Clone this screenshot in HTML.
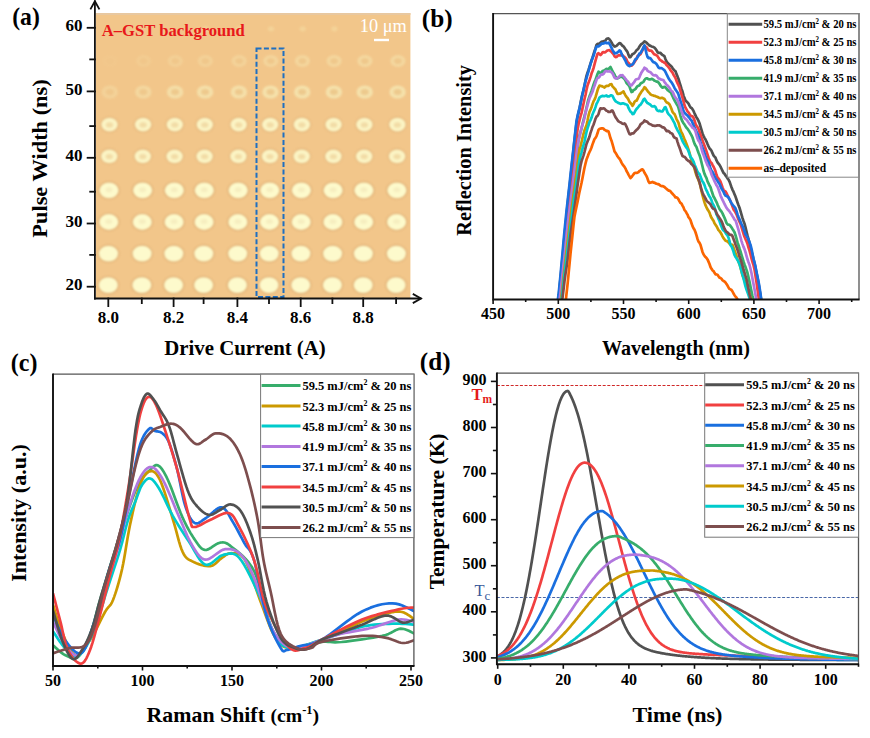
<!DOCTYPE html>
<html><head><meta charset="utf-8"><style>
html,body{margin:0;padding:0;background:#fff;width:870px;height:738px;overflow:hidden}
svg text{font-family:"Liberation Serif",serif}
</style></head><body>
<svg width="870" height="738" viewBox="0 0 870 738" style="display:block">
<defs>
<filter id="bl05" x="-50%" y="-50%" width="200%" height="200%"><feGaussianBlur stdDeviation="0.7"/></filter>
<filter id="bl1" x="-50%" y="-50%" width="200%" height="200%"><feGaussianBlur stdDeviation="1.3"/></filter>
<linearGradient id="topg" x1="0" y1="0" x2="0" y2="1"><stop offset="0" stop-color="#F0C49A" stop-opacity="0.6"/><stop offset="1" stop-color="#F0C49A" stop-opacity="0"/></linearGradient>
</defs>
<rect width="870" height="738" fill="#fff"/>
<rect x="95.8" y="13" width="314.59999999999997" height="285" fill="#F2C68A"/>
<rect x="95.8" y="13" width="314.59999999999997" height="2" fill="#E8C8A0"/>
<ellipse cx="108.3" cy="285.1" rx="11.0" ry="9.3" fill="#D4A068" opacity="0.45" filter="url(#bl1)"/>
<ellipse cx="108.3" cy="285.1" rx="9.6" ry="7.9" fill="#FDFACC" filter="url(#bl1)"/>
<ellipse cx="141.8" cy="285.1" rx="11.0" ry="9.3" fill="#D4A068" opacity="0.45" filter="url(#bl1)"/>
<ellipse cx="141.8" cy="285.1" rx="9.6" ry="7.9" fill="#FDFACC" filter="url(#bl1)"/>
<ellipse cx="173.6" cy="285.1" rx="11.0" ry="9.3" fill="#D4A068" opacity="0.45" filter="url(#bl1)"/>
<ellipse cx="173.6" cy="285.1" rx="9.6" ry="7.9" fill="#FDFACC" filter="url(#bl1)"/>
<ellipse cx="203.6" cy="285.1" rx="11.0" ry="9.3" fill="#D4A068" opacity="0.45" filter="url(#bl1)"/>
<ellipse cx="203.6" cy="285.1" rx="9.6" ry="7.9" fill="#FDFACC" filter="url(#bl1)"/>
<ellipse cx="237.4" cy="285.1" rx="11.0" ry="9.3" fill="#D4A068" opacity="0.45" filter="url(#bl1)"/>
<ellipse cx="237.4" cy="285.1" rx="9.6" ry="7.9" fill="#FDFACC" filter="url(#bl1)"/>
<ellipse cx="269.0" cy="285.1" rx="11.0" ry="9.3" fill="#D4A068" opacity="0.45" filter="url(#bl1)"/>
<ellipse cx="269.0" cy="285.1" rx="9.6" ry="7.9" fill="#FDFACC" filter="url(#bl1)"/>
<ellipse cx="300.7" cy="285.1" rx="11.0" ry="9.3" fill="#D4A068" opacity="0.45" filter="url(#bl1)"/>
<ellipse cx="300.7" cy="285.1" rx="9.6" ry="7.9" fill="#FDFACC" filter="url(#bl1)"/>
<ellipse cx="332.4" cy="285.1" rx="11.0" ry="9.3" fill="#D4A068" opacity="0.45" filter="url(#bl1)"/>
<ellipse cx="332.4" cy="285.1" rx="9.6" ry="7.9" fill="#FDFACC" filter="url(#bl1)"/>
<ellipse cx="363.2" cy="285.1" rx="11.0" ry="9.3" fill="#D4A068" opacity="0.45" filter="url(#bl1)"/>
<ellipse cx="363.2" cy="285.1" rx="9.6" ry="7.9" fill="#FDFACC" filter="url(#bl1)"/>
<ellipse cx="396.1" cy="285.1" rx="11.0" ry="9.3" fill="#D4A068" opacity="0.45" filter="url(#bl1)"/>
<ellipse cx="396.1" cy="285.1" rx="9.6" ry="7.9" fill="#FDFACC" filter="url(#bl1)"/>
<ellipse cx="108.5" cy="253.6" rx="11.0" ry="9.3" fill="#D4A068" opacity="0.45" filter="url(#bl1)"/>
<ellipse cx="108.5" cy="253.6" rx="9.6" ry="7.9" fill="#FDFACC" filter="url(#bl1)"/>
<ellipse cx="142.1" cy="253.6" rx="11.0" ry="9.3" fill="#D4A068" opacity="0.45" filter="url(#bl1)"/>
<ellipse cx="142.1" cy="253.6" rx="9.6" ry="7.9" fill="#FDFACC" filter="url(#bl1)"/>
<ellipse cx="173.8" cy="253.6" rx="11.0" ry="9.3" fill="#D4A068" opacity="0.45" filter="url(#bl1)"/>
<ellipse cx="173.8" cy="253.6" rx="9.6" ry="7.9" fill="#FDFACC" filter="url(#bl1)"/>
<ellipse cx="203.8" cy="253.6" rx="11.0" ry="9.3" fill="#D4A068" opacity="0.45" filter="url(#bl1)"/>
<ellipse cx="203.8" cy="253.6" rx="9.6" ry="7.9" fill="#FDFACC" filter="url(#bl1)"/>
<ellipse cx="237.7" cy="253.6" rx="11.0" ry="9.3" fill="#D4A068" opacity="0.45" filter="url(#bl1)"/>
<ellipse cx="237.7" cy="253.6" rx="9.6" ry="7.9" fill="#FDFACC" filter="url(#bl1)"/>
<ellipse cx="269.2" cy="253.6" rx="11.0" ry="9.3" fill="#D4A068" opacity="0.45" filter="url(#bl1)"/>
<ellipse cx="269.2" cy="253.6" rx="9.6" ry="7.9" fill="#FDFACC" filter="url(#bl1)"/>
<ellipse cx="300.9" cy="253.6" rx="11.0" ry="9.3" fill="#D4A068" opacity="0.45" filter="url(#bl1)"/>
<ellipse cx="300.9" cy="253.6" rx="9.6" ry="7.9" fill="#FDFACC" filter="url(#bl1)"/>
<ellipse cx="332.6" cy="253.6" rx="11.0" ry="9.3" fill="#D4A068" opacity="0.45" filter="url(#bl1)"/>
<ellipse cx="332.6" cy="253.6" rx="9.6" ry="7.9" fill="#FDFACC" filter="url(#bl1)"/>
<ellipse cx="363.4" cy="253.6" rx="11.0" ry="9.3" fill="#D4A068" opacity="0.45" filter="url(#bl1)"/>
<ellipse cx="363.4" cy="253.6" rx="9.6" ry="7.9" fill="#FDFACC" filter="url(#bl1)"/>
<ellipse cx="396.4" cy="253.6" rx="11.0" ry="9.3" fill="#D4A068" opacity="0.45" filter="url(#bl1)"/>
<ellipse cx="396.4" cy="253.6" rx="9.6" ry="7.9" fill="#FDFACC" filter="url(#bl1)"/>
<ellipse cx="108.8" cy="222.0" rx="11.0" ry="9.3" fill="#D4A068" opacity="0.45" filter="url(#bl1)"/>
<ellipse cx="108.8" cy="222.0" rx="9.6" ry="7.9" fill="#FDFACC" filter="url(#bl1)"/>
<ellipse cx="108.8" cy="221.5" rx="3.5" ry="2.5" fill="#F6EEC0" filter="url(#bl1)"/>
<ellipse cx="142.3" cy="222.0" rx="11.0" ry="9.3" fill="#D4A068" opacity="0.45" filter="url(#bl1)"/>
<ellipse cx="142.3" cy="222.0" rx="9.6" ry="7.9" fill="#FDFACC" filter="url(#bl1)"/>
<ellipse cx="142.3" cy="221.5" rx="3.5" ry="2.5" fill="#F6EEC0" filter="url(#bl1)"/>
<ellipse cx="174.1" cy="222.0" rx="11.0" ry="9.3" fill="#D4A068" opacity="0.45" filter="url(#bl1)"/>
<ellipse cx="174.1" cy="222.0" rx="9.6" ry="7.9" fill="#FDFACC" filter="url(#bl1)"/>
<ellipse cx="174.1" cy="221.5" rx="3.5" ry="2.5" fill="#F6EEC0" filter="url(#bl1)"/>
<ellipse cx="204.1" cy="222.0" rx="11.0" ry="9.3" fill="#D4A068" opacity="0.45" filter="url(#bl1)"/>
<ellipse cx="204.1" cy="222.0" rx="9.6" ry="7.9" fill="#FDFACC" filter="url(#bl1)"/>
<ellipse cx="204.1" cy="221.5" rx="3.5" ry="2.5" fill="#F6EEC0" filter="url(#bl1)"/>
<ellipse cx="237.9" cy="222.0" rx="11.0" ry="9.3" fill="#D4A068" opacity="0.45" filter="url(#bl1)"/>
<ellipse cx="237.9" cy="222.0" rx="9.6" ry="7.9" fill="#FDFACC" filter="url(#bl1)"/>
<ellipse cx="237.9" cy="221.5" rx="3.5" ry="2.5" fill="#F6EEC0" filter="url(#bl1)"/>
<ellipse cx="269.5" cy="222.0" rx="11.0" ry="9.3" fill="#D4A068" opacity="0.45" filter="url(#bl1)"/>
<ellipse cx="269.5" cy="222.0" rx="9.6" ry="7.9" fill="#FDFACC" filter="url(#bl1)"/>
<ellipse cx="269.5" cy="221.5" rx="3.5" ry="2.5" fill="#F6EEC0" filter="url(#bl1)"/>
<ellipse cx="301.2" cy="222.0" rx="11.0" ry="9.3" fill="#D4A068" opacity="0.45" filter="url(#bl1)"/>
<ellipse cx="301.2" cy="222.0" rx="9.6" ry="7.9" fill="#FDFACC" filter="url(#bl1)"/>
<ellipse cx="301.2" cy="221.5" rx="3.5" ry="2.5" fill="#F6EEC0" filter="url(#bl1)"/>
<ellipse cx="332.9" cy="222.0" rx="11.0" ry="9.3" fill="#D4A068" opacity="0.45" filter="url(#bl1)"/>
<ellipse cx="332.9" cy="222.0" rx="9.6" ry="7.9" fill="#FDFACC" filter="url(#bl1)"/>
<ellipse cx="332.9" cy="221.5" rx="3.5" ry="2.5" fill="#F6EEC0" filter="url(#bl1)"/>
<ellipse cx="363.7" cy="222.0" rx="11.0" ry="9.3" fill="#D4A068" opacity="0.45" filter="url(#bl1)"/>
<ellipse cx="363.7" cy="222.0" rx="9.6" ry="7.9" fill="#FDFACC" filter="url(#bl1)"/>
<ellipse cx="363.7" cy="221.5" rx="3.5" ry="2.5" fill="#F6EEC0" filter="url(#bl1)"/>
<ellipse cx="396.6" cy="222.0" rx="11.0" ry="9.3" fill="#D4A068" opacity="0.45" filter="url(#bl1)"/>
<ellipse cx="396.6" cy="222.0" rx="9.6" ry="7.9" fill="#FDFACC" filter="url(#bl1)"/>
<ellipse cx="396.6" cy="221.5" rx="3.5" ry="2.5" fill="#F6EEC0" filter="url(#bl1)"/>
<ellipse cx="109.0" cy="190.3" rx="11.0" ry="9.3" fill="#D4A068" opacity="0.45" filter="url(#bl1)"/>
<ellipse cx="109.0" cy="190.3" rx="9.6" ry="7.9" fill="#FDFACC" filter="url(#bl1)"/>
<ellipse cx="109.0" cy="189.8" rx="3.5" ry="2.5" fill="#F6EEC0" filter="url(#bl1)"/>
<ellipse cx="142.6" cy="190.3" rx="11.0" ry="9.3" fill="#D4A068" opacity="0.45" filter="url(#bl1)"/>
<ellipse cx="142.6" cy="190.3" rx="9.6" ry="7.9" fill="#FDFACC" filter="url(#bl1)"/>
<ellipse cx="142.6" cy="189.8" rx="3.5" ry="2.5" fill="#F6EEC0" filter="url(#bl1)"/>
<ellipse cx="174.3" cy="190.3" rx="11.0" ry="9.3" fill="#D4A068" opacity="0.45" filter="url(#bl1)"/>
<ellipse cx="174.3" cy="190.3" rx="9.6" ry="7.9" fill="#FDFACC" filter="url(#bl1)"/>
<ellipse cx="174.3" cy="189.8" rx="3.5" ry="2.5" fill="#F6EEC0" filter="url(#bl1)"/>
<ellipse cx="204.3" cy="190.3" rx="11.0" ry="9.3" fill="#D4A068" opacity="0.45" filter="url(#bl1)"/>
<ellipse cx="204.3" cy="190.3" rx="9.6" ry="7.9" fill="#FDFACC" filter="url(#bl1)"/>
<ellipse cx="204.3" cy="189.8" rx="3.5" ry="2.5" fill="#F6EEC0" filter="url(#bl1)"/>
<ellipse cx="238.2" cy="190.3" rx="11.0" ry="9.3" fill="#D4A068" opacity="0.45" filter="url(#bl1)"/>
<ellipse cx="238.2" cy="190.3" rx="9.6" ry="7.9" fill="#FDFACC" filter="url(#bl1)"/>
<ellipse cx="238.2" cy="189.8" rx="3.5" ry="2.5" fill="#F6EEC0" filter="url(#bl1)"/>
<ellipse cx="269.8" cy="190.3" rx="11.0" ry="9.3" fill="#D4A068" opacity="0.45" filter="url(#bl1)"/>
<ellipse cx="269.8" cy="190.3" rx="9.6" ry="7.9" fill="#FDFACC" filter="url(#bl1)"/>
<ellipse cx="269.8" cy="189.8" rx="3.5" ry="2.5" fill="#F6EEC0" filter="url(#bl1)"/>
<ellipse cx="301.4" cy="190.3" rx="11.0" ry="9.3" fill="#D4A068" opacity="0.45" filter="url(#bl1)"/>
<ellipse cx="301.4" cy="190.3" rx="9.6" ry="7.9" fill="#FDFACC" filter="url(#bl1)"/>
<ellipse cx="301.4" cy="189.8" rx="3.5" ry="2.5" fill="#F6EEC0" filter="url(#bl1)"/>
<ellipse cx="333.1" cy="190.3" rx="11.0" ry="9.3" fill="#D4A068" opacity="0.45" filter="url(#bl1)"/>
<ellipse cx="333.1" cy="190.3" rx="9.6" ry="7.9" fill="#FDFACC" filter="url(#bl1)"/>
<ellipse cx="333.1" cy="189.8" rx="3.5" ry="2.5" fill="#F6EEC0" filter="url(#bl1)"/>
<ellipse cx="363.9" cy="190.3" rx="11.0" ry="9.3" fill="#D4A068" opacity="0.45" filter="url(#bl1)"/>
<ellipse cx="363.9" cy="190.3" rx="9.6" ry="7.9" fill="#FDFACC" filter="url(#bl1)"/>
<ellipse cx="363.9" cy="189.8" rx="3.5" ry="2.5" fill="#F6EEC0" filter="url(#bl1)"/>
<ellipse cx="396.9" cy="190.3" rx="11.0" ry="9.3" fill="#D4A068" opacity="0.45" filter="url(#bl1)"/>
<ellipse cx="396.9" cy="190.3" rx="9.6" ry="7.9" fill="#FDFACC" filter="url(#bl1)"/>
<ellipse cx="396.9" cy="189.8" rx="3.5" ry="2.5" fill="#F6EEC0" filter="url(#bl1)"/>
<ellipse cx="109.3" cy="156.3" rx="9.6" ry="8.2" fill="#D4A068" opacity="0.35" filter="url(#bl1)"/>
<ellipse cx="109.3" cy="156.3" rx="8.3" ry="6.9" fill="#FBF4C4" filter="url(#bl1)"/>
<ellipse cx="109.3" cy="156.6" rx="3.6" ry="2.7" fill="#F2DCA6" filter="url(#bl1)"/>
<ellipse cx="142.8" cy="156.3" rx="9.6" ry="8.2" fill="#D4A068" opacity="0.35" filter="url(#bl1)"/>
<ellipse cx="142.8" cy="156.3" rx="8.3" ry="6.9" fill="#FBF4C4" filter="url(#bl1)"/>
<ellipse cx="142.8" cy="156.6" rx="3.6" ry="2.7" fill="#F2DCA6" filter="url(#bl1)"/>
<ellipse cx="174.6" cy="156.3" rx="9.6" ry="8.2" fill="#D4A068" opacity="0.35" filter="url(#bl1)"/>
<ellipse cx="174.6" cy="156.3" rx="8.3" ry="6.9" fill="#FBF4C4" filter="url(#bl1)"/>
<ellipse cx="174.6" cy="156.6" rx="3.6" ry="2.7" fill="#F2DCA6" filter="url(#bl1)"/>
<ellipse cx="204.6" cy="156.3" rx="9.6" ry="8.2" fill="#D4A068" opacity="0.35" filter="url(#bl1)"/>
<ellipse cx="204.6" cy="156.3" rx="8.3" ry="6.9" fill="#FBF4C4" filter="url(#bl1)"/>
<ellipse cx="204.6" cy="156.6" rx="3.6" ry="2.7" fill="#F2DCA6" filter="url(#bl1)"/>
<ellipse cx="238.4" cy="156.3" rx="9.6" ry="8.2" fill="#D4A068" opacity="0.35" filter="url(#bl1)"/>
<ellipse cx="238.4" cy="156.3" rx="8.3" ry="6.9" fill="#FBF4C4" filter="url(#bl1)"/>
<ellipse cx="238.4" cy="156.6" rx="3.6" ry="2.7" fill="#F2DCA6" filter="url(#bl1)"/>
<ellipse cx="270.0" cy="156.3" rx="9.6" ry="8.2" fill="#D4A068" opacity="0.35" filter="url(#bl1)"/>
<ellipse cx="270.0" cy="156.3" rx="8.3" ry="6.9" fill="#FBF4C4" filter="url(#bl1)"/>
<ellipse cx="270.0" cy="156.6" rx="3.6" ry="2.7" fill="#F2DCA6" filter="url(#bl1)"/>
<ellipse cx="301.7" cy="156.3" rx="9.6" ry="8.2" fill="#D4A068" opacity="0.35" filter="url(#bl1)"/>
<ellipse cx="301.7" cy="156.3" rx="8.3" ry="6.9" fill="#FBF4C4" filter="url(#bl1)"/>
<ellipse cx="301.7" cy="156.6" rx="3.6" ry="2.7" fill="#F2DCA6" filter="url(#bl1)"/>
<ellipse cx="333.4" cy="156.3" rx="9.6" ry="8.2" fill="#D4A068" opacity="0.35" filter="url(#bl1)"/>
<ellipse cx="333.4" cy="156.3" rx="8.3" ry="6.9" fill="#FBF4C4" filter="url(#bl1)"/>
<ellipse cx="333.4" cy="156.6" rx="3.6" ry="2.7" fill="#F2DCA6" filter="url(#bl1)"/>
<ellipse cx="364.2" cy="156.3" rx="9.6" ry="8.2" fill="#D4A068" opacity="0.35" filter="url(#bl1)"/>
<ellipse cx="364.2" cy="156.3" rx="8.3" ry="6.9" fill="#FBF4C4" filter="url(#bl1)"/>
<ellipse cx="364.2" cy="156.6" rx="3.6" ry="2.7" fill="#F2DCA6" filter="url(#bl1)"/>
<ellipse cx="397.1" cy="156.3" rx="9.6" ry="8.2" fill="#D4A068" opacity="0.35" filter="url(#bl1)"/>
<ellipse cx="397.1" cy="156.3" rx="8.3" ry="6.9" fill="#FBF4C4" filter="url(#bl1)"/>
<ellipse cx="397.1" cy="156.6" rx="3.6" ry="2.7" fill="#F2DCA6" filter="url(#bl1)"/>
<ellipse cx="109.5" cy="124.6" rx="9.6" ry="8.2" fill="#D4A068" opacity="0.35" filter="url(#bl1)"/>
<ellipse cx="109.5" cy="124.6" rx="8.3" ry="6.9" fill="#FBF4C4" filter="url(#bl1)"/>
<ellipse cx="109.5" cy="124.9" rx="3.6" ry="2.7" fill="#F2DCA6" filter="url(#bl1)"/>
<ellipse cx="143.1" cy="124.6" rx="9.6" ry="8.2" fill="#D4A068" opacity="0.35" filter="url(#bl1)"/>
<ellipse cx="143.1" cy="124.6" rx="8.3" ry="6.9" fill="#FBF4C4" filter="url(#bl1)"/>
<ellipse cx="143.1" cy="124.9" rx="3.6" ry="2.7" fill="#F2DCA6" filter="url(#bl1)"/>
<ellipse cx="174.8" cy="124.6" rx="9.6" ry="8.2" fill="#D4A068" opacity="0.35" filter="url(#bl1)"/>
<ellipse cx="174.8" cy="124.6" rx="8.3" ry="6.9" fill="#FBF4C4" filter="url(#bl1)"/>
<ellipse cx="174.8" cy="124.9" rx="3.6" ry="2.7" fill="#F2DCA6" filter="url(#bl1)"/>
<ellipse cx="204.8" cy="124.6" rx="9.6" ry="8.2" fill="#D4A068" opacity="0.35" filter="url(#bl1)"/>
<ellipse cx="204.8" cy="124.6" rx="8.3" ry="6.9" fill="#FBF4C4" filter="url(#bl1)"/>
<ellipse cx="204.8" cy="124.9" rx="3.6" ry="2.7" fill="#F2DCA6" filter="url(#bl1)"/>
<ellipse cx="238.7" cy="124.6" rx="9.6" ry="8.2" fill="#D4A068" opacity="0.35" filter="url(#bl1)"/>
<ellipse cx="238.7" cy="124.6" rx="8.3" ry="6.9" fill="#FBF4C4" filter="url(#bl1)"/>
<ellipse cx="238.7" cy="124.9" rx="3.6" ry="2.7" fill="#F2DCA6" filter="url(#bl1)"/>
<ellipse cx="270.2" cy="124.6" rx="9.6" ry="8.2" fill="#D4A068" opacity="0.35" filter="url(#bl1)"/>
<ellipse cx="270.2" cy="124.6" rx="8.3" ry="6.9" fill="#FBF4C4" filter="url(#bl1)"/>
<ellipse cx="270.2" cy="124.9" rx="3.6" ry="2.7" fill="#F2DCA6" filter="url(#bl1)"/>
<ellipse cx="301.9" cy="124.6" rx="9.6" ry="8.2" fill="#D4A068" opacity="0.35" filter="url(#bl1)"/>
<ellipse cx="301.9" cy="124.6" rx="8.3" ry="6.9" fill="#FBF4C4" filter="url(#bl1)"/>
<ellipse cx="301.9" cy="124.9" rx="3.6" ry="2.7" fill="#F2DCA6" filter="url(#bl1)"/>
<ellipse cx="333.6" cy="124.6" rx="9.6" ry="8.2" fill="#D4A068" opacity="0.35" filter="url(#bl1)"/>
<ellipse cx="333.6" cy="124.6" rx="8.3" ry="6.9" fill="#FBF4C4" filter="url(#bl1)"/>
<ellipse cx="333.6" cy="124.9" rx="3.6" ry="2.7" fill="#F2DCA6" filter="url(#bl1)"/>
<ellipse cx="364.4" cy="124.6" rx="9.6" ry="8.2" fill="#D4A068" opacity="0.35" filter="url(#bl1)"/>
<ellipse cx="364.4" cy="124.6" rx="8.3" ry="6.9" fill="#FBF4C4" filter="url(#bl1)"/>
<ellipse cx="364.4" cy="124.9" rx="3.6" ry="2.7" fill="#F2DCA6" filter="url(#bl1)"/>
<ellipse cx="397.4" cy="124.6" rx="9.6" ry="8.2" fill="#D4A068" opacity="0.35" filter="url(#bl1)"/>
<ellipse cx="397.4" cy="124.6" rx="8.3" ry="6.9" fill="#FBF4C4" filter="url(#bl1)"/>
<ellipse cx="397.4" cy="124.9" rx="3.6" ry="2.7" fill="#F2DCA6" filter="url(#bl1)"/>
<g opacity="0.35"><ellipse cx="109.8" cy="92.0" rx="8.2" ry="6.6" fill="#F6E8B4" filter="url(#bl1)"/>
<ellipse cx="109.8" cy="92.0" rx="4" ry="3" fill="#EDCB8E" filter="url(#bl1)"/></g>
<g opacity="0.5"><ellipse cx="143.3" cy="92.0" rx="8.2" ry="6.6" fill="#F6E8B4" filter="url(#bl1)"/>
<ellipse cx="143.3" cy="92.0" rx="4" ry="3" fill="#EDCB8E" filter="url(#bl1)"/></g>
<g opacity="0.7"><ellipse cx="175.1" cy="92.0" rx="8.2" ry="6.6" fill="#F6E8B4" filter="url(#bl1)"/>
<ellipse cx="175.1" cy="92.0" rx="4" ry="3" fill="#EDCB8E" filter="url(#bl1)"/></g>
<g opacity="0.75"><ellipse cx="205.1" cy="92.0" rx="8.2" ry="6.6" fill="#F6E8B4" filter="url(#bl1)"/>
<ellipse cx="205.1" cy="92.0" rx="4" ry="3" fill="#EDCB8E" filter="url(#bl1)"/></g>
<g opacity="0.75"><ellipse cx="238.9" cy="92.0" rx="8.2" ry="6.6" fill="#F6E8B4" filter="url(#bl1)"/>
<ellipse cx="238.9" cy="92.0" rx="4" ry="3" fill="#EDCB8E" filter="url(#bl1)"/></g>
<g opacity="0.8"><ellipse cx="270.5" cy="92.0" rx="8.2" ry="6.6" fill="#F6E8B4" filter="url(#bl1)"/>
<ellipse cx="270.5" cy="92.0" rx="4" ry="3" fill="#EDCB8E" filter="url(#bl1)"/></g>
<g opacity="0.8"><ellipse cx="302.2" cy="92.0" rx="8.2" ry="6.6" fill="#F6E8B4" filter="url(#bl1)"/>
<ellipse cx="302.2" cy="92.0" rx="4" ry="3" fill="#EDCB8E" filter="url(#bl1)"/></g>
<g opacity="0.8"><ellipse cx="333.9" cy="92.0" rx="8.2" ry="6.6" fill="#F6E8B4" filter="url(#bl1)"/>
<ellipse cx="333.9" cy="92.0" rx="4" ry="3" fill="#EDCB8E" filter="url(#bl1)"/></g>
<g opacity="0.8"><ellipse cx="364.7" cy="92.0" rx="8.2" ry="6.6" fill="#F6E8B4" filter="url(#bl1)"/>
<ellipse cx="364.7" cy="92.0" rx="4" ry="3" fill="#EDCB8E" filter="url(#bl1)"/></g>
<g opacity="0.8"><ellipse cx="397.6" cy="92.0" rx="8.2" ry="6.6" fill="#F6E8B4" filter="url(#bl1)"/>
<ellipse cx="397.6" cy="92.0" rx="4" ry="3" fill="#EDCB8E" filter="url(#bl1)"/></g>
<g opacity="0.05"><ellipse cx="110.0" cy="61.1" rx="7.6" ry="6" fill="#F6E6B0" filter="url(#bl1)"/>
<ellipse cx="110.0" cy="61.1" rx="3.8" ry="2.8" fill="#EDC98C" filter="url(#bl1)"/></g>
<g opacity="0.18"><ellipse cx="143.6" cy="61.1" rx="7.6" ry="6" fill="#F6E6B0" filter="url(#bl1)"/>
<ellipse cx="143.6" cy="61.1" rx="3.8" ry="2.8" fill="#EDC98C" filter="url(#bl1)"/></g>
<g opacity="0.3"><ellipse cx="175.3" cy="61.1" rx="7.6" ry="6" fill="#F6E6B0" filter="url(#bl1)"/>
<ellipse cx="175.3" cy="61.1" rx="3.8" ry="2.8" fill="#EDC98C" filter="url(#bl1)"/></g>
<g opacity="0.35"><ellipse cx="205.3" cy="61.1" rx="7.6" ry="6" fill="#F6E6B0" filter="url(#bl1)"/>
<ellipse cx="205.3" cy="61.1" rx="3.8" ry="2.8" fill="#EDC98C" filter="url(#bl1)"/></g>
<g opacity="0.4"><ellipse cx="239.2" cy="61.1" rx="7.6" ry="6" fill="#F6E6B0" filter="url(#bl1)"/>
<ellipse cx="239.2" cy="61.1" rx="3.8" ry="2.8" fill="#EDC98C" filter="url(#bl1)"/></g>
<g opacity="0.48"><ellipse cx="270.8" cy="61.1" rx="7.6" ry="6" fill="#F6E6B0" filter="url(#bl1)"/>
<ellipse cx="270.8" cy="61.1" rx="3.8" ry="2.8" fill="#EDC98C" filter="url(#bl1)"/></g>
<g opacity="0.5"><ellipse cx="302.4" cy="61.1" rx="7.6" ry="6" fill="#F6E6B0" filter="url(#bl1)"/>
<ellipse cx="302.4" cy="61.1" rx="3.8" ry="2.8" fill="#EDC98C" filter="url(#bl1)"/></g>
<g opacity="0.5"><ellipse cx="334.1" cy="61.1" rx="7.6" ry="6" fill="#F6E6B0" filter="url(#bl1)"/>
<ellipse cx="334.1" cy="61.1" rx="3.8" ry="2.8" fill="#EDC98C" filter="url(#bl1)"/></g>
<g opacity="0.55"><ellipse cx="364.9" cy="61.1" rx="7.6" ry="6" fill="#F6E6B0" filter="url(#bl1)"/>
<ellipse cx="364.9" cy="61.1" rx="3.8" ry="2.8" fill="#EDC98C" filter="url(#bl1)"/></g>
<g opacity="0.55"><ellipse cx="397.9" cy="61.1" rx="7.6" ry="6" fill="#F6E6B0" filter="url(#bl1)"/>
<ellipse cx="397.9" cy="61.1" rx="3.8" ry="2.8" fill="#EDC98C" filter="url(#bl1)"/></g>
<ellipse cx="205.6" cy="28.8" rx="3.2" ry="2.6" fill="#F6E2A8" opacity="0.45" filter="url(#bl1)"/>
<ellipse cx="239.4" cy="28.8" rx="3.2" ry="2.6" fill="#F6E2A8" opacity="0.45" filter="url(#bl1)"/>
<ellipse cx="271.0" cy="28.8" rx="3.2" ry="2.6" fill="#F6E2A8" opacity="0.45" filter="url(#bl1)"/>
<ellipse cx="302.7" cy="28.8" rx="3.2" ry="2.6" fill="#F6E2A8" opacity="0.45" filter="url(#bl1)"/>
<ellipse cx="334.4" cy="28.8" rx="3.2" ry="2.6" fill="#F6E2A8" opacity="0.45" filter="url(#bl1)"/>
<ellipse cx="365.2" cy="28.8" rx="3.2" ry="2.6" fill="#F6E2A8" opacity="0.45" filter="url(#bl1)"/>
<rect x="256.5" y="48.5" width="27" height="248.5" fill="none" stroke="#1F6FC0" stroke-width="2" stroke-dasharray="5,2.4"/>
<text x="101.8" y="35.8" font-size="16.6" text-anchor="start" fill="#E8181A" font-weight="bold" textLength="143" lengthAdjust="spacingAndGlyphs" >A–GST background</text>
<text x="359.8" y="31.8" font-size="18" text-anchor="start" fill="#FFFFFF" font-weight="normal" textLength="47" lengthAdjust="spacingAndGlyphs" >10 μm</text>
<rect x="374" y="38.8" width="15" height="2.4" fill="#FFFFFF"/>
<g stroke="#111" stroke-width="1.8" fill="none" stroke-linecap="square">
<path d="M94.9,298.5 L94.9,1.5"/><path d="M90.8,8.6 L94.9,1.2 L99.0,8.6" stroke-linejoin="miter"/>
<path d="M94.9,298.5 L420.5,298.5"/><path d="M413.6,294.3 L421,298.5 L413.6,302.7"/>
<path d="M87.6,286.7 L94.9,286.7"/>
<path d="M87.6,223.5 L94.9,223.5"/>
<path d="M87.6,157.8 L94.9,157.8"/>
<path d="M87.6,91.4 L94.9,91.4"/>
<path d="M87.6,27.8 L94.9,27.8"/>
<path d="M90.2,254.9 L94.9,254.9"/>
<path d="M90.2,191.7 L94.9,191.7"/>
<path d="M90.2,126.1 L94.9,126.1"/>
<path d="M90.2,59.4 L94.9,59.4"/>
<path d="M108.3,298.5 L108.3,306.1"/>
<path d="M141.8,298.5 L141.8,303.1"/>
<path d="M173.6,298.5 L173.6,306.1"/>
<path d="M203.6,298.5 L203.6,303.1"/>
<path d="M237.4,298.5 L237.4,306.1"/>
<path d="M269.0,298.5 L269.0,303.1"/>
<path d="M300.7,298.5 L300.7,306.1"/>
<path d="M332.4,298.5 L332.4,303.1"/>
<path d="M363.2,298.5 L363.2,306.1"/>
<path d="M396.1,298.5 L396.1,303.1"/>
</g>
<text x="82.5" y="290.1" font-size="17" text-anchor="end" fill="#000" font-weight="bold" >20</text>
<text x="82.5" y="226.9" font-size="17" text-anchor="end" fill="#000" font-weight="bold" >30</text>
<text x="82.5" y="161.2" font-size="17" text-anchor="end" fill="#000" font-weight="bold" >40</text>
<text x="82.5" y="94.8" font-size="17" text-anchor="end" fill="#000" font-weight="bold" >50</text>
<text x="82.5" y="31.2" font-size="17" text-anchor="end" fill="#000" font-weight="bold" >60</text>
<text x="108.3" y="322.8" font-size="17" text-anchor="middle" fill="#000" font-weight="bold" >8.0</text>
<text x="173.6" y="322.8" font-size="17" text-anchor="middle" fill="#000" font-weight="bold" >8.2</text>
<text x="237.4" y="322.8" font-size="17" text-anchor="middle" fill="#000" font-weight="bold" >8.4</text>
<text x="300.7" y="322.8" font-size="17" text-anchor="middle" fill="#000" font-weight="bold" >8.6</text>
<text x="363.2" y="322.8" font-size="17" text-anchor="middle" fill="#000" font-weight="bold" >8.8</text>
<text x="245" y="354.5" font-size="21" text-anchor="middle" fill="#000" font-weight="bold" textLength="161.6" lengthAdjust="spacingAndGlyphs" >Drive Current (A)</text>
<text transform="translate(47,158.5) rotate(-90)" x="0" y="0" font-size="21" text-anchor="middle" font-weight="bold" textLength="158.4" lengthAdjust="spacingAndGlyphs">Pulse Width (ns)</text>
<text x="12.2" y="25.2" font-size="25.5" text-anchor="start" fill="#000" font-weight="bold" textLength="27.6" lengthAdjust="spacingAndGlyphs" >(a)</text>
<svg x="493.1" y="13.6" width="365.9" height="285.9" viewBox="493.1 13.6 365.9 285.9" overflow="hidden">
<path d="M555.50,305.11 L556.50,305.05 L557.50,304.64 L558.50,299.28 L559.50,288.48 L560.50,278.18 L561.50,268.40 L562.50,258.16 L563.50,247.08 L564.50,236.16 L565.50,226.03 L566.50,215.70 L567.50,205.34 L568.50,196.06 L569.50,187.40 L570.50,178.33 L571.50,168.92 L572.50,159.05 L573.50,149.89 L574.50,140.45 L575.50,132.01 L576.50,123.22 L577.50,117.11 L578.50,112.92 L579.50,108.78 L580.50,103.16 L581.50,98.08 L582.50,93.84 L583.50,90.36 L584.50,85.48 L585.50,80.58 L586.50,75.89 L587.50,72.75 L588.50,70.00 L589.50,66.95 L590.50,63.66 L591.50,60.49 L592.50,57.66 L593.50,54.41 L594.50,51.14 L595.50,48.38 L596.50,44.92 L597.50,43.88 L598.50,43.90 L599.50,43.32 L600.50,42.62 L601.50,41.83 L602.50,41.45 L603.50,41.22 L604.50,41.27 L605.50,40.39 L606.50,38.90 L607.50,38.48 L608.50,38.40 L609.50,39.39 L610.50,40.71 L611.50,42.39 L612.50,44.22 L613.50,45.54 L614.50,46.55 L615.50,46.34 L616.50,45.89 L617.50,44.78 L618.50,43.90 L619.50,43.19 L620.50,43.36 L621.50,44.58 L622.50,45.75 L623.50,46.36 L624.50,47.79 L625.50,49.28 L626.50,50.63 L627.50,52.10 L628.50,54.92 L629.50,57.07 L630.50,57.19 L631.50,55.46 L632.50,54.10 L633.50,53.81 L634.50,53.01 L635.50,51.74 L636.50,50.32 L637.50,49.52 L638.50,48.35 L639.50,46.51 L640.50,45.15 L641.50,43.91 L642.50,43.43 L643.50,42.59 L644.50,41.40 L645.50,42.00 L646.50,42.59 L647.50,43.75 L648.50,44.55 L649.50,45.64 L650.50,45.71 L651.50,46.48 L652.50,46.71 L653.50,47.06 L654.50,47.65 L655.50,48.84 L656.50,50.26 L657.50,52.01 L658.50,52.96 L659.50,52.94 L660.50,52.87 L661.50,54.13 L662.50,55.00 L663.50,55.42 L664.50,56.34 L665.50,59.20 L666.50,61.35 L667.50,62.74 L668.50,63.67 L669.50,64.66 L670.50,65.64 L671.50,66.46 L672.50,68.07 L673.50,69.26 L674.50,70.50 L675.50,71.30 L676.50,74.12 L677.50,76.41 L678.50,78.99 L679.50,82.30 L680.50,85.46 L681.50,88.93 L682.50,91.56 L683.50,95.37 L684.50,98.10 L685.50,100.42 L686.50,101.59 L687.50,102.46 L688.50,103.63 L689.50,105.68 L690.50,107.46 L691.50,107.91 L692.50,109.26 L693.50,110.92 L694.50,113.32 L695.50,115.42 L696.50,117.55 L697.50,118.89 L698.50,120.90 L699.50,123.24 L700.50,126.71 L701.50,129.98 L702.50,133.42 L703.50,135.87 L704.50,137.87 L705.50,139.50 L706.50,141.53 L707.50,143.96 L708.50,146.21 L709.50,148.29 L710.50,149.41 L711.50,150.74 L712.50,153.17 L713.50,155.37 L714.50,156.61 L715.50,157.70 L716.50,160.44 L717.50,162.32 L718.50,163.65 L719.50,164.94 L720.50,166.67 L721.50,168.78 L722.50,170.87 L723.50,172.93 L724.50,173.86 L725.50,175.40 L726.50,176.79 L727.50,178.37 L728.50,179.63 L729.50,181.54 L730.50,184.37 L731.50,187.20 L732.50,189.82 L733.50,191.70 L734.50,194.19 L735.50,196.57 L736.50,199.55 L737.50,202.47 L738.50,205.22 L739.50,207.75 L740.50,211.06 L741.50,214.56 L742.50,218.16 L743.50,221.00 L744.50,223.64 L745.50,227.28 L746.50,231.67 L747.50,235.67 L748.50,239.09 L749.50,243.08 L750.50,247.46 L751.50,251.59 L752.50,255.12 L753.50,259.25 L754.50,263.35 L755.50,268.15 L756.50,272.70 L757.50,278.11 L758.50,283.19 L759.50,289.72 L760.50,295.28 L761.50,300.98" fill="none" stroke="#515151" stroke-width="2.7" stroke-linejoin="round"/>
<path d="M555.50,304.21 L556.50,304.15 L557.50,304.55 L558.50,303.73 L559.50,297.75 L560.50,286.55 L561.50,276.16 L562.50,266.97 L563.50,257.54 L564.50,247.30 L565.50,236.89 L566.50,226.19 L567.50,215.92 L568.50,207.00 L569.50,198.25 L570.50,189.82 L571.50,181.84 L572.50,173.94 L573.50,164.85 L574.50,155.85 L575.50,146.77 L576.50,138.17 L577.50,129.91 L578.50,124.52 L579.50,120.54 L580.50,116.40 L581.50,113.13 L582.50,108.35 L583.50,103.80 L584.50,98.97 L585.50,95.04 L586.50,89.84 L587.50,85.53 L588.50,82.74 L589.50,80.21 L590.50,77.11 L591.50,73.55 L592.50,70.98 L593.50,68.22 L594.50,64.46 L595.50,60.59 L596.50,57.15 L597.50,53.93 L598.50,53.23 L599.50,54.21 L600.50,55.07 L601.50,54.02 L602.50,52.38 L603.50,52.17 L604.50,52.36 L605.50,52.08 L606.50,51.08 L607.50,50.48 L608.50,50.24 L609.50,50.03 L610.50,51.22 L611.50,51.83 L612.50,53.00 L613.50,54.21 L614.50,56.21 L615.50,57.11 L616.50,56.94 L617.50,55.99 L618.50,55.31 L619.50,55.16 L620.50,55.41 L621.50,55.02 L622.50,55.23 L623.50,56.43 L624.50,57.02 L625.50,57.90 L626.50,59.55 L627.50,61.97 L628.50,62.94 L629.50,64.17 L630.50,65.45 L631.50,65.70 L632.50,64.74 L633.50,63.35 L634.50,62.07 L635.50,60.57 L636.50,58.80 L637.50,56.19 L638.50,55.44 L639.50,54.80 L640.50,54.09 L641.50,52.09 L642.50,50.07 L643.50,48.06 L644.50,46.06 L645.50,46.63 L646.50,47.33 L647.50,48.78 L648.50,50.00 L649.50,50.59 L650.50,50.48 L651.50,50.72 L652.50,52.09 L653.50,53.53 L654.50,54.40 L655.50,54.70 L656.50,55.17 L657.50,56.15 L658.50,57.86 L659.50,59.37 L660.50,60.22 L661.50,60.68 L662.50,61.72 L663.50,62.10 L664.50,62.74 L665.50,63.40 L666.50,65.10 L667.50,65.97 L668.50,67.15 L669.50,68.42 L670.50,70.23 L671.50,71.38 L672.50,72.66 L673.50,74.69 L674.50,76.34 L675.50,78.13 L676.50,80.89 L677.50,83.18 L678.50,85.27 L679.50,87.58 L680.50,91.14 L681.50,94.37 L682.50,97.60 L683.50,101.42 L684.50,105.30 L685.50,107.68 L686.50,109.45 L687.50,111.37 L688.50,112.45 L689.50,114.08 L690.50,115.51 L691.50,116.25 L692.50,116.39 L693.50,117.81 L694.50,120.49 L695.50,123.93 L696.50,125.89 L697.50,127.18 L698.50,129.04 L699.50,131.94 L700.50,134.68 L701.50,137.48 L702.50,140.33 L703.50,143.10 L704.50,145.73 L705.50,148.52 L706.50,151.42 L707.50,154.39 L708.50,157.50 L709.50,160.18 L710.50,162.11 L711.50,162.96 L712.50,164.92 L713.50,166.68 L714.50,168.75 L715.50,171.25 L716.50,174.78 L717.50,177.49 L718.50,178.49 L719.50,179.78 L720.50,181.64 L721.50,184.37 L722.50,187.41 L723.50,189.84 L724.50,190.94 L725.50,191.42 L726.50,193.16 L727.50,195.47 L728.50,197.46 L729.50,199.40 L730.50,201.19 L731.50,203.89 L732.50,206.52 L733.50,209.36 L734.50,210.76 L735.50,212.36 L736.50,214.39 L737.50,217.05 L738.50,219.41 L739.50,221.70 L740.50,223.90 L741.50,227.02 L742.50,230.43 L743.50,233.71 L744.50,236.70 L745.50,239.07 L746.50,241.22 L747.50,243.88 L748.50,247.65 L749.50,250.69 L750.50,254.34 L751.50,258.45 L752.50,262.04 L753.50,265.12 L754.50,269.38 L755.50,275.73 L756.50,282.32 L757.50,289.23 L758.50,296.69 L759.50,303.80" fill="none" stroke="#F14040" stroke-width="2.7" stroke-linejoin="round"/>
<path d="M555.50,305.47 L556.50,305.15 L557.50,301.76 L558.50,295.03 L559.50,285.05 L560.50,275.25 L561.50,263.79 L562.50,253.16 L563.50,241.55 L564.50,230.94 L565.50,220.93 L566.50,210.77 L567.50,202.13 L568.50,193.27 L569.50,184.34 L570.50,174.67 L571.50,165.53 L572.50,157.00 L573.50,148.13 L574.50,139.02 L575.50,129.98 L576.50,120.95 L577.50,116.20 L578.50,111.77 L579.50,108.16 L580.50,103.70 L581.50,98.93 L582.50,94.06 L583.50,89.70 L584.50,85.49 L585.50,81.28 L586.50,78.26 L587.50,74.58 L588.50,71.32 L589.50,67.50 L590.50,64.12 L591.50,61.13 L592.50,58.32 L593.50,55.73 L594.50,52.58 L595.50,49.14 L596.50,46.70 L597.50,46.24 L598.50,46.41 L599.50,45.60 L600.50,44.86 L601.50,43.65 L602.50,43.71 L603.50,43.41 L604.50,42.95 L605.50,42.39 L606.50,43.22 L607.50,43.27 L608.50,42.74 L609.50,43.82 L610.50,45.74 L611.50,47.96 L612.50,49.84 L613.50,51.56 L614.50,53.35 L615.50,53.18 L616.50,53.09 L617.50,52.31 L618.50,51.61 L619.50,50.39 L620.50,51.03 L621.50,53.62 L622.50,55.93 L623.50,57.08 L624.50,59.01 L625.50,60.75 L626.50,63.25 L627.50,64.81 L628.50,65.61 L629.50,66.22 L630.50,65.20 L631.50,64.75 L632.50,64.41 L633.50,63.27 L634.50,60.96 L635.50,59.17 L636.50,58.89 L637.50,57.27 L638.50,55.50 L639.50,53.41 L640.50,53.08 L641.50,51.15 L642.50,49.60 L643.50,47.15 L644.50,45.43 L645.50,49.28 L646.50,53.59 L647.50,56.89 L648.50,58.09 L649.50,57.79 L650.50,58.45 L651.50,59.73 L652.50,61.23 L653.50,62.12 L654.50,62.49 L655.50,63.14 L656.50,64.07 L657.50,65.76 L658.50,67.45 L659.50,68.27 L660.50,68.05 L661.50,68.04 L662.50,68.74 L663.50,69.48 L664.50,70.35 L665.50,72.04 L666.50,74.18 L667.50,76.13 L668.50,78.28 L669.50,79.79 L670.50,81.19 L671.50,82.33 L672.50,83.94 L673.50,85.76 L674.50,87.82 L675.50,89.66 L676.50,90.99 L677.50,92.41 L678.50,94.55 L679.50,97.91 L680.50,101.13 L681.50,104.15 L682.50,107.45 L683.50,110.94 L684.50,112.84 L685.50,113.78 L686.50,114.72 L687.50,115.60 L688.50,116.75 L689.50,117.95 L690.50,119.48 L691.50,120.39 L692.50,122.73 L693.50,125.13 L694.50,127.72 L695.50,129.64 L696.50,131.96 L697.50,133.72 L698.50,136.11 L699.50,139.05 L700.50,142.55 L701.50,145.32 L702.50,147.79 L703.50,150.25 L704.50,153.19 L705.50,156.30 L706.50,158.74 L707.50,160.20 L708.50,162.32 L709.50,165.23 L710.50,168.55 L711.50,170.71 L712.50,171.88 L713.50,173.93 L714.50,176.39 L715.50,178.18 L716.50,179.57 L717.50,180.92 L718.50,182.64 L719.50,183.77 L720.50,186.38 L721.50,188.46 L722.50,190.08 L723.50,191.83 L724.50,194.25 L725.50,195.58 L726.50,196.11 L727.50,196.47 L728.50,197.53 L729.50,199.26 L730.50,201.43 L731.50,203.14 L732.50,204.73 L733.50,205.81 L734.50,206.93 L735.50,208.33 L736.50,211.27 L737.50,214.39 L738.50,217.04 L739.50,219.34 L740.50,221.71 L741.50,223.98 L742.50,226.03 L743.50,228.48 L744.50,231.39 L745.50,234.31 L746.50,235.77 L747.50,237.68 L748.50,239.78 L749.50,242.33 L750.50,244.90 L751.50,248.82 L752.50,253.72 L753.50,258.87 L754.50,262.70 L755.50,266.63 L756.50,272.14 L757.50,276.73 L758.50,281.55 L759.50,287.10 L760.50,293.78 L761.50,302.31" fill="none" stroke="#1A6FDF" stroke-width="2.7" stroke-linejoin="round"/>
<path d="M555.50,305.70 L556.50,305.75 L557.50,305.12 L558.50,304.99 L559.50,303.83 L560.50,298.06 L561.50,288.69 L562.50,280.27 L563.50,270.88 L564.50,260.78 L565.50,250.66 L566.50,241.78 L567.50,232.45 L568.50,223.28 L569.50,214.12 L570.50,205.70 L571.50,197.12 L572.50,189.72 L573.50,182.25 L574.50,173.74 L575.50,164.72 L576.50,156.48 L577.50,148.90 L578.50,140.49 L579.50,135.39 L580.50,132.09 L581.50,128.72 L582.50,124.09 L583.50,120.12 L584.50,115.97 L585.50,112.35 L586.50,107.73 L587.50,103.19 L588.50,99.13 L589.50,96.34 L590.50,93.81 L591.50,91.00 L592.50,87.87 L593.50,84.70 L594.50,81.88 L595.50,79.80 L596.50,76.97 L597.50,74.03 L598.50,71.66 L599.50,72.39 L600.50,73.02 L601.50,72.30 L602.50,71.04 L603.50,70.63 L604.50,70.47 L605.50,69.63 L606.50,68.83 L607.50,69.03 L608.50,68.97 L609.50,68.00 L610.50,67.03 L611.50,69.03 L612.50,71.21 L613.50,73.09 L614.50,74.58 L615.50,76.71 L616.50,78.26 L617.50,78.51 L618.50,77.76 L619.50,77.29 L620.50,76.50 L621.50,76.90 L622.50,77.01 L623.50,78.04 L624.50,79.04 L625.50,80.66 L626.50,82.86 L627.50,84.14 L628.50,85.18 L629.50,86.47 L630.50,89.58 L631.50,92.03 L632.50,91.73 L633.50,90.06 L634.50,89.71 L635.50,88.98 L636.50,87.43 L637.50,86.23 L638.50,85.84 L639.50,85.28 L640.50,83.63 L641.50,82.91 L642.50,82.50 L643.50,81.77 L644.50,80.05 L645.50,78.69 L646.50,78.40 L647.50,78.42 L648.50,79.26 L649.50,79.37 L650.50,79.37 L651.50,78.85 L652.50,79.13 L653.50,79.81 L654.50,80.75 L655.50,81.00 L656.50,81.69 L657.50,81.54 L658.50,82.55 L659.50,83.78 L660.50,85.57 L661.50,86.84 L662.50,87.73 L663.50,87.27 L664.50,86.83 L665.50,87.36 L666.50,88.68 L667.50,90.00 L668.50,90.65 L669.50,91.58 L670.50,92.14 L671.50,93.98 L672.50,96.04 L673.50,98.44 L674.50,100.27 L675.50,102.14 L676.50,103.97 L677.50,105.36 L678.50,107.80 L679.50,111.69 L680.50,116.05 L681.50,119.34 L682.50,121.58 L683.50,123.15 L684.50,124.61 L685.50,126.18 L686.50,127.81 L687.50,128.75 L688.50,130.36 L689.50,131.86 L690.50,133.64 L691.50,135.44 L692.50,137.53 L693.50,140.69 L694.50,143.60 L695.50,145.54 L696.50,147.06 L697.50,150.03 L698.50,152.70 L699.50,155.17 L700.50,158.34 L701.50,162.48 L702.50,166.53 L703.50,170.74 L704.50,173.86 L705.50,176.14 L706.50,178.03 L707.50,181.34 L708.50,183.40 L709.50,185.46 L710.50,187.19 L711.50,190.51 L712.50,193.46 L713.50,196.49 L714.50,198.07 L715.50,200.07 L716.50,202.05 L717.50,204.58 L718.50,206.78 L719.50,209.01 L720.50,210.35 L721.50,211.63 L722.50,213.40 L723.50,215.57 L724.50,217.72 L725.50,220.30 L726.50,222.90 L727.50,224.36 L728.50,224.71 L729.50,224.92 L730.50,226.00 L731.50,227.36 L732.50,229.02 L733.50,230.59 L734.50,232.29 L735.50,235.19 L736.50,238.69 L737.50,242.44 L738.50,245.25 L739.50,248.47 L740.50,251.39 L741.50,254.83 L742.50,258.17 L743.50,261.47 L744.50,264.43 L745.50,267.00 L746.50,269.83 L747.50,273.01 L748.50,277.42 L749.50,281.62 L750.50,286.72 L751.50,291.64 L752.50,296.08 L753.50,299.98" fill="none" stroke="#37AD6B" stroke-width="2.7" stroke-linejoin="round"/>
<path d="M555.50,303.36 L556.50,303.50 L557.50,303.90 L558.50,303.96 L559.50,300.35 L560.50,292.44 L561.50,283.01 L562.50,273.80 L563.50,264.77 L564.50,256.86 L565.50,247.42 L566.50,237.15 L567.50,226.67 L568.50,218.43 L569.50,210.50 L570.50,202.50 L571.50,194.40 L572.50,186.63 L573.50,178.45 L574.50,170.40 L575.50,162.16 L576.50,153.89 L577.50,146.11 L578.50,140.37 L579.50,136.95 L580.50,132.42 L581.50,128.03 L582.50,124.59 L583.50,121.65 L584.50,117.80 L585.50,113.11 L586.50,109.07 L587.50,105.10 L588.50,101.81 L589.50,98.27 L590.50,96.14 L591.50,94.01 L592.50,91.74 L593.50,88.48 L594.50,85.88 L595.50,82.74 L596.50,80.01 L597.50,77.98 L598.50,77.65 L599.50,76.76 L600.50,75.08 L601.50,74.40 L602.50,74.53 L603.50,73.92 L604.50,72.40 L605.50,71.21 L606.50,71.11 L607.50,71.37 L608.50,71.51 L609.50,71.31 L610.50,71.84 L611.50,72.25 L612.50,73.47 L613.50,75.45 L614.50,77.57 L615.50,78.43 L616.50,78.33 L617.50,78.10 L618.50,77.26 L619.50,76.22 L620.50,75.22 L621.50,75.32 L622.50,75.21 L623.50,76.35 L624.50,77.41 L625.50,78.90 L626.50,80.13 L627.50,81.12 L628.50,82.29 L629.50,84.16 L630.50,85.49 L631.50,85.47 L632.50,84.19 L633.50,82.98 L634.50,81.63 L635.50,79.84 L636.50,79.21 L637.50,78.98 L638.50,78.98 L639.50,77.05 L640.50,74.61 L641.50,72.44 L642.50,70.90 L643.50,69.62 L644.50,67.68 L645.50,68.50 L646.50,69.03 L647.50,70.74 L648.50,71.43 L649.50,71.87 L650.50,72.17 L651.50,73.32 L652.50,74.47 L653.50,75.29 L654.50,75.47 L655.50,75.10 L656.50,75.62 L657.50,77.03 L658.50,78.43 L659.50,78.62 L660.50,79.30 L661.50,79.76 L662.50,79.85 L663.50,80.19 L664.50,82.10 L665.50,83.24 L666.50,84.66 L667.50,85.52 L668.50,86.62 L669.50,87.82 L670.50,89.72 L671.50,90.97 L672.50,91.70 L673.50,93.69 L674.50,96.27 L675.50,97.77 L676.50,98.85 L677.50,100.27 L678.50,102.48 L679.50,105.31 L680.50,108.17 L681.50,111.18 L682.50,113.82 L683.50,116.68 L684.50,117.96 L685.50,118.93 L686.50,119.67 L687.50,121.09 L688.50,122.58 L689.50,123.96 L690.50,125.07 L691.50,126.25 L692.50,127.70 L693.50,128.15 L694.50,129.38 L695.50,131.41 L696.50,135.07 L697.50,138.47 L698.50,140.63 L699.50,141.91 L700.50,144.43 L701.50,148.55 L702.50,152.18 L703.50,154.88 L704.50,157.63 L705.50,160.40 L706.50,162.82 L707.50,165.34 L708.50,166.78 L709.50,169.03 L710.50,171.02 L711.50,174.41 L712.50,176.73 L713.50,179.04 L714.50,181.13 L715.50,183.28 L716.50,185.32 L717.50,186.80 L718.50,189.26 L719.50,192.19 L720.50,195.44 L721.50,197.67 L722.50,199.94 L723.50,201.92 L724.50,204.02 L725.50,205.83 L726.50,207.80 L727.50,209.27 L728.50,210.28 L729.50,211.34 L730.50,213.01 L731.50,214.29 L732.50,216.12 L733.50,217.68 L734.50,219.51 L735.50,220.42 L736.50,223.25 L737.50,226.60 L738.50,229.98 L739.50,233.73 L740.50,237.25 L741.50,241.09 L742.50,244.10 L743.50,246.86 L744.50,249.12 L745.50,252.23 L746.50,255.87 L747.50,259.26 L748.50,262.26 L749.50,264.79 L750.50,268.79 L751.50,273.25 L752.50,278.80 L753.50,283.91 L754.50,289.32 L755.50,294.70 L756.50,302.09" fill="none" stroke="#B177DE" stroke-width="2.7" stroke-linejoin="round"/>
<path d="M555.50,303.68 L556.50,302.81 L557.50,302.27 L558.50,302.13 L559.50,302.30 L560.50,301.35 L561.50,295.54 L562.50,287.00 L563.50,277.28 L564.50,268.72 L565.50,259.74 L566.50,251.34 L567.50,242.65 L568.50,234.69 L569.50,226.11 L570.50,218.25 L571.50,209.72 L572.50,202.23 L573.50,194.79 L574.50,187.87 L575.50,180.27 L576.50,173.41 L577.50,165.08 L578.50,157.02 L579.50,149.42 L580.50,146.40 L581.50,142.28 L582.50,138.02 L583.50,133.93 L584.50,130.36 L585.50,127.78 L586.50,125.25 L587.50,120.85 L588.50,115.55 L589.50,111.81 L590.50,109.88 L591.50,107.28 L592.50,104.16 L593.50,101.34 L594.50,99.64 L595.50,97.23 L596.50,93.79 L597.50,90.27 L598.50,87.56 L599.50,85.53 L600.50,85.82 L601.50,85.98 L602.50,86.58 L603.50,86.91 L604.50,87.52 L605.50,86.59 L606.50,85.78 L607.50,85.89 L608.50,85.93 L609.50,84.87 L610.50,84.23 L611.50,84.20 L612.50,86.40 L613.50,87.40 L614.50,88.57 L615.50,89.55 L616.50,91.93 L617.50,93.88 L618.50,93.86 L619.50,93.62 L620.50,93.66 L621.50,92.67 L622.50,92.08 L623.50,91.40 L624.50,93.69 L625.50,95.42 L626.50,96.88 L627.50,97.98 L628.50,99.75 L629.50,101.92 L630.50,102.97 L631.50,104.05 L632.50,105.88 L633.50,104.31 L634.50,101.87 L635.50,100.85 L636.50,100.65 L637.50,99.08 L638.50,96.66 L639.50,94.78 L640.50,93.24 L641.50,91.57 L642.50,90.43 L643.50,88.93 L644.50,87.24 L645.50,87.94 L646.50,89.41 L647.50,90.83 L648.50,92.17 L649.50,93.17 L650.50,94.29 L651.50,94.96 L652.50,95.22 L653.50,95.59 L654.50,95.82 L655.50,96.04 L656.50,96.75 L657.50,96.86 L658.50,97.58 L659.50,97.94 L660.50,98.24 L661.50,97.79 L662.50,97.89 L663.50,98.54 L664.50,99.00 L665.50,100.97 L666.50,102.24 L667.50,102.82 L668.50,103.32 L669.50,104.45 L670.50,106.53 L671.50,108.96 L672.50,111.89 L673.50,113.15 L674.50,114.01 L675.50,116.30 L676.50,119.03 L677.50,120.93 L678.50,122.91 L679.50,126.62 L680.50,130.05 L681.50,132.34 L682.50,134.19 L683.50,136.74 L684.50,139.29 L685.50,141.40 L686.50,143.92 L687.50,146.73 L688.50,149.77 L689.50,152.69 L690.50,156.86 L691.50,160.02 L692.50,162.72 L693.50,165.06 L694.50,168.72 L695.50,172.41 L696.50,175.55 L697.50,177.98 L698.50,179.98 L699.50,182.77 L700.50,186.42 L701.50,191.24 L702.50,195.26 L703.50,198.90 L704.50,202.34 L705.50,205.18 L706.50,207.39 L707.50,209.38 L708.50,210.78 L709.50,212.60 L710.50,215.61 L711.50,217.84 L712.50,219.37 L713.50,220.78 L714.50,223.23 L715.50,224.68 L716.50,226.22 L717.50,228.15 L718.50,230.14 L719.50,231.15 L720.50,232.57 L721.50,234.20 L722.50,236.31 L723.50,238.19 L724.50,239.45 L725.50,240.65 L726.50,241.01 L727.50,241.54 L728.50,242.43 L729.50,243.67 L730.50,244.45 L731.50,244.58 L732.50,244.98 L733.50,247.76 L734.50,250.41 L735.50,253.27 L736.50,255.95 L737.50,259.23 L738.50,261.51 L739.50,264.19 L740.50,267.42 L741.50,271.50 L742.50,275.31 L743.50,278.12 L744.50,280.30 L745.50,282.31 L746.50,285.13 L747.50,287.97 L748.50,291.19 L749.50,294.63 L750.50,297.69 L751.50,299.51 L752.50,302.93" fill="none" stroke="#CC9900" stroke-width="2.7" stroke-linejoin="round"/>
<path d="M555.50,302.90 L556.50,302.37 L557.50,303.22 L558.50,304.16 L559.50,303.91 L560.50,303.44 L561.50,300.13 L562.50,292.22 L563.50,283.10 L564.50,274.05 L565.50,265.91 L566.50,258.07 L567.50,250.26 L568.50,242.26 L569.50,234.05 L570.50,226.33 L571.50,218.99 L572.50,210.73 L573.50,202.74 L574.50,195.63 L575.50,188.96 L576.50,182.11 L577.50,174.86 L578.50,167.34 L579.50,160.32 L580.50,155.62 L581.50,152.35 L582.50,148.50 L583.50,145.13 L584.50,141.59 L585.50,136.63 L586.50,132.02 L587.50,128.35 L588.50,125.32 L589.50,122.08 L590.50,120.18 L591.50,117.83 L592.50,114.46 L593.50,112.03 L594.50,109.90 L595.50,107.14 L596.50,103.96 L597.50,102.06 L598.50,99.86 L599.50,97.52 L600.50,96.81 L601.50,96.33 L602.50,95.82 L603.50,96.20 L604.50,96.15 L605.50,95.80 L606.50,95.42 L607.50,96.52 L608.50,96.36 L609.50,96.33 L610.50,95.38 L611.50,95.28 L612.50,95.97 L613.50,97.83 L614.50,99.78 L615.50,101.07 L616.50,101.79 L617.50,102.39 L618.50,103.03 L619.50,103.35 L620.50,103.83 L621.50,103.64 L622.50,103.45 L623.50,103.32 L624.50,103.89 L625.50,104.23 L626.50,104.47 L627.50,105.36 L628.50,107.93 L629.50,109.88 L630.50,111.71 L631.50,112.40 L632.50,114.10 L633.50,114.00 L634.50,112.51 L635.50,110.50 L636.50,109.00 L637.50,107.98 L638.50,106.72 L639.50,105.43 L640.50,104.86 L641.50,103.35 L642.50,101.66 L643.50,99.56 L644.50,98.72 L645.50,100.30 L646.50,101.92 L647.50,103.24 L648.50,103.43 L649.50,104.24 L650.50,104.72 L651.50,106.00 L652.50,106.47 L653.50,106.34 L654.50,106.14 L655.50,107.05 L656.50,109.39 L657.50,110.61 L658.50,111.13 L659.50,110.68 L660.50,111.28 L661.50,111.49 L662.50,111.35 L663.50,109.78 L664.50,107.74 L665.50,107.16 L666.50,109.58 L667.50,112.44 L668.50,114.10 L669.50,115.11 L670.50,116.14 L671.50,117.81 L672.50,119.42 L673.50,121.37 L674.50,123.09 L675.50,125.93 L676.50,128.22 L677.50,130.19 L678.50,131.82 L679.50,133.56 L680.50,135.89 L681.50,138.60 L682.50,141.01 L683.50,142.87 L684.50,144.63 L685.50,146.19 L686.50,147.65 L687.50,148.95 L688.50,151.35 L689.50,153.90 L690.50,156.96 L691.50,158.19 L692.50,159.60 L693.50,161.55 L694.50,164.48 L695.50,166.73 L696.50,169.27 L697.50,171.67 L698.50,173.23 L699.50,174.12 L700.50,176.48 L701.50,179.36 L702.50,181.47 L703.50,182.89 L704.50,185.15 L705.50,188.20 L706.50,190.46 L707.50,192.47 L708.50,194.75 L709.50,196.45 L710.50,197.93 L711.50,200.33 L712.50,203.36 L713.50,205.04 L714.50,207.08 L715.50,210.30 L716.50,214.31 L717.50,216.19 L718.50,218.91 L719.50,220.98 L720.50,224.19 L721.50,226.42 L722.50,229.13 L723.50,230.53 L724.50,231.26 L725.50,232.69 L726.50,234.33 L727.50,235.38 L728.50,237.71 L729.50,241.20 L730.50,245.09 L731.50,246.35 L732.50,248.81 L733.50,251.55 L734.50,255.01 L735.50,256.98 L736.50,258.25 L737.50,259.98 L738.50,261.82 L739.50,264.03 L740.50,267.39 L741.50,271.26 L742.50,274.90 L743.50,278.12 L744.50,282.41 L745.50,286.41 L746.50,289.55 L747.50,292.30 L748.50,295.01 L749.50,298.17 L750.50,302.54" fill="none" stroke="#00CBCC" stroke-width="2.7" stroke-linejoin="round"/>
<path d="M555.50,303.62 L556.50,303.25 L557.50,302.53 L558.50,302.91 L559.50,303.81 L560.50,304.21 L561.50,303.20 L562.50,297.78 L563.50,289.54 L564.50,281.01 L565.50,273.93 L566.50,267.63 L567.50,260.43 L568.50,251.43 L569.50,242.71 L570.50,234.63 L571.50,227.95 L572.50,221.18 L573.50,214.59 L574.50,207.75 L575.50,200.71 L576.50,193.55 L577.50,185.94 L578.50,179.06 L579.50,172.08 L580.50,165.79 L581.50,161.35 L582.50,158.41 L583.50,155.37 L584.50,151.83 L585.50,147.85 L586.50,144.00 L587.50,141.40 L588.50,139.15 L589.50,136.54 L590.50,132.88 L591.50,130.13 L592.50,126.95 L593.50,124.76 L594.50,121.83 L595.50,118.73 L596.50,116.62 L597.50,115.86 L598.50,114.10 L599.50,110.56 L600.50,108.28 L601.50,108.87 L602.50,108.50 L603.50,108.35 L604.50,108.81 L605.50,109.82 L606.50,110.72 L607.50,110.98 L608.50,111.96 L609.50,111.84 L610.50,111.84 L611.50,110.69 L612.50,110.54 L613.50,112.61 L614.50,115.03 L615.50,117.14 L616.50,118.51 L617.50,120.10 L618.50,121.35 L619.50,121.92 L620.50,122.32 L621.50,122.95 L622.50,123.76 L623.50,123.93 L624.50,123.38 L625.50,124.49 L626.50,126.56 L627.50,128.97 L628.50,131.72 L629.50,133.99 L630.50,134.40 L631.50,133.61 L632.50,133.33 L633.50,133.31 L634.50,132.17 L635.50,130.98 L636.50,129.88 L637.50,129.17 L638.50,127.95 L639.50,126.52 L640.50,124.43 L641.50,123.68 L642.50,122.78 L643.50,122.16 L644.50,120.40 L645.50,121.39 L646.50,121.46 L647.50,121.95 L648.50,123.27 L649.50,123.90 L650.50,124.32 L651.50,124.68 L652.50,125.66 L653.50,125.65 L654.50,125.84 L655.50,125.79 L656.50,125.72 L657.50,125.34 L658.50,125.47 L659.50,125.41 L660.50,125.99 L661.50,126.67 L662.50,127.42 L663.50,127.27 L664.50,128.09 L665.50,129.59 L666.50,131.10 L667.50,130.94 L668.50,131.12 L669.50,131.88 L670.50,133.05 L671.50,133.28 L672.50,134.08 L673.50,136.35 L674.50,137.57 L675.50,138.06 L676.50,138.44 L677.50,141.85 L678.50,144.95 L679.50,147.56 L680.50,150.36 L681.50,153.58 L682.50,156.08 L683.50,156.53 L684.50,156.87 L685.50,157.73 L686.50,159.31 L687.50,160.06 L688.50,161.14 L689.50,161.17 L690.50,162.71 L691.50,164.09 L692.50,164.98 L693.50,165.91 L694.50,167.38 L695.50,169.88 L696.50,173.55 L697.50,176.79 L698.50,179.21 L699.50,182.18 L700.50,185.98 L701.50,189.81 L702.50,192.56 L703.50,195.02 L704.50,196.56 L705.50,198.31 L706.50,200.47 L707.50,201.75 L708.50,202.47 L709.50,203.36 L710.50,204.41 L711.50,206.37 L712.50,208.03 L713.50,208.86 L714.50,209.08 L715.50,210.74 L716.50,212.94 L717.50,215.06 L718.50,216.42 L719.50,218.11 L720.50,219.61 L721.50,221.15 L722.50,223.49 L723.50,226.22 L724.50,228.71 L725.50,230.60 L726.50,231.89 L727.50,232.43 L728.50,233.44 L729.50,234.47 L730.50,234.88 L731.50,234.96 L732.50,236.20 L733.50,238.98 L734.50,241.58 L735.50,244.49 L736.50,247.05 L737.50,249.73 L738.50,252.93 L739.50,256.57 L740.50,259.22 L741.50,262.28 L742.50,265.83 L743.50,269.79 L744.50,272.74 L745.50,276.08 L746.50,279.19 L747.50,284.01 L748.50,289.10 L749.50,294.20 L750.50,298.54 L751.50,302.97" fill="none" stroke="#7D4E4E" stroke-width="2.7" stroke-linejoin="round"/>
<path d="M564.50,310.40 L565.50,302.96 L566.50,293.97 L567.50,284.89 L568.50,274.57 L569.50,264.05 L570.50,253.74 L571.50,244.46 L572.50,234.74 L573.50,225.14 L574.50,216.45 L575.50,211.57 L576.50,206.78 L577.50,201.93 L578.50,197.02 L579.50,191.86 L580.50,187.43 L581.50,183.02 L582.50,177.96 L583.50,172.69 L584.50,167.80 L585.50,163.55 L586.50,159.57 L587.50,157.08 L588.50,154.28 L589.50,152.06 L590.50,149.96 L591.50,147.52 L592.50,144.39 L593.50,141.72 L594.50,139.08 L595.50,137.94 L596.50,136.04 L597.50,133.32 L598.50,129.89 L599.50,128.79 L600.50,128.62 L601.50,128.34 L602.50,128.45 L603.50,128.63 L604.50,129.78 L605.50,130.18 L606.50,131.09 L607.50,130.96 L608.50,131.46 L609.50,134.60 L610.50,138.29 L611.50,140.73 L612.50,144.08 L613.50,147.64 L614.50,151.35 L615.50,152.69 L616.50,154.38 L617.50,156.30 L618.50,157.61 L619.50,158.74 L620.50,160.35 L621.50,162.64 L622.50,164.44 L623.50,165.67 L624.50,166.89 L625.50,168.58 L626.50,170.95 L627.50,172.63 L628.50,174.56 L629.50,176.37 L630.50,178.12 L631.50,177.09 L632.50,175.78 L633.50,174.42 L634.50,173.01 L635.50,172.86 L636.50,172.90 L637.50,172.60 L638.50,172.17 L639.50,170.97 L640.50,170.47 L641.50,169.63 L642.50,169.35 L643.50,170.58 L644.50,172.71 L645.50,174.35 L646.50,176.10 L647.50,178.58 L648.50,181.44 L649.50,182.86 L650.50,182.72 L651.50,182.24 L652.50,181.94 L653.50,182.70 L654.50,182.63 L655.50,183.36 L656.50,183.65 L657.50,184.14 L658.50,183.99 L659.50,184.93 L660.50,185.67 L661.50,186.08 L662.50,186.07 L663.50,186.52 L664.50,187.03 L665.50,187.95 L666.50,188.87 L667.50,189.67 L668.50,190.58 L669.50,190.69 L670.50,191.41 L671.50,192.75 L672.50,193.74 L673.50,194.84 L674.50,195.93 L675.50,197.50 L676.50,197.42 L677.50,197.95 L678.50,199.36 L679.50,201.35 L680.50,202.96 L681.50,203.64 L682.50,205.58 L683.50,207.39 L684.50,210.15 L685.50,211.11 L686.50,212.98 L687.50,214.59 L688.50,217.18 L689.50,218.41 L690.50,220.16 L691.50,223.24 L692.50,226.14 L693.50,228.22 L694.50,229.80 L695.50,232.28 L696.50,235.40 L697.50,238.94 L698.50,241.63 L699.50,242.73 L700.50,244.90 L701.50,248.45 L702.50,251.90 L703.50,254.36 L704.50,255.88 L705.50,257.05 L706.50,257.98 L707.50,259.42 L708.50,261.64 L709.50,264.00 L710.50,266.98 L711.50,268.80 L712.50,270.33 L713.50,271.01 L714.50,272.83 L715.50,274.38 L716.50,274.46 L717.50,274.71 L718.50,276.24 L719.50,277.64 L720.50,277.98 L721.50,278.81 L722.50,280.27 L723.50,281.04 L724.50,281.53 L725.50,282.46 L726.50,284.11 L727.50,285.59 L728.50,287.45 L729.50,288.91 L730.50,289.40 L731.50,290.01 L732.50,291.50 L733.50,293.49 L734.50,295.18 L735.50,296.57 L736.50,297.71 L737.50,299.48 L738.50,303.46 L739.50,307.73" fill="none" stroke="#FB6501" stroke-width="2.7" stroke-linejoin="round"/>
</svg>
<path d="M493.1,13.6 L859,13.6 L859,299.5" fill="none" stroke="#555" stroke-width="1.3"/>
<path d="M493.1,13.0 L493.1,299.5 L859.6,299.5" fill="none" stroke="#111" stroke-width="1.9"/>
<g stroke="#111" stroke-width="1.6">
<path d="M493.1,299.5 L493.1,304.0"/>
<path d="M525.7,299.5 L525.7,302.0"/>
<path d="M558.3,299.5 L558.3,304.0"/>
<path d="M590.9,299.5 L590.9,302.0"/>
<path d="M623.5,299.5 L623.5,304.0"/>
<path d="M656.1,299.5 L656.1,302.0"/>
<path d="M688.7,299.5 L688.7,304.0"/>
<path d="M721.3,299.5 L721.3,302.0"/>
<path d="M753.9,299.5 L753.9,304.0"/>
<path d="M786.5,299.5 L786.5,302.0"/>
<path d="M819.1,299.5 L819.1,304.0"/>
<path d="M851.7,299.5 L851.7,302.0"/>
</g>
<text x="493.1" y="319.2" font-size="16" text-anchor="middle" fill="#000" font-weight="bold" >450</text>
<text x="558.3" y="319.2" font-size="16" text-anchor="middle" fill="#000" font-weight="bold" >500</text>
<text x="623.5" y="319.2" font-size="16" text-anchor="middle" fill="#000" font-weight="bold" >550</text>
<text x="688.7" y="319.2" font-size="16" text-anchor="middle" fill="#000" font-weight="bold" >600</text>
<text x="753.9" y="319.2" font-size="16" text-anchor="middle" fill="#000" font-weight="bold" >650</text>
<text x="819.1" y="319.2" font-size="16" text-anchor="middle" fill="#000" font-weight="bold" >700</text>
<text x="676" y="354.5" font-size="21" text-anchor="middle" fill="#000" font-weight="bold" textLength="148" lengthAdjust="spacingAndGlyphs" >Wavelength (nm)</text>
<text transform="translate(470.5,150.3) rotate(-90)" x="0" y="0" font-size="21" text-anchor="middle" font-weight="bold" textLength="170.7" lengthAdjust="spacingAndGlyphs">Reflection Intensity</text>
<text x="421.8" y="26.8" font-size="25.5" text-anchor="start" fill="#000" font-weight="bold" textLength="30.8" lengthAdjust="spacingAndGlyphs" >(b)</text>
<rect x="727.3" y="13.6" width="131.70000000000005" height="163.6" fill="none" stroke="#888" stroke-width="1"/>
<path d="M728.6,24.3 L762.2,24.3" stroke="#515151" stroke-width="3"/>
<text x="763.5" y="28.2" font-size="11.5" font-weight="bold" textLength="93" lengthAdjust="spacingAndGlyphs">59.5 mJ/cm<tspan dy="-4" font-size="7.5">2</tspan><tspan dy="4"> &amp; 20 ns</tspan></text>
<path d="M728.6,42.3 L762.2,42.3" stroke="#F14040" stroke-width="3"/>
<text x="763.5" y="46.2" font-size="11.5" font-weight="bold" textLength="93" lengthAdjust="spacingAndGlyphs">52.3 mJ/cm<tspan dy="-4" font-size="7.5">2</tspan><tspan dy="4"> &amp; 25 ns</tspan></text>
<path d="M728.6,60.3 L762.2,60.3" stroke="#1A6FDF" stroke-width="3"/>
<text x="763.5" y="64.2" font-size="11.5" font-weight="bold" textLength="93" lengthAdjust="spacingAndGlyphs">45.8 mJ/cm<tspan dy="-4" font-size="7.5">2</tspan><tspan dy="4"> &amp; 30 ns</tspan></text>
<path d="M728.6,78.3 L762.2,78.3" stroke="#37AD6B" stroke-width="3"/>
<text x="763.5" y="82.2" font-size="11.5" font-weight="bold" textLength="93" lengthAdjust="spacingAndGlyphs">41.9 mJ/cm<tspan dy="-4" font-size="7.5">2</tspan><tspan dy="4"> &amp; 35 ns</tspan></text>
<path d="M728.6,96.3 L762.2,96.3" stroke="#B177DE" stroke-width="3"/>
<text x="763.5" y="100.2" font-size="11.5" font-weight="bold" textLength="93" lengthAdjust="spacingAndGlyphs">37.1 mJ/cm<tspan dy="-4" font-size="7.5">2</tspan><tspan dy="4"> &amp; 40 ns</tspan></text>
<path d="M728.6,114.3 L762.2,114.3" stroke="#CC9900" stroke-width="3"/>
<text x="763.5" y="118.2" font-size="11.5" font-weight="bold" textLength="93" lengthAdjust="spacingAndGlyphs">34.5 mJ/cm<tspan dy="-4" font-size="7.5">2</tspan><tspan dy="4"> &amp; 45 ns</tspan></text>
<path d="M728.6,132.3 L762.2,132.3" stroke="#00CBCC" stroke-width="3"/>
<text x="763.5" y="136.2" font-size="11.5" font-weight="bold" textLength="93" lengthAdjust="spacingAndGlyphs">30.5 mJ/cm<tspan dy="-4" font-size="7.5">2</tspan><tspan dy="4"> &amp; 50 ns</tspan></text>
<path d="M728.6,150.3 L762.2,150.3" stroke="#7D4E4E" stroke-width="3"/>
<text x="763.5" y="154.2" font-size="11.5" font-weight="bold" textLength="93" lengthAdjust="spacingAndGlyphs">26.2 mJ/cm<tspan dy="-4" font-size="7.5">2</tspan><tspan dy="4"> &amp; 55 ns</tspan></text>
<path d="M728.6,168.3 L762.2,168.3" stroke="#FB6501" stroke-width="3"/>
<text x="763.5" y="172.2" font-size="11.5" font-weight="bold">as–deposited</text>
<svg x="53" y="374.2" width="360.9" height="291.8" viewBox="53 374.2 360.9 291.8" overflow="hidden">
<path d="M53.00,645.20 L53.92,646.01 L55.13,647.14 L56.58,648.50 L58.19,649.98 L59.90,651.47 L61.65,652.87 L63.37,654.08 L65.00,655.00 L66.58,655.79 L68.20,656.61 L69.85,657.38 L71.50,657.99 L73.15,658.35 L74.80,658.37 L76.42,657.95 L78.00,657.00 L79.56,655.49 L81.12,653.49 L82.66,651.08 L84.19,648.31 L85.69,645.26 L87.16,641.98 L88.60,638.54 L90.00,635.00 L91.33,631.28 L92.59,627.28 L93.81,623.05 L95.00,618.62 L96.19,614.06 L97.41,609.41 L98.67,604.70 L100.00,600.00 L101.40,595.24 L102.84,590.35 L104.31,585.37 L105.81,580.31 L107.34,575.22 L108.88,570.12 L110.44,565.03 L112.00,560.00 L113.58,554.97 L115.18,549.88 L116.80,544.78 L118.44,539.69 L120.08,534.63 L121.73,529.65 L123.37,524.76 L125.00,520.00 L126.63,515.25 L128.27,510.43 L129.92,505.63 L131.56,500.94 L133.20,496.44 L134.82,492.23 L136.42,488.38 L138.00,485.00 L139.57,482.10 L141.16,479.60 L142.74,477.44 L144.29,475.59 L145.81,473.97 L147.28,472.54 L148.68,471.23 L150.00,470.00 L151.21,468.81 L152.30,467.71 L153.33,466.75 L154.30,465.96 L155.25,465.41 L156.22,465.13 L157.23,465.18 L158.30,465.60 L159.40,466.34 L160.49,467.34 L161.59,468.61 L162.71,470.19 L163.88,472.09 L165.12,474.34 L166.45,476.97 L167.90,480.00 L169.50,483.68 L171.25,488.08 L173.10,492.99 L175.02,498.19 L176.96,503.45 L178.88,508.55 L180.74,513.28 L182.50,517.40 L184.18,521.02 L185.83,524.39 L187.44,527.51 L189.03,530.41 L190.57,533.10 L192.09,535.58 L193.56,537.88 L195.00,540.00 L196.35,541.97 L197.60,543.79 L198.79,545.43 L199.96,546.87 L201.14,548.07 L202.38,549.01 L203.72,549.66 L205.20,550.00 L206.85,549.84 L208.66,549.13 L210.56,548.03 L212.52,546.73 L214.50,545.37 L216.43,544.14 L218.28,543.19 L220.00,542.70 L221.51,542.52 L222.82,542.43 L224.03,542.48 L225.21,542.72 L226.45,543.21 L227.84,544.00 L229.46,545.15 L231.40,546.70 L233.74,548.57 L236.44,550.67 L239.38,553.06 L242.47,555.78 L245.59,558.89 L248.64,562.45 L251.51,566.50 L254.10,571.10 L256.42,576.66 L258.57,583.30 L260.60,590.64 L262.53,598.32 L264.40,605.97 L266.25,613.22 L268.10,619.68 L270.00,625.00 L271.92,629.24 L273.81,632.78 L275.69,635.73 L277.56,638.18 L279.41,640.23 L281.27,641.99 L283.13,643.55 L285.00,645.00 L286.83,646.25 L288.60,647.16 L290.35,647.77 L292.11,648.12 L293.91,648.28 L295.81,648.28 L297.82,648.17 L300.00,648.00 L302.37,647.64 L304.91,646.99 L307.57,646.15 L310.32,645.19 L313.11,644.21 L315.90,643.29 L318.64,642.52 L321.30,642.00 L323.75,641.75 L325.97,641.72 L328.09,641.83 L330.24,642.01 L332.54,642.18 L335.11,642.29 L338.09,642.25 L341.60,642.00 L345.86,641.54 L350.87,640.93 L356.35,640.21 L362.07,639.40 L367.78,638.54 L373.22,637.65 L378.14,636.76 L382.30,635.90 L385.69,634.97 L388.55,633.89 L390.98,632.74 L393.11,631.60 L395.02,630.55 L396.84,629.66 L398.66,629.02 L400.60,628.70 L402.67,628.78 L404.77,629.23 L406.85,629.94 L408.84,630.80 L410.70,631.72 L412.34,632.60 L413.73,633.32 L414.80,633.80" fill="none" stroke="#37AD6B" stroke-width="2.7" stroke-linejoin="round"/>
<path d="M53.00,604.90 L53.67,607.02 L54.52,609.87 L55.54,613.26 L56.69,617.01 L57.94,620.95 L59.26,624.88 L60.62,628.62 L62.00,632.00 L63.42,635.33 L64.92,638.93 L66.49,642.60 L68.12,646.13 L69.80,649.34 L71.52,652.02 L73.25,653.97 L75.00,655.00 L76.78,655.03 L78.61,654.23 L80.48,652.73 L82.38,650.69 L84.29,648.25 L86.20,645.55 L88.11,642.76 L90.00,640.00 L91.92,637.01 L93.91,633.54 L95.93,629.75 L97.94,625.81 L99.89,621.90 L101.74,618.18 L103.46,614.82 L105.00,612.00 L106.33,609.86 L107.47,608.32 L108.46,607.16 L109.37,606.19 L110.23,605.19 L111.09,603.96 L112.00,602.30 L113.00,600.00 L114.09,597.12 L115.23,593.89 L116.38,590.34 L117.56,586.50 L118.73,582.41 L119.88,578.11 L121.01,573.63 L122.10,569.00 L123.13,564.09 L124.11,558.82 L125.06,553.28 L125.99,547.56 L126.94,541.78 L127.91,536.02 L128.92,530.40 L130.00,525.00 L131.15,519.63 L132.36,514.10 L133.60,508.55 L134.88,503.11 L136.17,497.90 L137.46,493.06 L138.75,488.71 L140.00,485.00 L141.23,481.88 L142.45,479.20 L143.67,476.95 L144.89,475.11 L146.10,473.64 L147.33,472.53 L148.56,471.76 L149.80,471.30 L151.04,471.11 L152.26,471.19 L153.48,471.59 L154.71,472.36 L155.97,473.53 L157.26,475.17 L158.60,477.31 L160.00,480.00 L161.50,483.47 L163.09,487.77 L164.75,492.69 L166.43,498.01 L168.11,503.51 L169.76,508.99 L171.33,514.22 L172.80,519.00 L174.16,523.54 L175.44,528.13 L176.66,532.70 L177.84,537.12 L178.99,541.33 L180.14,545.20 L181.30,548.66 L182.50,551.60 L183.66,553.95 L184.75,555.77 L185.81,557.16 L186.89,558.24 L188.03,559.09 L189.28,559.84 L190.69,560.57 L192.30,561.40 L194.19,562.33 L196.36,563.25 L198.70,564.13 L201.15,564.92 L203.61,565.56 L205.99,566.02 L208.22,566.25 L210.20,566.20 L211.95,565.78 L213.54,565.01 L215.02,563.97 L216.41,562.76 L217.73,561.47 L219.01,560.20 L220.30,559.05 L221.60,558.10 L222.88,557.25 L224.07,556.38 L225.23,555.51 L226.36,554.72 L227.52,554.04 L228.72,553.53 L230.00,553.23 L231.40,553.20 L232.91,553.26 L234.50,553.30 L236.16,553.43 L237.88,553.79 L239.63,554.50 L241.41,555.69 L243.21,557.48 L245.00,560.00 L246.81,563.43 L248.65,567.74 L250.52,572.70 L252.41,578.11 L254.31,583.76 L256.22,589.43 L258.12,594.92 L260.00,600.00 L261.88,604.95 L263.75,610.07 L265.62,615.24 L267.50,620.31 L269.38,625.16 L271.25,629.65 L273.12,633.64 L275.00,637.00 L276.76,639.75 L278.37,642.02 L279.91,643.86 L281.48,645.31 L283.18,646.41 L285.10,647.20 L287.35,647.71 L290.00,648.00 L293.07,647.98 L296.46,647.58 L300.13,646.85 L304.04,645.84 L308.16,644.60 L312.43,643.18 L316.83,641.63 L321.30,640.00 L326.05,638.13 L331.20,635.89 L336.59,633.41 L342.09,630.81 L347.53,628.20 L352.76,625.72 L357.63,623.48 L362.00,621.60 L365.88,620.05 L369.43,618.70 L372.69,617.52 L375.71,616.49 L378.54,615.60 L381.21,614.82 L383.79,614.13 L386.30,613.50 L388.69,612.93 L390.90,612.45 L392.94,612.05 L394.87,611.77 L396.70,611.61 L398.48,611.58 L400.24,611.71 L402.00,612.00 L403.83,612.57 L405.70,613.44 L407.57,614.52 L409.38,615.71 L411.06,616.91 L412.57,618.02 L413.83,618.95 L414.80,619.60" fill="none" stroke="#CC9900" stroke-width="2.7" stroke-linejoin="round"/>
<path d="M53.00,631.40 L53.92,632.74 L55.13,634.58 L56.58,636.79 L58.19,639.20 L59.90,641.68 L61.65,644.07 L63.37,646.22 L65.00,648.00 L66.56,649.62 L68.13,651.33 L69.71,652.99 L71.31,654.48 L72.93,655.65 L74.59,656.38 L76.27,656.54 L78.00,656.00 L79.79,654.75 L81.63,652.90 L83.52,650.52 L85.44,647.69 L87.36,644.45 L89.27,640.88 L91.16,637.04 L93.00,633.00 L94.80,628.56 L96.59,623.59 L98.37,618.21 L100.12,612.56 L101.87,606.78 L103.59,601.01 L105.30,595.37 L107.00,590.00 L108.71,584.79 L110.44,579.55 L112.17,574.34 L113.88,569.19 L115.54,564.14 L117.12,559.23 L118.62,554.50 L120.00,550.00 L121.24,545.70 L122.36,541.54 L123.39,537.53 L124.34,533.69 L125.26,530.00 L126.15,526.49 L127.06,523.16 L128.00,520.00 L128.97,517.08 L129.93,514.41 L130.89,511.94 L131.84,509.62 L132.78,507.42 L133.71,505.28 L134.61,503.16 L135.50,501.00 L136.35,498.79 L137.16,496.57 L137.94,494.36 L138.71,492.22 L139.48,490.17 L140.28,488.26 L141.11,486.52 L142.00,485.00 L142.93,483.61 L143.90,482.29 L144.89,481.08 L145.91,480.04 L146.95,479.22 L148.01,478.65 L149.10,478.40 L150.20,478.50 L151.31,478.96 L152.42,479.73 L153.55,480.79 L154.70,482.12 L155.89,483.70 L157.13,485.52 L158.43,487.56 L159.80,489.80 L161.24,492.35 L162.73,495.27 L164.28,498.47 L165.88,501.88 L167.53,505.40 L169.24,508.96 L170.99,512.45 L172.80,515.80 L174.68,519.07 L176.65,522.38 L178.68,525.69 L180.75,529.00 L182.85,532.28 L184.95,535.52 L187.04,538.70 L189.10,541.80 L191.12,545.03 L193.12,548.49 L195.11,552.01 L197.10,555.43 L199.10,558.57 L201.13,561.26 L203.19,563.33 L205.30,564.60 L207.47,564.85 L209.69,564.16 L211.96,562.78 L214.24,560.97 L216.53,559.02 L218.80,557.18 L221.03,555.72 L223.20,554.90 L225.29,554.44 L227.29,553.96 L229.25,553.59 L231.19,553.46 L233.15,553.72 L235.17,554.49 L237.27,555.90 L239.50,558.10 L241.90,561.26 L244.46,565.34 L247.12,570.11 L249.83,575.38 L252.53,580.91 L255.16,586.50 L257.67,591.94 L260.00,597.00 L262.14,601.96 L264.14,607.15 L266.03,612.41 L267.84,617.62 L269.62,622.62 L271.38,627.28 L273.16,631.45 L275.00,635.00 L276.76,637.96 L278.37,640.50 L279.91,642.63 L281.48,644.38 L283.18,645.76 L285.10,646.81 L287.35,647.55 L290.00,648.00 L293.07,648.04 L296.46,647.60 L300.13,646.77 L304.04,645.64 L308.16,644.31 L312.43,642.86 L316.83,641.40 L321.30,640.00 L326.01,638.52 L331.06,636.81 L336.33,634.95 L341.71,633.04 L347.08,631.17 L352.33,629.43 L357.34,627.91 L362.00,626.70 L366.35,625.80 L370.51,625.13 L374.51,624.64 L378.34,624.31 L382.04,624.08 L385.60,623.93 L389.05,623.81 L392.40,623.70 L395.74,623.64 L399.09,623.69 L402.37,623.83 L405.50,624.01 L408.39,624.22 L410.96,624.43 L413.13,624.60 L414.80,624.70" fill="none" stroke="#00CBCC" stroke-width="2.7" stroke-linejoin="round"/>
<path d="M53.00,622.00 L53.92,623.86 L55.13,626.44 L56.58,629.51 L58.19,632.88 L59.90,636.32 L61.65,639.62 L63.37,642.59 L65.00,645.00 L66.57,647.10 L68.16,649.19 L69.76,651.15 L71.38,652.88 L73.01,654.24 L74.66,655.12 L76.32,655.42 L78.00,655.00 L79.71,653.83 L81.45,652.02 L83.22,649.63 L85.00,646.75 L86.78,643.47 L88.55,639.86 L90.29,636.01 L92.00,632.00 L93.67,627.66 L95.32,622.84 L96.95,617.64 L98.56,612.19 L100.17,606.58 L101.77,600.95 L103.38,595.38 L105.00,590.00 L106.65,584.72 L108.32,579.41 L110.01,574.07 L111.69,568.75 L113.34,563.46 L114.96,558.22 L116.52,553.06 L118.00,548.00 L119.38,543.02 L120.66,538.08 L121.88,533.19 L123.06,528.38 L124.24,523.63 L125.43,518.98 L126.67,514.44 L128.00,510.00 L129.41,505.57 L130.88,501.09 L132.39,496.64 L133.92,492.31 L135.47,488.20 L137.01,484.38 L138.52,480.95 L140.00,478.00 L141.43,475.46 L142.84,473.21 L144.23,471.28 L145.61,469.69 L146.99,468.44 L148.38,467.57 L149.78,467.08 L151.20,467.00 L152.62,467.31 L154.00,467.99 L155.38,469.04 L156.78,470.47 L158.22,472.28 L159.72,474.47 L161.31,477.04 L163.00,480.00 L164.85,483.57 L166.84,487.86 L168.94,492.67 L171.09,497.79 L173.25,503.02 L175.37,508.17 L177.40,513.03 L179.30,517.40 L181.06,521.41 L182.71,525.29 L184.30,529.03 L185.84,532.62 L187.35,536.03 L188.87,539.24 L190.41,542.23 L192.00,545.00 L193.59,547.63 L195.14,550.17 L196.67,552.56 L198.22,554.73 L199.82,556.60 L201.52,558.10 L203.33,559.16 L205.30,559.70 L207.47,559.48 L209.84,558.47 L212.34,556.90 L214.92,555.01 L217.52,553.06 L220.09,551.28 L222.57,549.91 L224.90,549.20 L227.10,549.00 L229.24,549.03 L231.33,549.30 L233.36,549.83 L235.34,550.63 L237.29,551.73 L239.21,553.15 L241.10,554.90 L242.94,556.97 L244.70,559.33 L246.41,561.99 L248.09,564.95 L249.77,568.23 L251.47,571.82 L253.20,575.74 L255.00,580.00 L256.87,584.91 L258.79,590.60 L260.74,596.79 L262.71,603.21 L264.69,609.59 L266.66,615.65 L268.60,621.11 L270.50,625.70 L272.36,629.49 L274.18,632.79 L275.99,635.63 L277.78,638.08 L279.57,640.19 L281.36,642.01 L283.17,643.60 L285.00,645.00 L286.81,646.14 L288.57,646.93 L290.31,647.41 L292.07,647.64 L293.89,647.67 L295.80,647.54 L297.82,647.30 L300.00,647.00 L302.37,646.55 L304.91,645.86 L307.57,645.00 L310.32,644.01 L313.11,642.96 L315.90,641.90 L318.64,640.90 L321.30,640.00 L323.82,639.19 L326.21,638.39 L328.54,637.61 L330.88,636.84 L333.28,636.08 L335.83,635.32 L338.58,634.56 L341.60,633.80 L344.95,633.05 L348.60,632.31 L352.47,631.59 L356.47,630.87 L360.51,630.13 L364.52,629.36 L368.41,628.56 L372.10,627.70 L375.67,626.71 L379.23,625.57 L382.74,624.35 L386.19,623.12 L389.52,621.96 L392.71,620.93 L395.71,620.12 L398.50,619.60 L401.13,619.41 L403.67,619.52 L406.07,619.84 L408.30,620.29 L410.33,620.81 L412.11,621.32 L413.61,621.74 L414.80,622.00" fill="none" stroke="#B177DE" stroke-width="2.7" stroke-linejoin="round"/>
<path d="M53.00,615.00 L53.90,617.01 L55.07,619.77 L56.46,623.06 L58.02,626.67 L59.70,630.38 L61.46,633.99 L63.24,637.26 L65.00,640.00 L66.82,642.48 L68.77,645.03 L70.81,647.50 L72.89,649.73 L74.97,651.58 L77.00,652.89 L78.92,653.52 L80.70,653.30 L82.28,652.32 L83.68,650.75 L84.97,648.60 L86.21,645.86 L87.47,642.53 L88.81,638.61 L90.30,634.10 L92.00,629.00 L93.98,622.81 L96.22,615.33 L98.61,606.97 L101.08,598.17 L103.54,589.34 L105.91,580.92 L108.09,573.33 L110.00,567.00 L111.63,562.11 L113.06,558.33 L114.34,555.32 L115.50,552.75 L116.60,550.27 L117.69,547.55 L118.80,544.24 L120.00,540.00 L121.25,534.82 L122.50,529.00 L123.75,522.71 L125.00,516.12 L126.25,509.39 L127.50,502.69 L128.75,496.17 L130.00,490.00 L131.26,483.94 L132.52,477.72 L133.79,471.49 L135.05,465.39 L136.31,459.55 L137.56,454.11 L138.79,449.21 L140.00,445.00 L141.21,441.47 L142.44,438.49 L143.66,436.01 L144.86,433.95 L146.03,432.26 L147.16,430.88 L148.22,429.75 L149.20,428.80 L150.08,428.20 L150.86,428.06 L151.57,428.29 L152.24,428.76 L152.89,429.38 L153.55,430.03 L154.24,430.61 L155.00,431.00 L155.82,431.21 L156.67,431.34 L157.54,431.44 L158.43,431.56 L159.33,431.72 L160.23,431.99 L161.12,432.40 L162.00,433.00 L162.86,433.69 L163.70,434.40 L164.54,435.18 L165.38,436.09 L166.22,437.20 L167.09,438.57 L167.98,440.25 L168.90,442.30 L169.86,444.75 L170.86,447.55 L171.88,450.65 L172.91,454.01 L173.96,457.58 L175.01,461.34 L176.06,465.22 L177.10,469.20 L178.13,473.50 L179.14,478.26 L180.16,483.30 L181.18,488.44 L182.21,493.51 L183.25,498.31 L184.31,502.67 L185.40,506.40 L186.50,509.61 L187.61,512.50 L188.73,515.08 L189.86,517.34 L191.02,519.26 L192.21,520.85 L193.43,522.10 L194.70,523.00 L195.99,523.45 L197.28,523.40 L198.60,522.96 L199.95,522.21 L201.35,521.24 L202.82,520.16 L204.36,519.05 L206.00,518.00 L207.78,516.76 L209.72,515.12 L211.75,513.27 L213.84,511.39 L215.93,509.67 L217.97,508.29 L219.91,507.44 L221.70,507.30 L223.33,507.91 L224.85,509.12 L226.29,510.82 L227.67,512.88 L229.01,515.18 L230.35,517.61 L231.70,520.06 L233.10,522.40 L234.54,524.76 L235.99,527.32 L237.46,530.00 L238.92,532.75 L240.36,535.52 L241.78,538.23 L243.17,540.85 L244.50,543.30 L245.76,545.32 L246.94,546.86 L248.07,548.17 L249.19,549.49 L250.31,551.08 L251.47,553.20 L252.69,556.08 L254.00,560.00 L255.40,565.24 L256.85,571.69 L258.35,578.98 L259.90,586.76 L261.48,594.67 L263.10,602.33 L264.74,609.40 L266.40,615.50 L268.15,620.87 L270.03,625.96 L271.97,630.71 L273.93,635.09 L275.84,639.06 L277.64,642.56 L279.28,645.55 L280.70,648.00 L281.82,649.75 L282.68,650.79 L283.35,651.25 L283.93,651.28 L284.50,651.03 L285.14,650.64 L285.95,650.25 L287.00,650.00 L288.25,649.80 L289.58,649.47 L291.02,649.03 L292.56,648.50 L294.22,647.91 L296.01,647.28 L297.93,646.64 L300.00,646.00 L302.13,645.50 L304.29,645.17 L306.53,644.89 L308.92,644.53 L311.53,643.99 L314.42,643.13 L317.65,641.84 L321.30,640.00 L325.53,637.38 L330.35,633.98 L335.59,630.07 L341.08,625.89 L346.64,621.69 L352.09,617.73 L357.27,614.24 L362.00,611.50 L366.35,609.39 L370.51,607.64 L374.51,606.22 L378.34,605.11 L382.04,604.28 L385.60,603.72 L389.05,603.40 L392.40,603.30 L395.74,603.60 L399.09,604.39 L402.37,605.53 L405.50,606.89 L408.39,608.30 L410.96,609.64 L413.13,610.76 L414.80,611.50" fill="none" stroke="#1A6FDF" stroke-width="2.7" stroke-linejoin="round"/>
<path d="M53.00,593.30 L53.53,595.34 L54.23,598.02 L55.07,601.21 L56.00,604.77 L56.99,608.57 L58.02,612.47 L59.03,616.32 L60.00,620.00 L60.92,623.70 L61.82,627.65 L62.72,631.73 L63.64,635.82 L64.61,639.81 L65.65,643.58 L66.77,647.01 L68.00,650.00 L69.39,652.67 L70.92,655.19 L72.57,657.50 L74.27,659.53 L75.98,661.21 L77.65,662.50 L79.24,663.31 L80.70,663.60 L82.02,663.35 L83.25,662.61 L84.41,661.43 L85.52,659.84 L86.61,657.86 L87.71,655.54 L88.83,652.91 L90.00,650.00 L91.22,646.68 L92.45,642.87 L93.70,638.66 L94.96,634.15 L96.22,629.43 L97.48,624.60 L98.75,619.76 L100.00,615.00 L101.26,610.21 L102.52,605.23 L103.79,600.15 L105.06,595.00 L106.32,589.85 L107.57,584.77 L108.80,579.79 L110.00,575.00 L111.17,570.49 L112.32,566.25 L113.45,562.17 L114.56,558.12 L115.67,554.00 L116.77,549.69 L117.88,545.06 L119.00,540.00 L120.12,534.54 L121.25,528.79 L122.38,522.79 L123.50,516.56 L124.62,510.14 L125.75,503.55 L126.88,496.83 L128.00,490.00 L129.15,482.74 L130.32,474.88 L131.51,466.69 L132.69,458.44 L133.84,450.38 L134.96,442.77 L136.02,435.89 L137.00,430.00 L137.89,425.09 L138.71,420.90 L139.46,417.32 L140.17,414.26 L140.87,411.61 L141.56,409.25 L142.26,407.08 L143.00,405.00 L143.76,403.06 L144.52,401.38 L145.28,399.97 L146.05,398.83 L146.82,397.94 L147.60,397.30 L148.39,396.93 L149.20,396.80 L150.01,396.93 L150.81,397.30 L151.61,397.94 L152.42,398.83 L153.26,399.97 L154.13,401.38 L155.04,403.06 L156.00,405.00 L157.00,407.22 L158.02,409.74 L159.08,412.52 L160.17,415.56 L161.30,418.85 L162.48,422.36 L163.71,426.08 L165.00,430.00 L166.36,434.15 L167.80,438.56 L169.29,443.20 L170.83,448.06 L172.40,453.11 L173.97,458.34 L175.55,463.71 L177.10,469.20 L178.70,475.19 L180.37,481.84 L182.09,488.86 L183.80,495.94 L185.45,502.78 L187.00,509.07 L188.40,514.51 L189.60,518.80 L190.50,521.91 L191.11,524.12 L191.53,525.58 L191.86,526.44 L192.22,526.86 L192.71,526.99 L193.43,526.99 L194.50,527.00 L195.91,526.85 L197.56,526.32 L199.41,525.49 L201.41,524.45 L203.51,523.29 L205.67,522.11 L207.85,520.98 L210.00,520.00 L212.22,518.99 L214.58,517.78 L217.04,516.49 L219.52,515.24 L221.96,514.15 L224.29,513.33 L226.46,512.91 L228.40,513.00 L230.05,513.54 L231.45,514.40 L232.68,515.57 L233.80,517.05 L234.90,518.85 L236.05,520.98 L237.33,523.43 L238.80,526.20 L240.49,529.35 L242.33,532.88 L244.27,536.77 L246.28,540.96 L248.29,545.42 L250.28,550.11 L252.20,554.98 L254.00,560.00 L255.62,565.33 L257.06,571.08 L258.42,577.12 L259.75,583.34 L261.14,589.60 L262.66,595.78 L264.39,601.76 L266.40,607.40 L268.76,612.99 L271.44,618.75 L274.34,624.52 L277.36,630.10 L280.41,635.32 L283.40,640.00 L286.23,643.95 L288.80,647.00 L291.12,649.03 L293.28,650.18 L295.32,650.60 L297.28,650.48 L299.19,649.98 L301.09,649.29 L303.01,648.57 L305.00,648.00 L306.87,647.52 L308.50,646.92 L310.03,646.20 L311.62,645.34 L313.40,644.30 L315.51,643.08 L318.09,641.65 L321.30,640.00 L325.25,637.97 L329.86,635.53 L334.96,632.81 L340.39,629.94 L345.97,627.05 L351.55,624.27 L356.95,621.75 L362.00,619.60 L366.90,617.78 L371.89,616.14 L376.88,614.67 L381.77,613.35 L386.48,612.18 L390.89,611.13 L394.93,610.21 L398.50,609.40 L401.62,608.74 L404.38,608.28 L406.81,607.96 L408.93,607.76 L410.77,607.64 L412.34,607.57 L413.68,607.50 L414.80,607.40" fill="none" stroke="#F14040" stroke-width="2.7" stroke-linejoin="round"/>
<path d="M53.00,610.60 L53.68,612.94 L54.58,616.13 L55.65,619.93 L56.84,624.11 L58.11,628.44 L59.43,632.69 L60.74,636.62 L62.00,640.00 L63.26,643.06 L64.57,646.14 L65.91,649.12 L67.28,651.90 L68.64,654.38 L70.00,656.46 L71.32,658.04 L72.60,659.00 L73.83,659.30 L75.02,659.00 L76.19,658.20 L77.34,657.00 L78.48,655.48 L79.64,653.75 L80.80,651.89 L82.00,650.00 L83.23,648.00 L84.50,645.78 L85.79,643.36 L87.09,640.75 L88.37,637.99 L89.63,635.09 L90.84,632.09 L92.00,629.00 L93.09,625.77 L94.11,622.36 L95.08,618.80 L96.03,615.12 L96.98,611.37 L97.94,607.58 L98.94,603.78 L100.00,600.00 L101.13,596.18 L102.32,592.25 L103.54,588.27 L104.78,584.26 L106.02,580.29 L107.23,576.39 L108.40,572.61 L109.50,569.00 L110.52,565.69 L111.46,562.70 L112.35,559.90 L113.22,557.14 L114.09,554.28 L115.00,551.20 L115.96,547.75 L117.00,543.80 L118.14,539.48 L119.36,535.00 L120.63,530.28 L121.94,525.26 L123.25,519.89 L124.55,514.10 L125.80,507.82 L127.00,501.00 L128.15,493.16 L129.30,484.15 L130.43,474.42 L131.53,464.39 L132.60,454.50 L133.62,445.18 L134.59,436.87 L135.50,430.00 L136.33,424.58 L137.07,420.19 L137.76,416.65 L138.40,413.77 L139.03,411.35 L139.65,409.21 L140.30,407.15 L141.00,405.00 L141.73,402.81 L142.46,400.80 L143.21,398.99 L143.96,397.39 L144.73,396.05 L145.50,394.97 L146.30,394.18 L147.10,393.70 L147.93,393.62 L148.79,393.95 L149.67,394.61 L150.56,395.52 L151.44,396.59 L152.32,397.75 L153.18,398.92 L154.00,400.00 L154.77,401.03 L155.50,402.11 L156.19,403.23 L156.88,404.41 L157.58,405.67 L158.32,407.01 L159.12,408.45 L160.00,410.00 L160.98,411.60 L162.04,413.21 L163.16,414.89 L164.31,416.66 L165.49,418.59 L166.66,420.71 L167.80,423.06 L168.90,425.70 L169.94,428.65 L170.95,431.87 L171.93,435.33 L172.91,438.98 L173.89,442.79 L174.91,446.70 L175.97,450.69 L177.10,454.70 L178.31,458.94 L179.59,463.54 L180.92,468.33 L182.28,473.17 L183.64,477.90 L184.98,482.37 L186.28,486.42 L187.50,489.90 L188.63,492.78 L189.66,495.21 L190.65,497.26 L191.62,499.03 L192.60,500.60 L193.64,502.06 L194.76,503.50 L196.00,505.00 L197.38,506.59 L198.87,508.19 L200.44,509.74 L202.06,511.20 L203.71,512.50 L205.35,513.59 L206.96,514.41 L208.50,514.90 L209.99,515.00 L211.47,514.73 L212.94,514.18 L214.39,513.42 L215.82,512.54 L217.23,511.62 L218.63,510.75 L220.00,510.00 L221.34,509.25 L222.66,508.36 L223.95,507.42 L225.22,506.48 L226.48,505.64 L227.75,504.96 L229.02,504.52 L230.30,504.40 L231.60,504.54 L232.91,504.85 L234.23,505.35 L235.55,506.04 L236.86,506.93 L238.16,508.05 L239.44,509.40 L240.70,511.00 L241.94,512.89 L243.18,515.07 L244.41,517.51 L245.62,520.16 L246.82,522.98 L247.98,525.92 L249.11,528.94 L250.20,532.00 L251.23,535.07 L252.21,538.20 L253.15,541.40 L254.06,544.73 L254.96,548.22 L255.87,551.90 L256.82,555.82 L257.80,560.00 L258.79,564.56 L259.75,569.50 L260.70,574.72 L261.68,580.11 L262.71,585.57 L263.83,590.99 L265.05,596.27 L266.40,601.30 L267.91,606.28 L269.57,611.40 L271.35,616.53 L273.19,621.55 L275.09,626.32 L276.99,630.72 L278.87,634.63 L280.70,637.90 L282.50,640.49 L284.33,642.50 L286.16,644.03 L287.99,645.18 L289.81,646.04 L291.59,646.74 L293.32,647.35 L295.00,648.00 L296.59,648.63 L298.11,649.12 L299.57,649.48 L301.00,649.69 L302.43,649.76 L303.89,649.67 L305.41,649.42 L307.00,649.00 L308.65,648.34 L310.31,647.41 L312.00,646.27 L313.73,645.00 L315.51,643.67 L317.36,642.34 L319.29,641.10 L321.30,640.00 L323.40,639.04 L325.59,638.14 L327.85,637.29 L330.17,636.46 L332.55,635.63 L334.99,634.79 L337.47,633.92 L340.00,633.00 L342.58,632.03 L345.21,631.04 L347.91,630.02 L350.65,628.99 L353.44,627.94 L356.26,626.87 L359.12,625.79 L362.00,624.70 L364.98,623.48 L368.10,622.08 L371.30,620.60 L374.51,619.14 L377.67,617.80 L380.73,616.68 L383.63,615.88 L386.30,615.50 L388.75,615.68 L391.05,616.37 L393.21,617.41 L395.26,618.66 L397.20,619.96 L399.06,621.15 L400.85,622.08 L402.60,622.60 L404.34,622.69 L406.06,622.49 L407.73,622.08 L409.32,621.54 L410.78,620.95 L412.07,620.38 L413.15,619.90 L414.00,619.60" fill="none" stroke="#515151" stroke-width="2.7" stroke-linejoin="round"/>
<path d="M53.00,653.30 L54.32,652.87 L56.09,652.29 L58.20,651.59 L60.54,650.82 L63.00,650.04 L65.47,649.27 L67.84,648.58 L70.00,648.00 L72.03,647.65 L74.08,647.53 L76.11,647.53 L78.11,647.53 L80.05,647.41 L81.91,647.06 L83.67,646.37 L85.30,645.20 L86.78,643.64 L88.11,641.84 L89.33,639.77 L90.48,637.43 L91.59,634.79 L92.69,631.85 L93.81,628.59 L95.00,625.00 L96.22,620.96 L97.43,616.42 L98.64,611.50 L99.86,606.31 L101.09,600.96 L102.35,595.55 L103.65,590.19 L105.00,585.00 L106.42,579.89 L107.91,574.73 L109.44,569.53 L111.00,564.33 L112.56,559.13 L114.09,553.96 L115.58,548.84 L117.00,543.80 L118.35,538.84 L119.67,533.96 L120.95,529.13 L122.20,524.32 L123.43,519.53 L124.63,514.73 L125.82,509.89 L127.00,505.00 L128.17,499.93 L129.32,494.66 L130.46,489.30 L131.57,483.95 L132.67,478.73 L133.74,473.76 L134.78,469.15 L135.80,465.00 L136.76,461.32 L137.66,458.00 L138.52,455.00 L139.37,452.26 L140.22,449.73 L141.09,447.38 L142.01,445.15 L143.00,443.00 L144.07,440.96 L145.21,439.09 L146.40,437.38 L147.62,435.82 L148.84,434.40 L150.04,433.12 L151.20,431.95 L152.30,430.90 L153.32,430.02 L154.26,429.33 L155.16,428.81 L156.05,428.40 L156.95,428.06 L157.89,427.74 L158.90,427.40 L160.00,427.00 L161.22,426.51 L162.54,425.96 L163.93,425.40 L165.36,424.86 L166.80,424.38 L168.23,424.00 L169.60,423.76 L170.90,423.70 L172.08,423.76 L173.16,423.88 L174.18,424.10 L175.18,424.44 L176.22,424.93 L177.34,425.60 L178.58,426.48 L180.00,427.60 L181.65,429.16 L183.50,431.23 L185.49,433.61 L187.56,436.12 L189.63,438.58 L191.64,440.78 L193.52,442.55 L195.20,443.70 L196.68,444.21 L198.00,444.24 L199.22,443.89 L200.36,443.27 L201.47,442.48 L202.59,441.60 L203.75,440.74 L205.00,440.00 L206.30,439.23 L207.61,438.27 L208.94,437.21 L210.28,436.12 L211.65,435.11 L213.06,434.24 L214.51,433.61 L216.00,433.30 L217.57,433.25 L219.21,433.36 L220.90,433.64 L222.62,434.11 L224.35,434.76 L226.05,435.62 L227.71,436.70 L229.30,438.00 L230.83,439.53 L232.33,441.27 L233.80,443.23 L235.24,445.39 L236.65,447.76 L238.03,450.32 L239.38,453.07 L240.70,456.00 L241.99,459.18 L243.25,462.64 L244.49,466.32 L245.69,470.19 L246.86,474.18 L248.00,478.24 L249.12,482.33 L250.20,486.40 L251.25,490.46 L252.28,494.56 L253.27,498.72 L254.24,502.94 L255.17,507.23 L256.08,511.60 L256.95,516.05 L257.80,520.60 L258.59,525.33 L259.33,530.28 L260.02,535.36 L260.69,540.50 L261.35,545.61 L262.03,550.62 L262.74,555.44 L263.50,560.00 L264.29,564.20 L265.08,568.06 L265.89,571.72 L266.72,575.29 L267.58,578.88 L268.49,582.62 L269.46,586.62 L270.50,591.00 L271.58,595.98 L272.68,601.54 L273.83,607.44 L275.03,613.45 L276.29,619.33 L277.65,624.83 L279.12,629.74 L280.70,633.80 L282.45,637.04 L284.38,639.69 L286.42,641.84 L288.55,643.57 L290.71,644.97 L292.85,646.12 L294.93,647.10 L296.90,648.00 L298.80,648.72 L300.68,649.14 L302.55,649.30 L304.38,649.26 L306.16,649.06 L307.88,648.75 L309.53,648.38 L311.10,648.00 L312.36,647.54 L313.22,646.92 L313.88,646.19 L314.54,645.38 L315.42,644.52 L316.70,643.65 L318.59,642.80 L321.30,642.00 L325.04,641.19 L329.71,640.29 L335.05,639.36 L340.77,638.45 L346.60,637.60 L352.26,636.86 L357.49,636.28 L362.00,635.90 L365.88,635.74 L369.42,635.76 L372.67,635.92 L375.67,636.20 L378.49,636.57 L381.17,636.99 L383.76,637.45 L386.30,637.90 L388.75,638.44 L391.03,639.15 L393.18,639.94 L395.21,640.76 L397.14,641.54 L399.00,642.22 L400.81,642.73 L402.60,643.00 L404.40,642.99 L406.22,642.75 L408.01,642.34 L409.72,641.82 L411.30,641.26 L412.70,640.73 L413.89,640.29 L414.80,640.00" fill="none" stroke="#7D4E4E" stroke-width="2.7" stroke-linejoin="round"/>
</svg>
<path d="M53,374.2 L413.9,374.2 L413.9,666" fill="none" stroke="#555" stroke-width="1.3"/>
<path d="M53,373.59999999999997 L53,666 L414.5,666" fill="none" stroke="#111" stroke-width="1.9"/>
<g stroke="#111" stroke-width="1.6">
<path d="M53.0,666 L53.0,670.5"/>
<path d="M97.8,666 L97.8,668.5"/>
<path d="M142.5,666 L142.5,670.5"/>
<path d="M187.2,666 L187.2,668.5"/>
<path d="M232.0,666 L232.0,670.5"/>
<path d="M276.8,666 L276.8,668.5"/>
<path d="M321.5,666 L321.5,670.5"/>
<path d="M366.2,666 L366.2,668.5"/>
<path d="M411.0,666 L411.0,670.5"/>
</g>
<text x="53.0" y="686.4" font-size="16" text-anchor="middle" fill="#000" font-weight="bold" >50</text>
<text x="142.5" y="686.4" font-size="16" text-anchor="middle" fill="#000" font-weight="bold" >100</text>
<text x="232.0" y="686.4" font-size="16" text-anchor="middle" fill="#000" font-weight="bold" >150</text>
<text x="321.5" y="686.4" font-size="16" text-anchor="middle" fill="#000" font-weight="bold" >200</text>
<text x="411.0" y="686.4" font-size="16" text-anchor="middle" fill="#000" font-weight="bold" >250</text>
<text x="146.6" y="721.8" font-size="21" font-weight="bold" textLength="172.6" lengthAdjust="spacingAndGlyphs">Raman Shift <tspan font-size="19">(cm</tspan><tspan dy="-8" font-size="12">-1</tspan><tspan dy="8" font-size="19">)</tspan></text>
<text transform="translate(26,513) rotate(-90)" x="0" y="0" font-size="21" text-anchor="middle" font-weight="bold" textLength="137.5" lengthAdjust="spacingAndGlyphs">Intensity (a.u.)</text>
<text x="10.8" y="371.4" font-size="25.5" text-anchor="start" fill="#000" font-weight="bold" textLength="26.6" lengthAdjust="spacingAndGlyphs" >(c)</text>
<rect x="260.6" y="374.2" width="153.29999999999995" height="163.40000000000003" fill="#fff" stroke="#777" stroke-width="1"/>
<path d="M261.6,385.6 L300.5,385.6" stroke="#37AD6B" stroke-width="3"/>
<text x="302.4" y="390.2" font-size="13.5" font-weight="bold" textLength="109" lengthAdjust="spacingAndGlyphs">59.5 mJ/cm<tspan dy="-5" font-size="8.5">2</tspan><tspan dy="5"> &amp; 20 ns</tspan></text>
<path d="M261.6,405.9 L300.5,405.9" stroke="#CC9900" stroke-width="3"/>
<text x="302.4" y="410.5" font-size="13.5" font-weight="bold" textLength="109" lengthAdjust="spacingAndGlyphs">52.3 mJ/cm<tspan dy="-5" font-size="8.5">2</tspan><tspan dy="5"> &amp; 25 ns</tspan></text>
<path d="M261.6,426.1 L300.5,426.1" stroke="#00CBCC" stroke-width="3"/>
<text x="302.4" y="430.7" font-size="13.5" font-weight="bold" textLength="109" lengthAdjust="spacingAndGlyphs">45.8 mJ/cm<tspan dy="-5" font-size="8.5">2</tspan><tspan dy="5"> &amp; 30 ns</tspan></text>
<path d="M261.6,446.4 L300.5,446.4" stroke="#B177DE" stroke-width="3"/>
<text x="302.4" y="451.0" font-size="13.5" font-weight="bold" textLength="109" lengthAdjust="spacingAndGlyphs">41.9 mJ/cm<tspan dy="-5" font-size="8.5">2</tspan><tspan dy="5"> &amp; 35 ns</tspan></text>
<path d="M261.6,466.6 L300.5,466.6" stroke="#1A6FDF" stroke-width="3"/>
<text x="302.4" y="471.2" font-size="13.5" font-weight="bold" textLength="109" lengthAdjust="spacingAndGlyphs">37.1 mJ/cm<tspan dy="-5" font-size="8.5">2</tspan><tspan dy="5"> &amp; 40 ns</tspan></text>
<path d="M261.6,486.9 L300.5,486.9" stroke="#F14040" stroke-width="3"/>
<text x="302.4" y="491.5" font-size="13.5" font-weight="bold" textLength="109" lengthAdjust="spacingAndGlyphs">34.5 mJ/cm<tspan dy="-5" font-size="8.5">2</tspan><tspan dy="5"> &amp; 45 ns</tspan></text>
<path d="M261.6,507.1 L300.5,507.1" stroke="#515151" stroke-width="3"/>
<text x="302.4" y="511.7" font-size="13.5" font-weight="bold" textLength="109" lengthAdjust="spacingAndGlyphs">30.5 mJ/cm<tspan dy="-5" font-size="8.5">2</tspan><tspan dy="5"> &amp; 50 ns</tspan></text>
<path d="M261.6,527.4 L300.5,527.4" stroke="#7D4E4E" stroke-width="3"/>
<text x="302.4" y="532.0" font-size="13.5" font-weight="bold" textLength="109" lengthAdjust="spacingAndGlyphs">26.2 mJ/cm<tspan dy="-5" font-size="8.5">2</tspan><tspan dy="5"> &amp; 55 ns</tspan></text>
<svg x="496.9" y="373.1" width="361.6" height="291.19999999999993" viewBox="496.9 373.1 361.6 291.19999999999993" overflow="hidden">
<path d="M496.9,385.5 L704.7,385.5" stroke="#D02828" stroke-width="1" stroke-dasharray="3,1.6"/>
<path d="M496.9,597.5 L858.5,597.5" stroke="#4A68A8" stroke-width="1" stroke-dasharray="3,1.6"/>
<path d="M497.70,656.14 L498.36,655.80 L499.01,655.43 L499.67,655.03 L500.32,654.60 L500.98,654.14 L501.64,653.65 L502.29,653.12 L502.95,652.55 L503.60,651.95 L504.26,651.30 L504.92,650.61 L505.57,649.88 L506.23,649.09 L506.88,648.26 L507.54,647.38 L508.20,646.44 L508.85,645.44 L509.51,644.39 L510.16,643.27 L510.82,642.10 L511.48,640.85 L512.13,639.54 L512.79,638.16 L513.44,636.71 L514.10,635.18 L514.76,633.57 L515.41,631.89 L516.07,630.13 L516.72,628.28 L517.38,626.35 L518.04,624.34 L518.69,622.23 L519.35,620.04 L520.00,617.77 L520.66,615.40 L521.32,612.93 L521.97,610.38 L522.63,607.74 L523.28,605.00 L523.94,602.16 L524.60,599.24 L525.25,596.22 L525.91,593.12 L526.56,589.92 L527.22,586.63 L527.88,583.25 L528.53,579.79 L529.19,576.24 L529.84,572.61 L530.50,568.90 L531.16,565.11 L531.81,561.25 L532.47,557.32 L533.12,553.32 L533.78,549.26 L534.44,545.14 L535.09,540.96 L535.75,536.74 L536.40,532.47 L537.06,528.16 L537.72,523.82 L538.37,519.44 L539.03,515.05 L539.68,510.64 L540.34,506.22 L541.00,501.79 L541.65,497.37 L542.31,492.96 L542.96,488.56 L543.62,484.19 L544.28,479.85 L544.93,475.54 L545.59,471.27 L546.24,467.06 L546.90,462.90 L547.56,458.81 L548.21,454.79 L548.87,450.85 L549.52,446.99 L550.18,443.22 L550.84,439.54 L551.49,435.97 L552.15,432.51 L552.80,429.16 L553.46,425.93 L554.12,422.82 L554.77,419.85 L555.43,417.00 L556.08,414.30 L556.74,411.73 L557.40,409.31 L558.05,407.03 L558.71,404.90 L559.36,402.93 L560.02,401.11 L560.68,399.44 L561.33,397.92 L561.99,396.56 L562.64,395.35 L563.30,394.30 L563.96,393.40 L564.61,392.64 L565.27,392.03 L565.92,391.56 L566.58,391.23 L567.24,391.02 L567.89,390.93 L568.55,391.52 L569.20,392.74 L569.86,394.00 L570.52,395.31 L571.17,396.67 L571.83,398.09 L572.48,399.57 L573.14,401.13 L573.80,402.76 L574.45,404.46 L575.11,406.25 L575.76,408.11 L576.42,410.06 L577.08,412.09 L577.73,414.21 L578.39,416.41 L579.04,418.70 L579.70,421.07 L580.36,423.53 L581.01,426.08 L581.67,428.71 L582.32,431.42 L582.98,434.21 L583.64,437.08 L584.29,440.03 L584.95,443.06 L585.60,446.16 L586.26,449.32 L586.92,452.56 L587.57,455.86 L588.23,459.22 L588.88,462.63 L589.54,466.10 L590.20,469.62 L590.85,473.18 L591.51,476.78 L592.16,480.42 L592.82,484.09 L593.48,487.79 L594.13,491.51 L594.79,495.25 L595.44,499.00 L596.10,502.76 L596.76,506.53 L597.41,510.30 L598.07,514.06 L598.72,517.81 L599.38,521.55 L600.04,525.28 L600.69,528.98 L601.35,532.65 L602.00,536.30 L602.66,539.91 L603.32,543.48 L603.97,547.01 L604.63,550.49 L605.28,553.93 L605.94,557.32 L606.60,560.65 L607.25,563.93 L607.91,567.14 L608.56,570.30 L609.22,573.39 L609.88,576.42 L610.53,579.37 L611.19,582.26 L611.84,585.08 L612.50,587.83 L613.16,590.50 L613.81,593.11 L614.47,595.63 L615.12,598.09 L615.78,600.47 L616.44,602.78 L617.09,605.01 L617.75,607.17 L618.40,609.25 L619.06,611.27 L619.72,613.21 L620.37,615.08 L621.03,616.88 L621.68,618.61 L622.34,620.28 L623.00,621.88 L623.65,623.41 L624.31,624.88 L624.96,626.29 L625.62,627.64 L626.28,628.93 L626.93,630.16 L627.59,631.34 L628.24,632.46 L628.90,633.53 L629.56,634.56 L630.21,635.53 L630.87,636.46 L631.52,637.34 L632.18,638.18 L632.84,638.98 L633.49,639.74 L634.15,640.47 L634.80,641.15 L635.46,641.81 L636.12,642.43 L636.77,643.02 L637.43,643.58 L638.08,644.11 L638.74,644.61 L639.40,645.09 L640.05,645.55 L640.71,645.98 L641.36,646.39 L642.02,646.78 L642.68,647.16 L643.33,647.51 L643.99,647.85 L644.64,648.17 L645.30,648.48 L645.96,648.77 L646.61,649.05 L647.27,649.31 L647.92,649.57 L648.58,649.81 L649.24,650.05 L649.89,650.27 L650.55,650.49 L651.20,650.69 L651.86,650.89 L652.52,651.08 L653.17,651.27 L653.83,651.44 L654.48,651.61 L655.14,651.78 L655.80,651.94 L656.45,652.10 L657.11,652.25 L657.76,652.39 L658.42,652.53 L659.08,652.67 L659.73,652.80 L660.39,652.93 L661.04,653.06 L661.70,653.18 L662.36,653.30 L663.01,653.42 L663.67,653.54 L664.32,653.65 L664.98,653.76 L665.64,653.87 L666.29,653.97 L666.95,654.07 L667.60,654.17 L668.26,654.27 L668.92,654.37 L669.57,654.46 L670.23,654.56 L670.88,654.65 L671.54,654.74 L672.20,654.83 L672.85,654.91 L673.51,655.00 L674.16,655.08 L674.82,655.16 L675.48,655.24 L676.13,655.32 L676.79,655.40 L677.44,655.47 L678.10,655.55 L678.76,655.62 L679.41,655.69 L680.07,655.77 L680.72,655.84 L681.38,655.90 L682.04,655.97 L682.69,656.04 L683.35,656.10 L684.00,656.17 L684.66,656.23 L685.32,656.29 L685.97,656.35 L686.63,656.41 L687.28,656.47 L687.94,656.53 L688.60,656.59 L689.25,656.64 L689.91,656.70 L690.56,656.75 L691.22,656.80 L691.88,656.86 L692.53,656.91 L693.19,656.96 L693.84,657.01 L694.50,657.06 L695.16,657.11 L695.81,657.15 L696.47,657.20 L697.12,657.25 L697.78,657.29 L698.44,657.34 L699.09,657.38 L699.75,657.42 L700.40,657.46 L701.06,657.51 L701.72,657.55 L702.37,657.59 L703.03,657.63 L703.68,657.67 L704.34,657.70 L705.00,657.74 L705.65,657.78 L706.31,657.81 L706.96,657.85 L707.62,657.89 L708.28,657.92 L708.93,657.95 L709.59,657.99 L710.24,658.02 L710.90,658.05 L711.56,658.08 L712.21,658.12 L712.87,658.15 L713.52,658.18 L714.18,658.21 L714.84,658.24 L715.49,658.26 L716.15,658.29 L716.80,658.32 L717.46,658.35 L718.12,658.37 L718.77,658.40 L719.43,658.43 L720.08,658.45 L720.74,658.48 L721.40,658.50 L722.05,658.53 L722.71,658.55 L723.36,658.57 L724.02,658.60 L724.68,658.62 L725.33,658.64 L725.99,658.66 L726.64,658.69 L727.30,658.71 L727.96,658.73 L728.61,658.75 L729.27,658.77 L729.92,658.79 L730.58,658.81 L731.24,658.83 L731.89,658.85 L732.55,658.87 L733.20,658.88 L733.86,658.90 L734.52,658.92 L735.17,658.94 L735.83,658.95 L736.48,658.97 L737.14,658.99 L737.80,659.00 L738.45,659.02 L739.11,659.04 L739.76,659.05 L740.42,659.07 L741.08,659.08 L741.73,659.10 L742.39,659.11 L743.04,659.13 L743.70,659.14 L744.36,659.15 L745.01,659.17 L745.67,659.18 L746.32,659.19 L746.98,659.21 L747.64,659.22 L748.29,659.23 L748.95,659.24 L749.60,659.26 L750.26,659.27 L750.92,659.28 L751.57,659.29 L752.23,659.30 L752.88,659.31 L753.54,659.32 L754.20,659.34 L754.85,659.35 L755.51,659.36 L756.16,659.37 L756.82,659.38 L757.48,659.39 L758.13,659.40 L758.79,659.41 L759.44,659.42 L760.10,659.42 L760.76,659.43 L761.41,659.44 L762.07,659.45 L762.72,659.46 L763.38,659.47 L764.04,659.48 L764.69,659.49 L765.35,659.49 L766.00,659.50 L766.66,659.51 L767.32,659.52 L767.97,659.52 L768.63,659.53 L769.28,659.54 L769.94,659.55 L770.60,659.55 L771.25,659.56 L771.91,659.57 L772.56,659.57 L773.22,659.58 L773.88,659.59 L774.53,659.59 L775.19,659.60 L775.84,659.61 L776.50,659.61 L777.16,659.62 L777.81,659.62 L778.47,659.63 L779.12,659.64 L779.78,659.64 L780.44,659.65 L781.09,659.65 L781.75,659.66 L782.40,659.66 L783.06,659.67 L783.72,659.67 L784.37,659.68 L785.03,659.68 L785.68,659.69 L786.34,659.69 L787.00,659.70 L787.65,659.70 L788.31,659.71 L788.96,659.71 L789.62,659.72 L790.28,659.72 L790.93,659.72 L791.59,659.73 L792.24,659.73 L792.90,659.74 L793.56,659.74 L794.21,659.74 L794.87,659.75 L795.52,659.75 L796.18,659.76 L796.84,659.76 L797.49,659.76 L798.15,659.77 L798.80,659.77 L799.46,659.77 L800.12,659.78 L800.77,659.78 L801.43,659.78 L802.08,659.79 L802.74,659.79 L803.40,659.79 L804.05,659.80 L804.71,659.80 L805.36,659.80 L806.02,659.80 L806.68,659.81 L807.33,659.81 L807.99,659.81 L808.64,659.82 L809.30,659.82 L809.96,659.82 L810.61,659.82 L811.27,659.83 L811.92,659.83 L812.58,659.83 L813.24,659.83 L813.89,659.84 L814.55,659.84 L815.20,659.84 L815.86,659.84 L816.52,659.84 L817.17,659.85 L817.83,659.85 L818.48,659.85 L819.14,659.85 L819.80,659.86 L820.45,659.86 L821.11,659.86 L821.76,659.86 L822.42,659.86 L823.08,659.86 L823.73,659.87 L824.39,659.87 L825.04,659.87 L825.70,659.87 L826.36,659.87 L827.01,659.88 L827.67,659.88 L828.32,659.88 L828.98,659.88 L829.64,659.88 L830.29,659.88 L830.95,659.88 L831.60,659.89 L832.26,659.89 L832.92,659.89 L833.57,659.89 L834.23,659.89 L834.88,659.89 L835.54,659.89 L836.20,659.90 L836.85,659.90 L837.51,659.90 L838.16,659.90 L838.82,659.90 L839.48,659.90 L840.13,659.90 L840.79,659.91 L841.44,659.91 L842.10,659.91 L842.76,659.91 L843.41,659.91 L844.07,659.91 L844.72,659.91 L845.38,659.91 L846.04,659.91 L846.69,659.91 L847.35,659.92 L848.00,659.92 L848.66,659.92 L849.32,659.92 L849.97,659.92 L850.63,659.92 L851.28,659.92 L851.94,659.92 L852.60,659.92 L853.25,659.92 L853.91,659.93 L854.56,659.93 L855.22,659.93 L855.88,659.93 L856.53,659.93 L857.19,659.93 L857.84,659.93 L858.50,659.93 L859.16,659.93 L859.81,659.93 L860.47,659.93 L861.12,659.93 L861.78,659.93 L862.44,659.94 L863.09,659.94 L863.75,659.94 L864.40,659.94 L865.06,659.94" fill="none" stroke="#515151" stroke-width="2.7" stroke-linejoin="round"/>
<path d="M497.70,656.07 L498.36,655.80 L499.01,655.51 L499.67,655.21 L500.32,654.89 L500.98,654.55 L501.64,654.20 L502.29,653.83 L502.95,653.45 L503.60,653.04 L504.26,652.62 L504.92,652.18 L505.57,651.72 L506.23,651.23 L506.88,650.73 L507.54,650.20 L508.20,649.65 L508.85,649.08 L509.51,648.48 L510.16,647.86 L510.82,647.21 L511.48,646.54 L512.13,645.84 L512.79,645.11 L513.44,644.35 L514.10,643.57 L514.76,642.75 L515.41,641.91 L516.07,641.03 L516.72,640.12 L517.38,639.18 L518.04,638.21 L518.69,637.21 L519.35,636.17 L520.00,635.09 L520.66,633.98 L521.32,632.84 L521.97,631.66 L522.63,630.44 L523.28,629.19 L523.94,627.90 L524.60,626.58 L525.25,625.21 L525.91,623.81 L526.56,622.37 L527.22,620.89 L527.88,619.37 L528.53,617.82 L529.19,616.23 L529.84,614.59 L530.50,612.92 L531.16,611.22 L531.81,609.47 L532.47,607.69 L533.12,605.87 L533.78,604.01 L534.44,602.12 L535.09,600.19 L535.75,598.22 L536.40,596.22 L537.06,594.18 L537.72,592.12 L538.37,590.02 L539.03,587.88 L539.68,585.72 L540.34,583.53 L541.00,581.31 L541.65,579.06 L542.31,576.78 L542.96,574.48 L543.62,572.16 L544.28,569.81 L544.93,567.44 L545.59,565.06 L546.24,562.66 L546.90,560.24 L547.56,557.80 L548.21,555.36 L548.87,552.90 L549.52,550.44 L550.18,547.96 L550.84,545.49 L551.49,543.01 L552.15,540.53 L552.80,538.05 L553.46,535.58 L554.12,533.11 L554.77,530.65 L555.43,528.20 L556.08,525.76 L556.74,523.34 L557.40,520.94 L558.05,518.55 L558.71,516.19 L559.36,513.85 L560.02,511.54 L560.68,509.26 L561.33,507.00 L561.99,504.79 L562.64,502.60 L563.30,500.46 L563.96,498.35 L564.61,496.29 L565.27,494.27 L565.92,492.30 L566.58,490.38 L567.24,488.51 L567.89,486.69 L568.55,484.93 L569.20,483.23 L569.86,481.58 L570.52,479.99 L571.17,478.46 L571.83,477.00 L572.48,475.60 L573.14,474.27 L573.80,473.01 L574.45,471.82 L575.11,470.69 L575.76,469.64 L576.42,468.66 L577.08,467.75 L577.73,466.91 L578.39,466.15 L579.04,465.46 L579.70,464.85 L580.36,464.31 L581.01,463.85 L581.67,463.46 L582.32,463.15 L582.98,462.90 L583.64,462.74 L584.29,462.64 L584.95,462.61 L585.60,462.71 L586.26,462.85 L586.92,463.03 L587.57,463.27 L588.23,463.57 L588.88,463.92 L589.54,464.34 L590.20,464.81 L590.85,465.35 L591.51,465.95 L592.16,466.62 L592.82,467.35 L593.48,468.15 L594.13,469.01 L594.79,469.94 L595.44,470.94 L596.10,472.00 L596.76,473.13 L597.41,474.32 L598.07,475.58 L598.72,476.91 L599.38,478.30 L600.04,479.74 L600.69,481.26 L601.35,482.83 L602.00,484.46 L602.66,486.15 L603.32,487.89 L603.97,489.69 L604.63,491.54 L605.28,493.45 L605.94,495.40 L606.60,497.40 L607.25,499.45 L607.91,501.54 L608.56,503.67 L609.22,505.84 L609.88,508.04 L610.53,510.29 L611.19,512.56 L611.84,514.87 L612.50,517.20 L613.16,519.56 L613.81,521.94 L614.47,524.34 L615.12,526.76 L615.78,529.19 L616.44,531.64 L617.09,534.10 L617.75,536.56 L618.40,539.03 L619.06,541.51 L619.72,543.99 L620.37,546.46 L621.03,548.94 L621.68,551.40 L622.34,553.86 L623.00,556.31 L623.65,558.75 L624.31,561.17 L624.96,563.58 L625.62,565.96 L626.28,568.33 L626.93,570.68 L627.59,573.00 L628.24,575.30 L628.90,577.57 L629.56,579.81 L630.21,582.03 L630.87,584.21 L631.52,586.36 L632.18,588.48 L632.84,590.56 L633.49,592.61 L634.15,594.62 L634.80,596.59 L635.46,598.53 L636.12,600.42 L636.77,602.28 L637.43,604.10 L638.08,605.88 L638.74,607.62 L639.40,609.31 L640.05,610.97 L640.71,612.58 L641.36,614.16 L642.02,615.69 L642.68,617.18 L643.33,618.63 L643.99,620.03 L644.64,621.40 L645.30,622.73 L645.96,624.01 L646.61,625.26 L647.27,626.47 L647.92,627.64 L648.58,628.77 L649.24,629.86 L649.89,630.91 L650.55,631.93 L651.20,632.91 L651.86,633.86 L652.52,634.77 L653.17,635.65 L653.83,636.49 L654.48,637.30 L655.14,638.08 L655.80,638.83 L656.45,639.55 L657.11,640.24 L657.76,640.91 L658.42,641.54 L659.08,642.15 L659.73,642.73 L660.39,643.29 L661.04,643.82 L661.70,644.33 L662.36,644.81 L663.01,645.28 L663.67,645.72 L664.32,646.14 L664.98,646.55 L665.64,646.93 L666.29,647.30 L666.95,647.64 L667.60,647.98 L668.26,648.29 L668.92,648.59 L669.57,648.88 L670.23,649.15 L670.88,649.41 L671.54,649.66 L672.20,649.89 L672.85,650.11 L673.51,650.32 L674.16,650.52 L674.82,650.72 L675.48,650.90 L676.13,651.07 L676.79,651.23 L677.44,651.39 L678.10,651.54 L678.76,651.68 L679.41,651.81 L680.07,651.94 L680.72,652.06 L681.38,652.18 L682.04,652.29 L682.69,652.39 L683.35,652.49 L684.00,652.59 L684.66,652.68 L685.32,652.77 L685.97,652.85 L686.63,652.93 L687.28,653.01 L687.94,653.08 L688.60,653.15 L689.25,653.22 L689.91,653.29 L690.56,653.35 L691.22,653.41 L691.88,653.47 L692.53,653.52 L693.19,653.58 L693.84,653.63 L694.50,653.68 L695.16,653.73 L695.81,653.78 L696.47,653.83 L697.12,653.88 L697.78,653.92 L698.44,653.96 L699.09,654.01 L699.75,654.05 L700.40,654.09 L701.06,654.13 L701.72,654.17 L702.37,654.21 L703.03,654.25 L703.68,654.28 L704.34,654.32 L705.00,654.36 L705.65,654.39 L706.31,654.43 L706.96,654.46 L707.62,654.50 L708.28,654.53 L708.93,654.57 L709.59,654.60 L710.24,654.63 L710.90,654.66 L711.56,654.70 L712.21,654.73 L712.87,654.76 L713.52,654.79 L714.18,654.82 L714.84,654.85 L715.49,654.88 L716.15,654.92 L716.80,654.95 L717.46,654.98 L718.12,655.01 L718.77,655.03 L719.43,655.06 L720.08,655.09 L720.74,655.12 L721.40,655.15 L722.05,655.18 L722.71,655.21 L723.36,655.24 L724.02,655.26 L724.68,655.29 L725.33,655.32 L725.99,655.35 L726.64,655.38 L727.30,655.40 L727.96,655.43 L728.61,655.46 L729.27,655.48 L729.92,655.51 L730.58,655.54 L731.24,655.56 L731.89,655.59 L732.55,655.62 L733.20,655.64 L733.86,655.67 L734.52,655.69 L735.17,655.72 L735.83,655.75 L736.48,655.77 L737.14,655.80 L737.80,655.82 L738.45,655.85 L739.11,655.87 L739.76,655.90 L740.42,655.92 L741.08,655.95 L741.73,655.97 L742.39,655.99 L743.04,656.02 L743.70,656.04 L744.36,656.07 L745.01,656.09 L745.67,656.11 L746.32,656.14 L746.98,656.16 L747.64,656.18 L748.29,656.21 L748.95,656.23 L749.60,656.25 L750.26,656.28 L750.92,656.30 L751.57,656.32 L752.23,656.34 L752.88,656.37 L753.54,656.39 L754.20,656.41 L754.85,656.43 L755.51,656.45 L756.16,656.47 L756.82,656.50 L757.48,656.52 L758.13,656.54 L758.79,656.56 L759.44,656.58 L760.10,656.60 L760.76,656.62 L761.41,656.64 L762.07,656.67 L762.72,656.69 L763.38,656.71 L764.04,656.73 L764.69,656.75 L765.35,656.77 L766.00,656.79 L766.66,656.81 L767.32,656.83 L767.97,656.85 L768.63,656.87 L769.28,656.89 L769.94,656.91 L770.60,656.93 L771.25,656.94 L771.91,656.96 L772.56,656.98 L773.22,657.00 L773.88,657.02 L774.53,657.04 L775.19,657.06 L775.84,657.08 L776.50,657.10 L777.16,657.11 L777.81,657.13 L778.47,657.15 L779.12,657.17 L779.78,657.19 L780.44,657.20 L781.09,657.22 L781.75,657.24 L782.40,657.26 L783.06,657.28 L783.72,657.29 L784.37,657.31 L785.03,657.33 L785.68,657.34 L786.34,657.36 L787.00,657.38 L787.65,657.40 L788.31,657.41 L788.96,657.43 L789.62,657.45 L790.28,657.46 L790.93,657.48 L791.59,657.50 L792.24,657.51 L792.90,657.53 L793.56,657.54 L794.21,657.56 L794.87,657.58 L795.52,657.59 L796.18,657.61 L796.84,657.62 L797.49,657.64 L798.15,657.66 L798.80,657.67 L799.46,657.69 L800.12,657.70 L800.77,657.72 L801.43,657.73 L802.08,657.75 L802.74,657.76 L803.40,657.78 L804.05,657.79 L804.71,657.81 L805.36,657.82 L806.02,657.84 L806.68,657.85 L807.33,657.87 L807.99,657.88 L808.64,657.89 L809.30,657.91 L809.96,657.92 L810.61,657.94 L811.27,657.95 L811.92,657.97 L812.58,657.98 L813.24,657.99 L813.89,658.01 L814.55,658.02 L815.20,658.03 L815.86,658.05 L816.52,658.06 L817.17,658.07 L817.83,658.09 L818.48,658.10 L819.14,658.11 L819.80,658.13 L820.45,658.14 L821.11,658.15 L821.76,658.17 L822.42,658.18 L823.08,658.19 L823.73,658.21 L824.39,658.22 L825.04,658.23 L825.70,658.24 L826.36,658.26 L827.01,658.27 L827.67,658.28 L828.32,658.29 L828.98,658.30 L829.64,658.32 L830.29,658.33 L830.95,658.34 L831.60,658.35 L832.26,658.37 L832.92,658.38 L833.57,658.39 L834.23,658.40 L834.88,658.41 L835.54,658.42 L836.20,658.44 L836.85,658.45 L837.51,658.46 L838.16,658.47 L838.82,658.48 L839.48,658.49 L840.13,658.50 L840.79,658.51 L841.44,658.53 L842.10,658.54 L842.76,658.55 L843.41,658.56 L844.07,658.57 L844.72,658.58 L845.38,658.59 L846.04,658.60 L846.69,658.61 L847.35,658.62 L848.00,658.63 L848.66,658.64 L849.32,658.65 L849.97,658.66 L850.63,658.68 L851.28,658.69 L851.94,658.70 L852.60,658.71 L853.25,658.72 L853.91,658.73 L854.56,658.74 L855.22,658.75 L855.88,658.76 L856.53,658.77 L857.19,658.78 L857.84,658.79 L858.50,658.79 L859.16,658.80 L859.81,658.81 L860.47,658.82 L861.12,658.83 L861.78,658.84 L862.44,658.85 L863.09,658.86 L863.75,658.87 L864.40,658.88 L865.06,658.89" fill="none" stroke="#F14040" stroke-width="2.7" stroke-linejoin="round"/>
<path d="M497.70,657.07 L498.36,656.88 L499.01,656.68 L499.67,656.47 L500.32,656.25 L500.98,656.03 L501.64,655.79 L502.29,655.55 L502.95,655.29 L503.60,655.02 L504.26,654.74 L504.92,654.45 L505.57,654.15 L506.23,653.84 L506.88,653.52 L507.54,653.18 L508.20,652.83 L508.85,652.46 L509.51,652.09 L510.16,651.69 L510.82,651.29 L511.48,650.87 L512.13,650.43 L512.79,649.98 L513.44,649.52 L514.10,649.04 L514.76,648.54 L515.41,648.02 L516.07,647.49 L516.72,646.95 L517.38,646.38 L518.04,645.80 L518.69,645.20 L519.35,644.58 L520.00,643.94 L520.66,643.28 L521.32,642.61 L521.97,641.91 L522.63,641.20 L523.28,640.46 L523.94,639.71 L524.60,638.94 L525.25,638.14 L525.91,637.33 L526.56,636.49 L527.22,635.64 L527.88,634.76 L528.53,633.86 L529.19,632.95 L529.84,632.01 L530.50,631.05 L531.16,630.07 L531.81,629.06 L532.47,628.04 L533.12,627.00 L533.78,625.93 L534.44,624.85 L535.09,623.74 L535.75,622.62 L536.40,621.47 L537.06,620.30 L537.72,619.12 L538.37,617.91 L539.03,616.69 L539.68,615.44 L540.34,614.18 L541.00,612.90 L541.65,611.60 L542.31,610.28 L542.96,608.94 L543.62,607.59 L544.28,606.22 L544.93,604.84 L545.59,603.44 L546.24,602.03 L546.90,600.60 L547.56,599.16 L548.21,597.70 L548.87,596.24 L549.52,594.76 L550.18,593.27 L550.84,591.77 L551.49,590.26 L552.15,588.74 L552.80,587.22 L553.46,585.68 L554.12,584.14 L554.77,582.60 L555.43,581.05 L556.08,579.49 L556.74,577.94 L557.40,576.38 L558.05,574.82 L558.71,573.26 L559.36,571.70 L560.02,570.14 L560.68,568.59 L561.33,567.04 L561.99,565.49 L562.64,563.95 L563.30,562.41 L563.96,560.88 L564.61,559.36 L565.27,557.85 L565.92,556.35 L566.58,554.87 L567.24,553.39 L567.89,551.93 L568.55,550.48 L569.20,549.04 L569.86,547.63 L570.52,546.22 L571.17,544.84 L571.83,543.48 L572.48,542.13 L573.14,540.81 L573.80,539.51 L574.45,538.23 L575.11,536.97 L575.76,535.73 L576.42,534.53 L577.08,533.34 L577.73,532.18 L578.39,531.05 L579.04,529.95 L579.70,528.87 L580.36,527.83 L581.01,526.81 L581.67,525.82 L582.32,524.86 L582.98,523.93 L583.64,523.04 L584.29,522.17 L584.95,521.34 L585.60,520.54 L586.26,519.77 L586.92,519.04 L587.57,518.34 L588.23,517.67 L588.88,517.03 L589.54,516.43 L590.20,515.86 L590.85,515.33 L591.51,514.82 L592.16,514.36 L592.82,513.92 L593.48,513.52 L594.13,513.15 L594.79,512.81 L595.44,512.51 L596.10,512.23 L596.76,511.99 L597.41,511.78 L598.07,511.60 L598.72,511.45 L599.38,511.32 L600.04,511.22 L600.69,511.15 L601.35,511.10 L602.00,511.08 L602.66,511.07 L603.32,511.47 L603.97,511.89 L604.63,512.32 L605.28,512.76 L605.94,513.23 L606.60,513.71 L607.25,514.21 L607.91,514.73 L608.56,515.27 L609.22,515.84 L609.88,516.42 L610.53,517.03 L611.19,517.65 L611.84,518.30 L612.50,518.97 L613.16,519.67 L613.81,520.38 L614.47,521.12 L615.12,521.88 L615.78,522.66 L616.44,523.47 L617.09,524.29 L617.75,525.14 L618.40,526.01 L619.06,526.91 L619.72,527.82 L620.37,528.76 L621.03,529.71 L621.68,530.69 L622.34,531.69 L623.00,532.71 L623.65,533.74 L624.31,534.80 L624.96,535.87 L625.62,536.97 L626.28,538.08 L626.93,539.21 L627.59,540.35 L628.24,541.52 L628.90,542.69 L629.56,543.89 L630.21,545.10 L630.87,546.32 L631.52,547.55 L632.18,548.80 L632.84,550.06 L633.49,551.34 L634.15,552.62 L634.80,553.91 L635.46,555.22 L636.12,556.53 L636.77,557.85 L637.43,559.18 L638.08,560.51 L638.74,561.85 L639.40,563.20 L640.05,564.55 L640.71,565.90 L641.36,567.26 L642.02,568.62 L642.68,569.99 L643.33,571.35 L643.99,572.72 L644.64,574.08 L645.30,575.44 L645.96,576.81 L646.61,578.17 L647.27,579.52 L647.92,580.88 L648.58,582.23 L649.24,583.57 L649.89,584.91 L650.55,586.25 L651.20,587.57 L651.86,588.89 L652.52,590.20 L653.17,591.51 L653.83,592.80 L654.48,594.09 L655.14,595.37 L655.80,596.63 L656.45,597.89 L657.11,599.13 L657.76,600.36 L658.42,601.58 L659.08,602.79 L659.73,603.98 L660.39,605.16 L661.04,606.33 L661.70,607.49 L662.36,608.62 L663.01,609.75 L663.67,610.86 L664.32,611.95 L664.98,613.03 L665.64,614.10 L666.29,615.15 L666.95,616.18 L667.60,617.20 L668.26,618.20 L668.92,619.18 L669.57,620.15 L670.23,621.10 L670.88,622.03 L671.54,622.95 L672.20,623.85 L672.85,624.74 L673.51,625.61 L674.16,626.46 L674.82,627.29 L675.48,628.11 L676.13,628.91 L676.79,629.69 L677.44,630.46 L678.10,631.21 L678.76,631.95 L679.41,632.67 L680.07,633.37 L680.72,634.06 L681.38,634.73 L682.04,635.38 L682.69,636.02 L683.35,636.65 L684.00,637.25 L684.66,637.85 L685.32,638.43 L685.97,638.99 L686.63,639.54 L687.28,640.08 L687.94,640.60 L688.60,641.11 L689.25,641.60 L689.91,642.08 L690.56,642.55 L691.22,643.01 L691.88,643.45 L692.53,643.88 L693.19,644.30 L693.84,644.71 L694.50,645.10 L695.16,645.49 L695.81,645.86 L696.47,646.22 L697.12,646.57 L697.78,646.91 L698.44,647.24 L699.09,647.56 L699.75,647.87 L700.40,648.17 L701.06,648.47 L701.72,648.75 L702.37,649.03 L703.03,649.29 L703.68,649.55 L704.34,649.80 L705.00,650.04 L705.65,650.28 L706.31,650.50 L706.96,650.72 L707.62,650.94 L708.28,651.14 L708.93,651.34 L709.59,651.54 L710.24,651.73 L710.90,651.91 L711.56,652.09 L712.21,652.26 L712.87,652.42 L713.52,652.58 L714.18,652.74 L714.84,652.89 L715.49,653.03 L716.15,653.18 L716.80,653.31 L717.46,653.45 L718.12,653.57 L718.77,653.70 L719.43,653.82 L720.08,653.94 L720.74,654.05 L721.40,654.16 L722.05,654.27 L722.71,654.38 L723.36,654.48 L724.02,654.58 L724.68,654.67 L725.33,654.77 L725.99,654.86 L726.64,654.94 L727.30,655.03 L727.96,655.11 L728.61,655.19 L729.27,655.27 L729.92,655.35 L730.58,655.43 L731.24,655.50 L731.89,655.57 L732.55,655.64 L733.20,655.71 L733.86,655.78 L734.52,655.84 L735.17,655.90 L735.83,655.97 L736.48,656.03 L737.14,656.09 L737.80,656.15 L738.45,656.20 L739.11,656.26 L739.76,656.31 L740.42,656.37 L741.08,656.42 L741.73,656.47 L742.39,656.52 L743.04,656.57 L743.70,656.62 L744.36,656.67 L745.01,656.71 L745.67,656.76 L746.32,656.80 L746.98,656.85 L747.64,656.89 L748.29,656.94 L748.95,656.98 L749.60,657.02 L750.26,657.06 L750.92,657.10 L751.57,657.14 L752.23,657.18 L752.88,657.22 L753.54,657.26 L754.20,657.29 L754.85,657.33 L755.51,657.37 L756.16,657.40 L756.82,657.44 L757.48,657.47 L758.13,657.51 L758.79,657.54 L759.44,657.58 L760.10,657.61 L760.76,657.64 L761.41,657.68 L762.07,657.71 L762.72,657.74 L763.38,657.77 L764.04,657.80 L764.69,657.83 L765.35,657.86 L766.00,657.89 L766.66,657.92 L767.32,657.95 L767.97,657.98 L768.63,658.01 L769.28,658.04 L769.94,658.06 L770.60,658.09 L771.25,658.12 L771.91,658.15 L772.56,658.17 L773.22,658.20 L773.88,658.22 L774.53,658.25 L775.19,658.27 L775.84,658.30 L776.50,658.32 L777.16,658.35 L777.81,658.37 L778.47,658.40 L779.12,658.42 L779.78,658.45 L780.44,658.47 L781.09,658.49 L781.75,658.51 L782.40,658.54 L783.06,658.56 L783.72,658.58 L784.37,658.60 L785.03,658.62 L785.68,658.65 L786.34,658.67 L787.00,658.69 L787.65,658.71 L788.31,658.73 L788.96,658.75 L789.62,658.77 L790.28,658.79 L790.93,658.81 L791.59,658.83 L792.24,658.85 L792.90,658.87 L793.56,658.89 L794.21,658.90 L794.87,658.92 L795.52,658.94 L796.18,658.96 L796.84,658.98 L797.49,658.99 L798.15,659.01 L798.80,659.03 L799.46,659.05 L800.12,659.06 L800.77,659.08 L801.43,659.10 L802.08,659.11 L802.74,659.13 L803.40,659.14 L804.05,659.16 L804.71,659.18 L805.36,659.19 L806.02,659.21 L806.68,659.22 L807.33,659.24 L807.99,659.25 L808.64,659.27 L809.30,659.28 L809.96,659.30 L810.61,659.31 L811.27,659.32 L811.92,659.34 L812.58,659.35 L813.24,659.37 L813.89,659.38 L814.55,659.39 L815.20,659.41 L815.86,659.42 L816.52,659.43 L817.17,659.45 L817.83,659.46 L818.48,659.47 L819.14,659.48 L819.80,659.50 L820.45,659.51 L821.11,659.52 L821.76,659.53 L822.42,659.54 L823.08,659.56 L823.73,659.57 L824.39,659.58 L825.04,659.59 L825.70,659.60 L826.36,659.61 L827.01,659.62 L827.67,659.63 L828.32,659.64 L828.98,659.66 L829.64,659.67 L830.29,659.68 L830.95,659.69 L831.60,659.70 L832.26,659.71 L832.92,659.72 L833.57,659.73 L834.23,659.74 L834.88,659.75 L835.54,659.76 L836.20,659.77 L836.85,659.78 L837.51,659.78 L838.16,659.79 L838.82,659.80 L839.48,659.81 L840.13,659.82 L840.79,659.83 L841.44,659.84 L842.10,659.85 L842.76,659.86 L843.41,659.86 L844.07,659.87 L844.72,659.88 L845.38,659.89 L846.04,659.90 L846.69,659.90 L847.35,659.91 L848.00,659.92 L848.66,659.93 L849.32,659.94 L849.97,659.94 L850.63,659.95 L851.28,659.96 L851.94,659.97 L852.60,659.97 L853.25,659.98 L853.91,659.99 L854.56,659.99 L855.22,660.00 L855.88,660.01 L856.53,660.02 L857.19,660.02 L857.84,660.03 L858.50,660.04 L859.16,660.04 L859.81,660.05 L860.47,660.06 L861.12,660.06 L861.78,660.07 L862.44,660.07 L863.09,660.08 L863.75,660.09 L864.40,660.09 L865.06,660.10" fill="none" stroke="#1A6FDF" stroke-width="2.7" stroke-linejoin="round"/>
<path d="M497.70,658.78 L498.36,658.67 L499.01,658.56 L499.67,658.44 L500.32,658.32 L500.98,658.20 L501.64,658.06 L502.29,657.92 L502.95,657.78 L503.60,657.63 L504.26,657.47 L504.92,657.31 L505.57,657.13 L506.23,656.95 L506.88,656.77 L507.54,656.57 L508.20,656.37 L508.85,656.16 L509.51,655.94 L510.16,655.71 L510.82,655.48 L511.48,655.23 L512.13,654.98 L512.79,654.71 L513.44,654.44 L514.10,654.15 L514.76,653.86 L515.41,653.55 L516.07,653.24 L516.72,652.91 L517.38,652.57 L518.04,652.22 L518.69,651.86 L519.35,651.48 L520.00,651.10 L520.66,650.70 L521.32,650.29 L521.97,649.86 L522.63,649.43 L523.28,648.97 L523.94,648.51 L524.60,648.03 L525.25,647.54 L525.91,647.03 L526.56,646.51 L527.22,645.98 L527.88,645.43 L528.53,644.87 L529.19,644.29 L529.84,643.69 L530.50,643.09 L531.16,642.46 L531.81,641.82 L532.47,641.17 L533.12,640.50 L533.78,639.81 L534.44,639.11 L535.09,638.39 L535.75,637.66 L536.40,636.91 L537.06,636.15 L537.72,635.37 L538.37,634.58 L539.03,633.77 L539.68,632.94 L540.34,632.10 L541.00,631.24 L541.65,630.37 L542.31,629.49 L542.96,628.59 L543.62,627.67 L544.28,626.74 L544.93,625.79 L545.59,624.84 L546.24,623.86 L546.90,622.88 L547.56,621.88 L548.21,620.86 L548.87,619.84 L549.52,618.80 L550.18,617.75 L550.84,616.69 L551.49,615.61 L552.15,614.53 L552.80,613.43 L553.46,612.33 L554.12,611.21 L554.77,610.09 L555.43,608.95 L556.08,607.81 L556.74,606.66 L557.40,605.50 L558.05,604.34 L558.71,603.17 L559.36,601.99 L560.02,600.81 L560.68,599.62 L561.33,598.43 L561.99,597.23 L562.64,596.04 L563.30,594.83 L563.96,593.63 L564.61,592.43 L565.27,591.22 L565.92,590.02 L566.58,588.81 L567.24,587.61 L567.89,586.41 L568.55,585.21 L569.20,584.01 L569.86,582.82 L570.52,581.63 L571.17,580.45 L571.83,579.27 L572.48,578.10 L573.14,576.93 L573.80,575.77 L574.45,574.63 L575.11,573.48 L575.76,572.35 L576.42,571.23 L577.08,570.12 L577.73,569.02 L578.39,567.93 L579.04,566.86 L579.70,565.79 L580.36,564.74 L581.01,563.71 L581.67,562.69 L582.32,561.68 L582.98,560.69 L583.64,559.71 L584.29,558.75 L584.95,557.81 L585.60,556.89 L586.26,555.98 L586.92,555.09 L587.57,554.22 L588.23,553.37 L588.88,552.53 L589.54,551.72 L590.20,550.93 L590.85,550.15 L591.51,549.40 L592.16,548.67 L592.82,547.95 L593.48,547.26 L594.13,546.59 L594.79,545.94 L595.44,545.32 L596.10,544.71 L596.76,544.13 L597.41,543.56 L598.07,543.02 L598.72,542.50 L599.38,542.01 L600.04,541.53 L600.69,541.08 L601.35,540.65 L602.00,540.23 L602.66,539.85 L603.32,539.48 L603.97,539.13 L604.63,538.80 L605.28,538.50 L605.94,538.21 L606.60,537.95 L607.25,537.70 L607.91,537.48 L608.56,537.27 L609.22,537.08 L609.88,536.91 L610.53,536.76 L611.19,536.62 L611.84,536.50 L612.50,536.40 L613.16,536.31 L613.81,536.24 L614.47,536.18 L615.12,536.14 L615.78,536.10 L616.44,536.08 L617.09,536.07 L617.75,536.06 L618.40,536.20 L619.06,536.49 L619.72,536.77 L620.37,537.05 L621.03,537.33 L621.68,537.62 L622.34,537.90 L623.00,538.19 L623.65,538.48 L624.31,538.78 L624.96,539.07 L625.62,539.38 L626.28,539.69 L626.93,540.00 L627.59,540.32 L628.24,540.64 L628.90,540.98 L629.56,541.32 L630.21,541.66 L630.87,542.02 L631.52,542.38 L632.18,542.76 L632.84,543.14 L633.49,543.53 L634.15,543.93 L634.80,544.34 L635.46,544.76 L636.12,545.20 L636.77,545.64 L637.43,546.10 L638.08,546.56 L638.74,547.04 L639.40,547.54 L640.05,548.04 L640.71,548.56 L641.36,549.09 L642.02,549.63 L642.68,550.18 L643.33,550.75 L643.99,551.34 L644.64,551.93 L645.30,552.54 L645.96,553.17 L646.61,553.81 L647.27,554.46 L647.92,555.12 L648.58,555.80 L649.24,556.50 L649.89,557.21 L650.55,557.93 L651.20,558.66 L651.86,559.41 L652.52,560.18 L653.17,560.95 L653.83,561.75 L654.48,562.55 L655.14,563.37 L655.80,564.20 L656.45,565.04 L657.11,565.90 L657.76,566.77 L658.42,567.65 L659.08,568.54 L659.73,569.45 L660.39,570.36 L661.04,571.29 L661.70,572.23 L662.36,573.18 L663.01,574.14 L663.67,575.11 L664.32,576.08 L664.98,577.07 L665.64,578.07 L666.29,579.07 L666.95,580.08 L667.60,581.10 L668.26,582.12 L668.92,583.15 L669.57,584.19 L670.23,585.23 L670.88,586.28 L671.54,587.33 L672.20,588.38 L672.85,589.44 L673.51,590.50 L674.16,591.56 L674.82,592.63 L675.48,593.69 L676.13,594.76 L676.79,595.82 L677.44,596.89 L678.10,597.95 L678.76,599.01 L679.41,600.07 L680.07,601.13 L680.72,602.19 L681.38,603.24 L682.04,604.28 L682.69,605.32 L683.35,606.36 L684.00,607.39 L684.66,608.42 L685.32,609.43 L685.97,610.44 L686.63,611.45 L687.28,612.44 L687.94,613.43 L688.60,614.40 L689.25,615.37 L689.91,616.33 L690.56,617.28 L691.22,618.21 L691.88,619.14 L692.53,620.06 L693.19,620.96 L693.84,621.85 L694.50,622.73 L695.16,623.60 L695.81,624.45 L696.47,625.29 L697.12,626.12 L697.78,626.94 L698.44,627.74 L699.09,628.53 L699.75,629.30 L700.40,630.06 L701.06,630.81 L701.72,631.54 L702.37,632.26 L703.03,632.96 L703.68,633.65 L704.34,634.32 L705.00,634.98 L705.65,635.63 L706.31,636.26 L706.96,636.87 L707.62,637.48 L708.28,638.06 L708.93,638.64 L709.59,639.20 L710.24,639.74 L710.90,640.27 L711.56,640.79 L712.21,641.29 L712.87,641.78 L713.52,642.26 L714.18,642.72 L714.84,643.17 L715.49,643.61 L716.15,644.04 L716.80,644.45 L717.46,644.85 L718.12,645.24 L718.77,645.61 L719.43,645.98 L720.08,646.33 L720.74,646.67 L721.40,647.01 L722.05,647.33 L722.71,647.64 L723.36,647.94 L724.02,648.23 L724.68,648.51 L725.33,648.78 L725.99,649.04 L726.64,649.29 L727.30,649.54 L727.96,649.77 L728.61,650.00 L729.27,650.22 L729.92,650.43 L730.58,650.64 L731.24,650.84 L731.89,651.03 L732.55,651.21 L733.20,651.39 L733.86,651.56 L734.52,651.73 L735.17,651.89 L735.83,652.04 L736.48,652.19 L737.14,652.33 L737.80,652.47 L738.45,652.60 L739.11,652.73 L739.76,652.86 L740.42,652.98 L741.08,653.09 L741.73,653.21 L742.39,653.31 L743.04,653.42 L743.70,653.52 L744.36,653.62 L745.01,653.72 L745.67,653.81 L746.32,653.90 L746.98,653.98 L747.64,654.07 L748.29,654.15 L748.95,654.23 L749.60,654.31 L750.26,654.38 L750.92,654.45 L751.57,654.53 L752.23,654.59 L752.88,654.66 L753.54,654.73 L754.20,654.79 L754.85,654.86 L755.51,654.92 L756.16,654.98 L756.82,655.03 L757.48,655.09 L758.13,655.15 L758.79,655.20 L759.44,655.26 L760.10,655.31 L760.76,655.36 L761.41,655.41 L762.07,655.46 L762.72,655.51 L763.38,655.56 L764.04,655.61 L764.69,655.65 L765.35,655.70 L766.00,655.75 L766.66,655.79 L767.32,655.84 L767.97,655.88 L768.63,655.92 L769.28,655.96 L769.94,656.01 L770.60,656.05 L771.25,656.09 L771.91,656.13 L772.56,656.17 L773.22,656.21 L773.88,656.25 L774.53,656.28 L775.19,656.32 L775.84,656.36 L776.50,656.40 L777.16,656.43 L777.81,656.47 L778.47,656.51 L779.12,656.54 L779.78,656.58 L780.44,656.61 L781.09,656.65 L781.75,656.68 L782.40,656.72 L783.06,656.75 L783.72,656.78 L784.37,656.82 L785.03,656.85 L785.68,656.88 L786.34,656.92 L787.00,656.95 L787.65,656.98 L788.31,657.01 L788.96,657.04 L789.62,657.07 L790.28,657.10 L790.93,657.13 L791.59,657.16 L792.24,657.19 L792.90,657.22 L793.56,657.25 L794.21,657.28 L794.87,657.31 L795.52,657.34 L796.18,657.37 L796.84,657.39 L797.49,657.42 L798.15,657.45 L798.80,657.48 L799.46,657.50 L800.12,657.53 L800.77,657.56 L801.43,657.58 L802.08,657.61 L802.74,657.64 L803.40,657.66 L804.05,657.69 L804.71,657.71 L805.36,657.74 L806.02,657.76 L806.68,657.79 L807.33,657.81 L807.99,657.84 L808.64,657.86 L809.30,657.88 L809.96,657.91 L810.61,657.93 L811.27,657.95 L811.92,657.98 L812.58,658.00 L813.24,658.02 L813.89,658.04 L814.55,658.07 L815.20,658.09 L815.86,658.11 L816.52,658.13 L817.17,658.15 L817.83,658.18 L818.48,658.20 L819.14,658.22 L819.80,658.24 L820.45,658.26 L821.11,658.28 L821.76,658.30 L822.42,658.32 L823.08,658.34 L823.73,658.36 L824.39,658.38 L825.04,658.40 L825.70,658.42 L826.36,658.44 L827.01,658.46 L827.67,658.47 L828.32,658.49 L828.98,658.51 L829.64,658.53 L830.29,658.55 L830.95,658.57 L831.60,658.58 L832.26,658.60 L832.92,658.62 L833.57,658.64 L834.23,658.65 L834.88,658.67 L835.54,658.69 L836.20,658.70 L836.85,658.72 L837.51,658.74 L838.16,658.75 L838.82,658.77 L839.48,658.79 L840.13,658.80 L840.79,658.82 L841.44,658.83 L842.10,658.85 L842.76,658.86 L843.41,658.88 L844.07,658.89 L844.72,658.91 L845.38,658.92 L846.04,658.94 L846.69,658.95 L847.35,658.97 L848.00,658.98 L848.66,659.00 L849.32,659.01 L849.97,659.03 L850.63,659.04 L851.28,659.05 L851.94,659.07 L852.60,659.08 L853.25,659.09 L853.91,659.11 L854.56,659.12 L855.22,659.13 L855.88,659.15 L856.53,659.16 L857.19,659.17 L857.84,659.18 L858.50,659.20 L859.16,659.21 L859.81,659.22 L860.47,659.23 L861.12,659.25 L861.78,659.26 L862.44,659.27 L863.09,659.28 L863.75,659.29 L864.40,659.31 L865.06,659.32" fill="none" stroke="#37AD6B" stroke-width="2.7" stroke-linejoin="round"/>
<path d="M497.70,659.88 L498.36,659.85 L499.01,659.80 L499.67,659.76 L500.32,659.72 L500.98,659.67 L501.64,659.62 L502.29,659.56 L502.95,659.51 L503.60,659.45 L504.26,659.38 L504.92,659.32 L505.57,659.25 L506.23,659.18 L506.88,659.10 L507.54,659.02 L508.20,658.94 L508.85,658.85 L509.51,658.75 L510.16,658.66 L510.82,658.56 L511.48,658.45 L512.13,658.34 L512.79,658.22 L513.44,658.10 L514.10,657.98 L514.76,657.84 L515.41,657.71 L516.07,657.56 L516.72,657.41 L517.38,657.26 L518.04,657.09 L518.69,656.92 L519.35,656.75 L520.00,656.57 L520.66,656.37 L521.32,656.18 L521.97,655.97 L522.63,655.76 L523.28,655.54 L523.94,655.31 L524.60,655.07 L525.25,654.82 L525.91,654.57 L526.56,654.30 L527.22,654.03 L527.88,653.75 L528.53,653.45 L529.19,653.15 L529.84,652.84 L530.50,652.52 L531.16,652.19 L531.81,651.84 L532.47,651.49 L533.12,651.13 L533.78,650.75 L534.44,650.36 L535.09,649.97 L535.75,649.56 L536.40,649.14 L537.06,648.71 L537.72,648.26 L538.37,647.81 L539.03,647.34 L539.68,646.86 L540.34,646.37 L541.00,645.87 L541.65,645.35 L542.31,644.82 L542.96,644.28 L543.62,643.73 L544.28,643.16 L544.93,642.58 L545.59,641.99 L546.24,641.39 L546.90,640.77 L547.56,640.15 L548.21,639.51 L548.87,638.85 L549.52,638.19 L550.18,637.51 L550.84,636.82 L551.49,636.12 L552.15,635.40 L552.80,634.68 L553.46,633.94 L554.12,633.19 L554.77,632.43 L555.43,631.66 L556.08,630.88 L556.74,630.08 L557.40,629.28 L558.05,628.46 L558.71,627.64 L559.36,626.80 L560.02,625.96 L560.68,625.10 L561.33,624.24 L561.99,623.36 L562.64,622.48 L563.30,621.59 L563.96,620.70 L564.61,619.79 L565.27,618.88 L565.92,617.96 L566.58,617.03 L567.24,616.10 L567.89,615.16 L568.55,614.22 L569.20,613.27 L569.86,612.31 L570.52,611.35 L571.17,610.39 L571.83,609.43 L572.48,608.46 L573.14,607.49 L573.80,606.52 L574.45,605.54 L575.11,604.57 L575.76,603.59 L576.42,602.61 L577.08,601.64 L577.73,600.66 L578.39,599.69 L579.04,598.71 L579.70,597.74 L580.36,596.78 L581.01,595.81 L581.67,594.85 L582.32,593.89 L582.98,592.94 L583.64,591.99 L584.29,591.04 L584.95,590.11 L585.60,589.18 L586.26,588.25 L586.92,587.33 L587.57,586.42 L588.23,585.52 L588.88,584.63 L589.54,583.74 L590.20,582.86 L590.85,582.00 L591.51,581.14 L592.16,580.29 L592.82,579.46 L593.48,578.63 L594.13,577.82 L594.79,577.02 L595.44,576.23 L596.10,575.45 L596.76,574.68 L597.41,573.93 L598.07,573.19 L598.72,572.46 L599.38,571.75 L600.04,571.05 L600.69,570.37 L601.35,569.70 L602.00,569.04 L602.66,568.40 L603.32,567.77 L603.97,567.16 L604.63,566.57 L605.28,565.98 L605.94,565.42 L606.60,564.87 L607.25,564.33 L607.91,563.81 L608.56,563.31 L609.22,562.82 L609.88,562.35 L610.53,561.89 L611.19,561.45 L611.84,561.02 L612.50,560.61 L613.16,560.22 L613.81,559.84 L614.47,559.47 L615.12,559.12 L615.78,558.79 L616.44,558.47 L617.09,558.17 L617.75,557.88 L618.40,557.60 L619.06,557.34 L619.72,557.10 L620.37,556.86 L621.03,556.64 L621.68,556.44 L622.34,556.25 L623.00,556.07 L623.65,555.90 L624.31,555.75 L624.96,555.60 L625.62,555.47 L626.28,555.35 L626.93,555.25 L627.59,555.15 L628.24,555.06 L628.90,554.98 L629.56,554.92 L630.21,554.86 L630.87,554.81 L631.52,554.76 L632.18,554.73 L632.84,554.70 L633.49,554.68 L634.15,554.67 L634.80,554.65 L635.46,554.65 L636.12,554.65 L636.77,554.65 L637.43,554.72 L638.08,554.80 L638.74,554.87 L639.40,554.95 L640.05,555.03 L640.71,555.11 L641.36,555.20 L642.02,555.29 L642.68,555.38 L643.33,555.48 L643.99,555.58 L644.64,555.69 L645.30,555.80 L645.96,555.92 L646.61,556.04 L647.27,556.17 L647.92,556.30 L648.58,556.45 L649.24,556.60 L649.89,556.75 L650.55,556.92 L651.20,557.09 L651.86,557.27 L652.52,557.45 L653.17,557.65 L653.83,557.85 L654.48,558.07 L655.14,558.29 L655.80,558.52 L656.45,558.76 L657.11,559.01 L657.76,559.27 L658.42,559.54 L659.08,559.82 L659.73,560.11 L660.39,560.41 L661.04,560.73 L661.70,561.05 L662.36,561.38 L663.01,561.73 L663.67,562.08 L664.32,562.45 L664.98,562.83 L665.64,563.22 L666.29,563.62 L666.95,564.03 L667.60,564.45 L668.26,564.89 L668.92,565.34 L669.57,565.79 L670.23,566.26 L670.88,566.75 L671.54,567.24 L672.20,567.74 L672.85,568.26 L673.51,568.79 L674.16,569.33 L674.82,569.88 L675.48,570.44 L676.13,571.02 L676.79,571.60 L677.44,572.20 L678.10,572.80 L678.76,573.42 L679.41,574.05 L680.07,574.69 L680.72,575.34 L681.38,576.00 L682.04,576.67 L682.69,577.35 L683.35,578.04 L684.00,578.74 L684.66,579.45 L685.32,580.16 L685.97,580.89 L686.63,581.63 L687.28,582.37 L687.94,583.12 L688.60,583.88 L689.25,584.65 L689.91,585.43 L690.56,586.21 L691.22,587.00 L691.88,587.80 L692.53,588.60 L693.19,589.41 L693.84,590.22 L694.50,591.04 L695.16,591.86 L695.81,592.69 L696.47,593.53 L697.12,594.37 L697.78,595.21 L698.44,596.05 L699.09,596.90 L699.75,597.75 L700.40,598.60 L701.06,599.46 L701.72,600.32 L702.37,601.17 L703.03,602.03 L703.68,602.89 L704.34,603.75 L705.00,604.61 L705.65,605.47 L706.31,606.33 L706.96,607.19 L707.62,608.05 L708.28,608.90 L708.93,609.75 L709.59,610.60 L710.24,611.45 L710.90,612.29 L711.56,613.13 L712.21,613.97 L712.87,614.80 L713.52,615.63 L714.18,616.45 L714.84,617.27 L715.49,618.08 L716.15,618.89 L716.80,619.69 L717.46,620.49 L718.12,621.28 L718.77,622.06 L719.43,622.83 L720.08,623.60 L720.74,624.36 L721.40,625.12 L722.05,625.86 L722.71,626.60 L723.36,627.33 L724.02,628.05 L724.68,628.76 L725.33,629.46 L725.99,630.15 L726.64,630.84 L727.30,631.51 L727.96,632.18 L728.61,632.84 L729.27,633.48 L729.92,634.12 L730.58,634.75 L731.24,635.36 L731.89,635.97 L732.55,636.57 L733.20,637.15 L733.86,637.73 L734.52,638.29 L735.17,638.85 L735.83,639.40 L736.48,639.93 L737.14,640.45 L737.80,640.97 L738.45,641.47 L739.11,641.97 L739.76,642.45 L740.42,642.92 L741.08,643.38 L741.73,643.84 L742.39,644.28 L743.04,644.71 L743.70,645.13 L744.36,645.54 L745.01,645.94 L745.67,646.34 L746.32,646.72 L746.98,647.09 L747.64,647.46 L748.29,647.81 L748.95,648.15 L749.60,648.49 L750.26,648.82 L750.92,649.13 L751.57,649.44 L752.23,649.74 L752.88,650.03 L753.54,650.32 L754.20,650.59 L754.85,650.86 L755.51,651.12 L756.16,651.37 L756.82,651.61 L757.48,651.85 L758.13,652.08 L758.79,652.30 L759.44,652.51 L760.10,652.72 L760.76,652.92 L761.41,653.12 L762.07,653.31 L762.72,653.49 L763.38,653.66 L764.04,653.83 L764.69,654.00 L765.35,654.15 L766.00,654.31 L766.66,654.46 L767.32,654.60 L767.97,654.74 L768.63,654.87 L769.28,655.00 L769.94,655.12 L770.60,655.24 L771.25,655.35 L771.91,655.46 L772.56,655.57 L773.22,655.67 L773.88,655.77 L774.53,655.86 L775.19,655.96 L775.84,656.04 L776.50,656.13 L777.16,656.21 L777.81,656.29 L778.47,656.36 L779.12,656.44 L779.78,656.51 L780.44,656.57 L781.09,656.64 L781.75,656.70 L782.40,656.76 L783.06,656.82 L783.72,656.88 L784.37,656.93 L785.03,656.98 L785.68,657.03 L786.34,657.08 L787.00,657.13 L787.65,657.17 L788.31,657.21 L788.96,657.26 L789.62,657.30 L790.28,657.34 L790.93,657.37 L791.59,657.41 L792.24,657.44 L792.90,657.48 L793.56,657.51 L794.21,657.54 L794.87,657.57 L795.52,657.60 L796.18,657.63 L796.84,657.66 L797.49,657.69 L798.15,657.71 L798.80,657.74 L799.46,657.77 L800.12,657.79 L800.77,657.81 L801.43,657.84 L802.08,657.86 L802.74,657.88 L803.40,657.90 L804.05,657.92 L804.71,657.95 L805.36,657.97 L806.02,657.99 L806.68,658.00 L807.33,658.02 L807.99,658.04 L808.64,658.06 L809.30,658.08 L809.96,658.10 L810.61,658.11 L811.27,658.13 L811.92,658.15 L812.58,658.16 L813.24,658.18 L813.89,658.20 L814.55,658.21 L815.20,658.23 L815.86,658.24 L816.52,658.26 L817.17,658.27 L817.83,658.29 L818.48,658.30 L819.14,658.32 L819.80,658.33 L820.45,658.34 L821.11,658.36 L821.76,658.37 L822.42,658.39 L823.08,658.40 L823.73,658.41 L824.39,658.43 L825.04,658.44 L825.70,658.45 L826.36,658.47 L827.01,658.48 L827.67,658.49 L828.32,658.50 L828.98,658.52 L829.64,658.53 L830.29,658.54 L830.95,658.55 L831.60,658.57 L832.26,658.58 L832.92,658.59 L833.57,658.60 L834.23,658.61 L834.88,658.62 L835.54,658.64 L836.20,658.65 L836.85,658.66 L837.51,658.67 L838.16,658.68 L838.82,658.69 L839.48,658.70 L840.13,658.72 L840.79,658.73 L841.44,658.74 L842.10,658.75 L842.76,658.76 L843.41,658.77 L844.07,658.78 L844.72,658.79 L845.38,658.80 L846.04,658.81 L846.69,658.82 L847.35,658.83 L848.00,658.84 L848.66,658.85 L849.32,658.86 L849.97,658.87 L850.63,658.88 L851.28,658.89 L851.94,658.90 L852.60,658.91 L853.25,658.92 L853.91,658.93 L854.56,658.94 L855.22,658.95 L855.88,658.96 L856.53,658.97 L857.19,658.98 L857.84,658.99 L858.50,659.00 L859.16,659.01 L859.81,659.02 L860.47,659.03 L861.12,659.03 L861.78,659.04 L862.44,659.05 L863.09,659.06 L863.75,659.07 L864.40,659.08 L865.06,659.09" fill="none" stroke="#B177DE" stroke-width="2.7" stroke-linejoin="round"/>
<path d="M497.70,659.97 L498.36,659.95 L499.01,659.94 L499.67,659.92 L500.32,659.91 L500.98,659.89 L501.64,659.87 L502.29,659.85 L502.95,659.83 L503.60,659.81 L504.26,659.79 L504.92,659.76 L505.57,659.73 L506.23,659.70 L506.88,659.67 L507.54,659.64 L508.20,659.61 L508.85,659.57 L509.51,659.53 L510.16,659.49 L510.82,659.44 L511.48,659.40 L512.13,659.35 L512.79,659.29 L513.44,659.24 L514.10,659.18 L514.76,659.12 L515.41,659.05 L516.07,658.98 L516.72,658.91 L517.38,658.84 L518.04,658.76 L518.69,658.67 L519.35,658.58 L520.00,658.49 L520.66,658.39 L521.32,658.29 L521.97,658.18 L522.63,658.07 L523.28,657.95 L523.94,657.82 L524.60,657.70 L525.25,657.56 L525.91,657.42 L526.56,657.27 L527.22,657.12 L527.88,656.95 L528.53,656.79 L529.19,656.61 L529.84,656.43 L530.50,656.24 L531.16,656.04 L531.81,655.84 L532.47,655.63 L533.12,655.40 L533.78,655.18 L534.44,654.94 L535.09,654.69 L535.75,654.44 L536.40,654.17 L537.06,653.90 L537.72,653.62 L538.37,653.32 L539.03,653.02 L539.68,652.71 L540.34,652.39 L541.00,652.06 L541.65,651.72 L542.31,651.36 L542.96,651.00 L543.62,650.63 L544.28,650.24 L544.93,649.85 L545.59,649.44 L546.24,649.03 L546.90,648.60 L547.56,648.16 L548.21,647.71 L548.87,647.25 L549.52,646.78 L550.18,646.30 L550.84,645.81 L551.49,645.30 L552.15,644.79 L552.80,644.26 L553.46,643.72 L554.12,643.18 L554.77,642.62 L555.43,642.05 L556.08,641.46 L556.74,640.87 L557.40,640.27 L558.05,639.66 L558.71,639.04 L559.36,638.40 L560.02,637.76 L560.68,637.11 L561.33,636.44 L561.99,635.77 L562.64,635.09 L563.30,634.40 L563.96,633.70 L564.61,632.99 L565.27,632.28 L565.92,631.55 L566.58,630.82 L567.24,630.08 L567.89,629.34 L568.55,628.58 L569.20,627.82 L569.86,627.06 L570.52,626.29 L571.17,625.51 L571.83,624.72 L572.48,623.94 L573.14,623.14 L573.80,622.35 L574.45,621.54 L575.11,620.74 L575.76,619.93 L576.42,619.12 L577.08,618.31 L577.73,617.49 L578.39,616.68 L579.04,615.86 L579.70,615.04 L580.36,614.22 L581.01,613.40 L581.67,612.58 L582.32,611.76 L582.98,610.94 L583.64,610.13 L584.29,609.31 L584.95,608.50 L585.60,607.69 L586.26,606.88 L586.92,606.08 L587.57,605.28 L588.23,604.48 L588.88,603.69 L589.54,602.90 L590.20,602.12 L590.85,601.35 L591.51,600.58 L592.16,599.81 L592.82,599.05 L593.48,598.30 L594.13,597.56 L594.79,596.82 L595.44,596.09 L596.10,595.37 L596.76,594.66 L597.41,593.96 L598.07,593.26 L598.72,592.58 L599.38,591.90 L600.04,591.23 L600.69,590.57 L601.35,589.93 L602.00,589.29 L602.66,588.66 L603.32,588.04 L603.97,587.44 L604.63,586.84 L605.28,586.26 L605.94,585.68 L606.60,585.12 L607.25,584.57 L607.91,584.03 L608.56,583.50 L609.22,582.98 L609.88,582.48 L610.53,581.98 L611.19,581.50 L611.84,581.03 L612.50,580.57 L613.16,580.13 L613.81,579.69 L614.47,579.27 L615.12,578.86 L615.78,578.46 L616.44,578.07 L617.09,577.69 L617.75,577.33 L618.40,576.97 L619.06,576.63 L619.72,576.30 L620.37,575.98 L621.03,575.67 L621.68,575.38 L622.34,575.09 L623.00,574.82 L623.65,574.55 L624.31,574.30 L624.96,574.05 L625.62,573.82 L626.28,573.60 L626.93,573.38 L627.59,573.18 L628.24,572.98 L628.90,572.80 L629.56,572.62 L630.21,572.46 L630.87,572.30 L631.52,572.15 L632.18,572.01 L632.84,571.88 L633.49,571.75 L634.15,571.63 L634.80,571.52 L635.46,571.42 L636.12,571.33 L636.77,571.24 L637.43,571.16 L638.08,571.08 L638.74,571.01 L639.40,570.95 L640.05,570.89 L640.71,570.84 L641.36,570.79 L642.02,570.75 L642.68,570.71 L643.33,570.68 L643.99,570.65 L644.64,570.62 L645.30,570.60 L645.96,570.58 L646.61,570.57 L647.27,570.55 L647.92,570.54 L648.58,570.54 L649.24,570.53 L649.89,570.53 L650.55,570.52 L651.20,570.52 L651.86,570.52 L652.52,570.52 L653.17,570.52 L653.83,570.60 L654.48,570.67 L655.14,570.75 L655.80,570.83 L656.45,570.91 L657.11,570.99 L657.76,571.08 L658.42,571.17 L659.08,571.25 L659.73,571.35 L660.39,571.44 L661.04,571.54 L661.70,571.64 L662.36,571.75 L663.01,571.86 L663.67,571.98 L664.32,572.09 L664.98,572.22 L665.64,572.35 L666.29,572.48 L666.95,572.62 L667.60,572.76 L668.26,572.91 L668.92,573.07 L669.57,573.23 L670.23,573.40 L670.88,573.57 L671.54,573.75 L672.20,573.94 L672.85,574.13 L673.51,574.33 L674.16,574.54 L674.82,574.75 L675.48,574.97 L676.13,575.20 L676.79,575.44 L677.44,575.68 L678.10,575.93 L678.76,576.19 L679.41,576.46 L680.07,576.73 L680.72,577.01 L681.38,577.30 L682.04,577.60 L682.69,577.91 L683.35,578.22 L684.00,578.54 L684.66,578.87 L685.32,579.21 L685.97,579.56 L686.63,579.92 L687.28,580.28 L687.94,580.65 L688.60,581.03 L689.25,581.42 L689.91,581.82 L690.56,582.22 L691.22,582.64 L691.88,583.06 L692.53,583.49 L693.19,583.93 L693.84,584.38 L694.50,584.83 L695.16,585.29 L695.81,585.76 L696.47,586.24 L697.12,586.73 L697.78,587.22 L698.44,587.72 L699.09,588.23 L699.75,588.75 L700.40,589.27 L701.06,589.80 L701.72,590.34 L702.37,590.89 L703.03,591.44 L703.68,592.00 L704.34,592.56 L705.00,593.13 L705.65,593.71 L706.31,594.29 L706.96,594.88 L707.62,595.48 L708.28,596.08 L708.93,596.68 L709.59,597.29 L710.24,597.91 L710.90,598.53 L711.56,599.15 L712.21,599.78 L712.87,600.42 L713.52,601.05 L714.18,601.69 L714.84,602.34 L715.49,602.99 L716.15,603.64 L716.80,604.29 L717.46,604.95 L718.12,605.61 L718.77,606.27 L719.43,606.93 L720.08,607.59 L720.74,608.26 L721.40,608.92 L722.05,609.59 L722.71,610.26 L723.36,610.93 L724.02,611.60 L724.68,612.27 L725.33,612.94 L725.99,613.60 L726.64,614.27 L727.30,614.94 L727.96,615.60 L728.61,616.27 L729.27,616.93 L729.92,617.59 L730.58,618.25 L731.24,618.90 L731.89,619.56 L732.55,620.21 L733.20,620.86 L733.86,621.50 L734.52,622.14 L735.17,622.78 L735.83,623.41 L736.48,624.04 L737.14,624.67 L737.80,625.29 L738.45,625.90 L739.11,626.52 L739.76,627.12 L740.42,627.73 L741.08,628.32 L741.73,628.91 L742.39,629.50 L743.04,630.08 L743.70,630.65 L744.36,631.22 L745.01,631.78 L745.67,632.34 L746.32,632.89 L746.98,633.43 L747.64,633.97 L748.29,634.50 L748.95,635.02 L749.60,635.54 L750.26,636.05 L750.92,636.55 L751.57,637.04 L752.23,637.53 L752.88,638.01 L753.54,638.48 L754.20,638.95 L754.85,639.41 L755.51,639.86 L756.16,640.30 L756.82,640.74 L757.48,641.17 L758.13,641.59 L758.79,642.00 L759.44,642.41 L760.10,642.81 L760.76,643.20 L761.41,643.58 L762.07,643.96 L762.72,644.33 L763.38,644.69 L764.04,645.05 L764.69,645.39 L765.35,645.73 L766.00,646.06 L766.66,646.39 L767.32,646.71 L767.97,647.02 L768.63,647.32 L769.28,647.62 L769.94,647.91 L770.60,648.19 L771.25,648.47 L771.91,648.74 L772.56,649.00 L773.22,649.26 L773.88,649.51 L774.53,649.75 L775.19,649.99 L775.84,650.22 L776.50,650.44 L777.16,650.66 L777.81,650.88 L778.47,651.09 L779.12,651.29 L779.78,651.48 L780.44,651.67 L781.09,651.86 L781.75,652.04 L782.40,652.22 L783.06,652.39 L783.72,652.55 L784.37,652.71 L785.03,652.87 L785.68,653.02 L786.34,653.16 L787.00,653.31 L787.65,653.44 L788.31,653.58 L788.96,653.71 L789.62,653.83 L790.28,653.95 L790.93,654.07 L791.59,654.19 L792.24,654.30 L792.90,654.40 L793.56,654.51 L794.21,654.61 L794.87,654.70 L795.52,654.80 L796.18,654.89 L796.84,654.98 L797.49,655.06 L798.15,655.14 L798.80,655.22 L799.46,655.30 L800.12,655.38 L800.77,655.45 L801.43,655.52 L802.08,655.58 L802.74,655.65 L803.40,655.71 L804.05,655.77 L804.71,655.83 L805.36,655.89 L806.02,655.95 L806.68,656.00 L807.33,656.05 L807.99,656.10 L808.64,656.15 L809.30,656.20 L809.96,656.24 L810.61,656.29 L811.27,656.33 L811.92,656.37 L812.58,656.41 L813.24,656.45 L813.89,656.49 L814.55,656.53 L815.20,656.56 L815.86,656.60 L816.52,656.63 L817.17,656.67 L817.83,656.70 L818.48,656.73 L819.14,656.76 L819.80,656.79 L820.45,656.82 L821.11,656.85 L821.76,656.87 L822.42,656.90 L823.08,656.93 L823.73,656.95 L824.39,656.98 L825.04,657.00 L825.70,657.03 L826.36,657.05 L827.01,657.07 L827.67,657.10 L828.32,657.12 L828.98,657.14 L829.64,657.16 L830.29,657.18 L830.95,657.20 L831.60,657.22 L832.26,657.24 L832.92,657.26 L833.57,657.28 L834.23,657.30 L834.88,657.32 L835.54,657.34 L836.20,657.36 L836.85,657.37 L837.51,657.39 L838.16,657.41 L838.82,657.43 L839.48,657.44 L840.13,657.46 L840.79,657.48 L841.44,657.49 L842.10,657.51 L842.76,657.52 L843.41,657.54 L844.07,657.56 L844.72,657.57 L845.38,657.59 L846.04,657.60 L846.69,657.62 L847.35,657.63 L848.00,657.65 L848.66,657.66 L849.32,657.68 L849.97,657.69 L850.63,657.70 L851.28,657.72 L851.94,657.73 L852.60,657.75 L853.25,657.76 L853.91,657.77 L854.56,657.79 L855.22,657.80 L855.88,657.82 L856.53,657.83 L857.19,657.84 L857.84,657.86 L858.50,657.87 L859.16,657.88 L859.81,657.89 L860.47,657.91 L861.12,657.92 L861.78,657.93 L862.44,657.95 L863.09,657.96 L863.75,657.97 L864.40,657.98 L865.06,657.99" fill="none" stroke="#CC9900" stroke-width="2.7" stroke-linejoin="round"/>
<path d="M497.70,659.82 L498.36,659.81 L499.01,659.80 L499.67,659.79 L500.32,659.78 L500.98,659.77 L501.64,659.76 L502.29,659.74 L502.95,659.73 L503.60,659.72 L504.26,659.70 L504.92,659.69 L505.57,659.67 L506.23,659.65 L506.88,659.64 L507.54,659.62 L508.20,659.60 L508.85,659.58 L509.51,659.56 L510.16,659.53 L510.82,659.51 L511.48,659.48 L512.13,659.46 L512.79,659.43 L513.44,659.40 L514.10,659.37 L514.76,659.33 L515.41,659.30 L516.07,659.27 L516.72,659.23 L517.38,659.19 L518.04,659.15 L518.69,659.10 L519.35,659.06 L520.00,659.01 L520.66,658.96 L521.32,658.91 L521.97,658.86 L522.63,658.80 L523.28,658.75 L523.94,658.69 L524.60,658.62 L525.25,658.56 L525.91,658.49 L526.56,658.42 L527.22,658.34 L527.88,658.26 L528.53,658.18 L529.19,658.10 L529.84,658.01 L530.50,657.92 L531.16,657.83 L531.81,657.73 L532.47,657.63 L533.12,657.52 L533.78,657.41 L534.44,657.30 L535.09,657.18 L535.75,657.06 L536.40,656.94 L537.06,656.81 L537.72,656.67 L538.37,656.53 L539.03,656.39 L539.68,656.24 L540.34,656.09 L541.00,655.93 L541.65,655.76 L542.31,655.59 L542.96,655.42 L543.62,655.24 L544.28,655.05 L544.93,654.86 L545.59,654.67 L546.24,654.46 L546.90,654.25 L547.56,654.04 L548.21,653.82 L548.87,653.59 L549.52,653.36 L550.18,653.12 L550.84,652.87 L551.49,652.62 L552.15,652.36 L552.80,652.09 L553.46,651.82 L554.12,651.54 L554.77,651.25 L555.43,650.96 L556.08,650.66 L556.74,650.35 L557.40,650.03 L558.05,649.71 L558.71,649.38 L559.36,649.04 L560.02,648.70 L560.68,648.35 L561.33,647.99 L561.99,647.62 L562.64,647.25 L563.30,646.86 L563.96,646.47 L564.61,646.08 L565.27,645.67 L565.92,645.26 L566.58,644.84 L567.24,644.41 L567.89,643.98 L568.55,643.53 L569.20,643.08 L569.86,642.63 L570.52,642.16 L571.17,641.69 L571.83,641.21 L572.48,640.73 L573.14,640.23 L573.80,639.73 L574.45,639.22 L575.11,638.71 L575.76,638.19 L576.42,637.66 L577.08,637.13 L577.73,636.58 L578.39,636.04 L579.04,635.48 L579.70,634.92 L580.36,634.36 L581.01,633.79 L581.67,633.21 L582.32,632.62 L582.98,632.04 L583.64,631.44 L584.29,630.84 L584.95,630.24 L585.60,629.63 L586.26,629.02 L586.92,628.40 L587.57,627.78 L588.23,627.15 L588.88,626.52 L589.54,625.89 L590.20,625.25 L590.85,624.61 L591.51,623.97 L592.16,623.32 L592.82,622.67 L593.48,622.02 L594.13,621.37 L594.79,620.71 L595.44,620.06 L596.10,619.40 L596.76,618.74 L597.41,618.08 L598.07,617.42 L598.72,616.76 L599.38,616.09 L600.04,615.43 L600.69,614.77 L601.35,614.11 L602.00,613.45 L602.66,612.79 L603.32,612.13 L603.97,611.48 L604.63,610.82 L605.28,610.17 L605.94,609.52 L606.60,608.87 L607.25,608.23 L607.91,607.58 L608.56,606.94 L609.22,606.31 L609.88,605.68 L610.53,605.05 L611.19,604.42 L611.84,603.80 L612.50,603.19 L613.16,602.58 L613.81,601.97 L614.47,601.37 L615.12,600.78 L615.78,600.19 L616.44,599.60 L617.09,599.02 L617.75,598.45 L618.40,597.89 L619.06,597.33 L619.72,596.78 L620.37,596.23 L621.03,595.69 L621.68,595.16 L622.34,594.64 L623.00,594.13 L623.65,593.62 L624.31,593.12 L624.96,592.62 L625.62,592.14 L626.28,591.66 L626.93,591.20 L627.59,590.74 L628.24,590.29 L628.90,589.84 L629.56,589.41 L630.21,588.99 L630.87,588.57 L631.52,588.16 L632.18,587.76 L632.84,587.38 L633.49,586.99 L634.15,586.62 L634.80,586.26 L635.46,585.91 L636.12,585.57 L636.77,585.23 L637.43,584.91 L638.08,584.59 L638.74,584.28 L639.40,583.99 L640.05,583.70 L640.71,583.42 L641.36,583.15 L642.02,582.89 L642.68,582.64 L643.33,582.39 L643.99,582.16 L644.64,581.93 L645.30,581.72 L645.96,581.51 L646.61,581.31 L647.27,581.12 L647.92,580.94 L648.58,580.76 L649.24,580.60 L649.89,580.44 L650.55,580.29 L651.20,580.15 L651.86,580.01 L652.52,579.89 L653.17,579.77 L653.83,579.66 L654.48,579.55 L655.14,579.45 L655.80,579.36 L656.45,579.28 L657.11,579.20 L657.76,579.13 L658.42,579.06 L659.08,579.00 L659.73,578.95 L660.39,578.90 L661.04,578.86 L661.70,578.82 L662.36,578.79 L663.01,578.76 L663.67,578.73 L664.32,578.71 L664.98,578.70 L665.64,578.68 L666.29,578.67 L666.95,578.67 L667.60,578.66 L668.26,578.66 L668.92,578.66 L669.57,578.66 L670.23,578.66 L670.88,578.67 L671.54,578.69 L672.20,578.71 L672.85,578.75 L673.51,578.79 L674.16,578.84 L674.82,578.89 L675.48,578.95 L676.13,579.02 L676.79,579.10 L677.44,579.19 L678.10,579.28 L678.76,579.38 L679.41,579.49 L680.07,579.61 L680.72,579.73 L681.38,579.86 L682.04,580.00 L682.69,580.15 L683.35,580.30 L684.00,580.46 L684.66,580.63 L685.32,580.81 L685.97,580.99 L686.63,581.18 L687.28,581.38 L687.94,581.58 L688.60,581.80 L689.25,582.01 L689.91,582.24 L690.56,582.47 L691.22,582.71 L691.88,582.96 L692.53,583.21 L693.19,583.47 L693.84,583.74 L694.50,584.01 L695.16,584.29 L695.81,584.58 L696.47,584.87 L697.12,585.17 L697.78,585.47 L698.44,585.78 L699.09,586.10 L699.75,586.42 L700.40,586.75 L701.06,587.09 L701.72,587.43 L702.37,587.77 L703.03,588.12 L703.68,588.48 L704.34,588.84 L705.00,589.21 L705.65,589.58 L706.31,589.96 L706.96,590.34 L707.62,590.73 L708.28,591.12 L708.93,591.52 L709.59,591.92 L710.24,592.32 L710.90,592.73 L711.56,593.15 L712.21,593.57 L712.87,593.99 L713.52,594.41 L714.18,594.84 L714.84,595.28 L715.49,595.71 L716.15,596.15 L716.80,596.60 L717.46,597.04 L718.12,597.49 L718.77,597.95 L719.43,598.40 L720.08,598.86 L720.74,599.32 L721.40,599.79 L722.05,600.25 L722.71,600.72 L723.36,601.19 L724.02,601.67 L724.68,602.14 L725.33,602.62 L725.99,603.10 L726.64,603.58 L727.30,604.06 L727.96,604.54 L728.61,605.03 L729.27,605.52 L729.92,606.00 L730.58,606.49 L731.24,606.98 L731.89,607.47 L732.55,607.96 L733.20,608.45 L733.86,608.95 L734.52,609.44 L735.17,609.93 L735.83,610.42 L736.48,610.92 L737.14,611.41 L737.80,611.90 L738.45,612.40 L739.11,612.89 L739.76,613.38 L740.42,613.87 L741.08,614.37 L741.73,614.86 L742.39,615.35 L743.04,615.83 L743.70,616.32 L744.36,616.81 L745.01,617.30 L745.67,617.78 L746.32,618.26 L746.98,618.75 L747.64,619.23 L748.29,619.71 L748.95,620.19 L749.60,620.66 L750.26,621.14 L750.92,621.61 L751.57,622.08 L752.23,622.55 L752.88,623.01 L753.54,623.48 L754.20,623.94 L754.85,624.40 L755.51,624.86 L756.16,625.31 L756.82,625.77 L757.48,626.22 L758.13,626.67 L758.79,627.11 L759.44,627.56 L760.10,628.00 L760.76,628.43 L761.41,628.87 L762.07,629.30 L762.72,629.73 L763.38,630.15 L764.04,630.58 L764.69,631.00 L765.35,631.41 L766.00,631.83 L766.66,632.24 L767.32,632.65 L767.97,633.05 L768.63,633.45 L769.28,633.85 L769.94,634.24 L770.60,634.63 L771.25,635.02 L771.91,635.40 L772.56,635.79 L773.22,636.16 L773.88,636.54 L774.53,636.91 L775.19,637.27 L775.84,637.64 L776.50,638.00 L777.16,638.35 L777.81,638.70 L778.47,639.05 L779.12,639.40 L779.78,639.74 L780.44,640.08 L781.09,640.41 L781.75,640.74 L782.40,641.07 L783.06,641.39 L783.72,641.71 L784.37,642.03 L785.03,642.34 L785.68,642.65 L786.34,642.96 L787.00,643.26 L787.65,643.56 L788.31,643.85 L788.96,644.14 L789.62,644.43 L790.28,644.71 L790.93,644.99 L791.59,645.27 L792.24,645.54 L792.90,645.81 L793.56,646.07 L794.21,646.33 L794.87,646.59 L795.52,646.85 L796.18,647.10 L796.84,647.34 L797.49,647.59 L798.15,647.83 L798.80,648.07 L799.46,648.30 L800.12,648.53 L800.77,648.76 L801.43,648.98 L802.08,649.20 L802.74,649.42 L803.40,649.63 L804.05,649.84 L804.71,650.05 L805.36,650.25 L806.02,650.45 L806.68,650.65 L807.33,650.84 L807.99,651.04 L808.64,651.22 L809.30,651.41 L809.96,651.59 L810.61,651.77 L811.27,651.94 L811.92,652.12 L812.58,652.29 L813.24,652.45 L813.89,652.62 L814.55,652.78 L815.20,652.94 L815.86,653.09 L816.52,653.25 L817.17,653.40 L817.83,653.54 L818.48,653.69 L819.14,653.83 L819.80,653.97 L820.45,654.11 L821.11,654.24 L821.76,654.37 L822.42,654.50 L823.08,654.63 L823.73,654.76 L824.39,654.88 L825.04,655.00 L825.70,655.11 L826.36,655.23 L827.01,655.34 L827.67,655.45 L828.32,655.56 L828.98,655.67 L829.64,655.77 L830.29,655.87 L830.95,655.97 L831.60,656.07 L832.26,656.17 L832.92,656.26 L833.57,656.35 L834.23,656.44 L834.88,656.53 L835.54,656.62 L836.20,656.70 L836.85,656.79 L837.51,656.87 L838.16,656.95 L838.82,657.02 L839.48,657.10 L840.13,657.17 L840.79,657.24 L841.44,657.32 L842.10,657.38 L842.76,657.45 L843.41,657.52 L844.07,657.58 L844.72,657.65 L845.38,657.71 L846.04,657.77 L846.69,657.83 L847.35,657.88 L848.00,657.94 L848.66,658.00 L849.32,658.05 L849.97,658.10 L850.63,658.15 L851.28,658.20 L851.94,658.25 L852.60,658.30 L853.25,658.34 L853.91,658.39 L854.56,658.43 L855.22,658.48 L855.88,658.52 L856.53,658.56 L857.19,658.60 L857.84,658.64 L858.50,658.67 L859.16,658.71 L859.81,658.75 L860.47,658.78 L861.12,658.82 L861.78,658.85 L862.44,658.88 L863.09,658.91 L863.75,658.94 L864.40,658.97 L865.06,659.00" fill="none" stroke="#00CBCC" stroke-width="2.7" stroke-linejoin="round"/>
<path d="M497.70,659.31 L498.36,659.27 L499.01,659.24 L499.67,659.20 L500.32,659.16 L500.98,659.12 L501.64,659.08 L502.29,659.03 L502.95,658.99 L503.60,658.95 L504.26,658.90 L504.92,658.85 L505.57,658.81 L506.23,658.76 L506.88,658.71 L507.54,658.66 L508.20,658.60 L508.85,658.55 L509.51,658.50 L510.16,658.44 L510.82,658.38 L511.48,658.33 L512.13,658.27 L512.79,658.21 L513.44,658.14 L514.10,658.08 L514.76,658.02 L515.41,657.95 L516.07,657.88 L516.72,657.81 L517.38,657.74 L518.04,657.67 L518.69,657.60 L519.35,657.52 L520.00,657.45 L520.66,657.37 L521.32,657.29 L521.97,657.21 L522.63,657.13 L523.28,657.04 L523.94,656.96 L524.60,656.87 L525.25,656.78 L525.91,656.69 L526.56,656.60 L527.22,656.50 L527.88,656.41 L528.53,656.31 L529.19,656.21 L529.84,656.11 L530.50,656.00 L531.16,655.90 L531.81,655.79 L532.47,655.68 L533.12,655.57 L533.78,655.45 L534.44,655.34 L535.09,655.22 L535.75,655.10 L536.40,654.98 L537.06,654.85 L537.72,654.73 L538.37,654.60 L539.03,654.47 L539.68,654.33 L540.34,654.20 L541.00,654.06 L541.65,653.92 L542.31,653.78 L542.96,653.63 L543.62,653.49 L544.28,653.34 L544.93,653.19 L545.59,653.03 L546.24,652.87 L546.90,652.71 L547.56,652.55 L548.21,652.39 L548.87,652.22 L549.52,652.05 L550.18,651.88 L550.84,651.71 L551.49,651.53 L552.15,651.35 L552.80,651.17 L553.46,650.98 L554.12,650.79 L554.77,650.60 L555.43,650.41 L556.08,650.21 L556.74,650.01 L557.40,649.81 L558.05,649.60 L558.71,649.40 L559.36,649.19 L560.02,648.97 L560.68,648.76 L561.33,648.54 L561.99,648.32 L562.64,648.09 L563.30,647.86 L563.96,647.63 L564.61,647.40 L565.27,647.16 L565.92,646.92 L566.58,646.68 L567.24,646.43 L567.89,646.18 L568.55,645.93 L569.20,645.68 L569.86,645.42 L570.52,645.16 L571.17,644.90 L571.83,644.63 L572.48,644.36 L573.14,644.09 L573.80,643.81 L574.45,643.53 L575.11,643.25 L575.76,642.97 L576.42,642.68 L577.08,642.39 L577.73,642.09 L578.39,641.80 L579.04,641.50 L579.70,641.20 L580.36,640.89 L581.01,640.58 L581.67,640.27 L582.32,639.96 L582.98,639.64 L583.64,639.32 L584.29,639.00 L584.95,638.67 L585.60,638.34 L586.26,638.01 L586.92,637.68 L587.57,637.34 L588.23,637.00 L588.88,636.66 L589.54,636.31 L590.20,635.96 L590.85,635.61 L591.51,635.26 L592.16,634.90 L592.82,634.54 L593.48,634.18 L594.13,633.82 L594.79,633.45 L595.44,633.08 L596.10,632.71 L596.76,632.34 L597.41,631.97 L598.07,631.59 L598.72,631.21 L599.38,630.83 L600.04,630.44 L600.69,630.05 L601.35,629.67 L602.00,629.28 L602.66,628.88 L603.32,628.49 L603.97,628.09 L604.63,627.69 L605.28,627.29 L605.94,626.89 L606.60,626.49 L607.25,626.08 L607.91,625.68 L608.56,625.27 L609.22,624.86 L609.88,624.45 L610.53,624.04 L611.19,623.63 L611.84,623.21 L612.50,622.80 L613.16,622.38 L613.81,621.96 L614.47,621.54 L615.12,621.12 L615.78,620.70 L616.44,620.28 L617.09,619.86 L617.75,619.44 L618.40,619.02 L619.06,618.60 L619.72,618.17 L620.37,617.75 L621.03,617.33 L621.68,616.90 L622.34,616.48 L623.00,616.06 L623.65,615.64 L624.31,615.21 L624.96,614.79 L625.62,614.37 L626.28,613.95 L626.93,613.53 L627.59,613.11 L628.24,612.69 L628.90,612.27 L629.56,611.85 L630.21,611.43 L630.87,611.02 L631.52,610.61 L632.18,610.19 L632.84,609.78 L633.49,609.37 L634.15,608.96 L634.80,608.56 L635.46,608.15 L636.12,607.75 L636.77,607.35 L637.43,606.95 L638.08,606.55 L638.74,606.16 L639.40,605.77 L640.05,605.38 L640.71,604.99 L641.36,604.60 L642.02,604.22 L642.68,603.84 L643.33,603.47 L643.99,603.09 L644.64,602.72 L645.30,602.36 L645.96,601.99 L646.61,601.63 L647.27,601.28 L647.92,600.92 L648.58,600.57 L649.24,600.23 L649.89,599.89 L650.55,599.55 L651.20,599.21 L651.86,598.88 L652.52,598.56 L653.17,598.24 L653.83,597.92 L654.48,597.61 L655.14,597.30 L655.80,597.00 L656.45,596.70 L657.11,596.40 L657.76,596.12 L658.42,595.83 L659.08,595.55 L659.73,595.28 L660.39,595.01 L661.04,594.75 L661.70,594.49 L662.36,594.24 L663.01,593.99 L663.67,593.75 L664.32,593.52 L664.98,593.29 L665.64,593.06 L666.29,592.84 L666.95,592.63 L667.60,592.43 L668.26,592.23 L668.92,592.03 L669.57,591.85 L670.23,591.67 L670.88,591.49 L671.54,591.32 L672.20,591.16 L672.85,591.01 L673.51,590.86 L674.16,590.72 L674.82,590.58 L675.48,590.45 L676.13,590.33 L676.79,590.22 L677.44,590.11 L678.10,590.01 L678.76,589.91 L679.41,589.83 L680.07,589.75 L680.72,589.68 L681.38,589.61 L682.04,589.55 L682.69,589.50 L683.35,589.46 L684.00,589.43 L684.66,589.40 L685.32,589.38 L685.97,589.37 L686.63,589.36 L687.28,589.50 L687.94,589.65 L688.60,589.80 L689.25,589.94 L689.91,590.09 L690.56,590.25 L691.22,590.40 L691.88,590.56 L692.53,590.72 L693.19,590.88 L693.84,591.04 L694.50,591.21 L695.16,591.38 L695.81,591.56 L696.47,591.73 L697.12,591.91 L697.78,592.09 L698.44,592.28 L699.09,592.46 L699.75,592.65 L700.40,592.85 L701.06,593.04 L701.72,593.24 L702.37,593.44 L703.03,593.65 L703.68,593.86 L704.34,594.07 L705.00,594.28 L705.65,594.50 L706.31,594.72 L706.96,594.95 L707.62,595.17 L708.28,595.40 L708.93,595.64 L709.59,595.87 L710.24,596.11 L710.90,596.35 L711.56,596.60 L712.21,596.85 L712.87,597.10 L713.52,597.35 L714.18,597.61 L714.84,597.87 L715.49,598.13 L716.15,598.40 L716.80,598.67 L717.46,598.94 L718.12,599.22 L718.77,599.49 L719.43,599.78 L720.08,600.06 L720.74,600.35 L721.40,600.63 L722.05,600.93 L722.71,601.22 L723.36,601.52 L724.02,601.82 L724.68,602.12 L725.33,602.43 L725.99,602.73 L726.64,603.04 L727.30,603.36 L727.96,603.67 L728.61,603.99 L729.27,604.31 L729.92,604.63 L730.58,604.95 L731.24,605.28 L731.89,605.61 L732.55,605.94 L733.20,606.27 L733.86,606.60 L734.52,606.94 L735.17,607.28 L735.83,607.62 L736.48,607.96 L737.14,608.31 L737.80,608.65 L738.45,609.00 L739.11,609.35 L739.76,609.70 L740.42,610.05 L741.08,610.40 L741.73,610.76 L742.39,611.11 L743.04,611.47 L743.70,611.83 L744.36,612.19 L745.01,612.55 L745.67,612.91 L746.32,613.27 L746.98,613.63 L747.64,614.00 L748.29,614.36 L748.95,614.73 L749.60,615.10 L750.26,615.46 L750.92,615.83 L751.57,616.20 L752.23,616.57 L752.88,616.94 L753.54,617.31 L754.20,617.67 L754.85,618.04 L755.51,618.41 L756.16,618.78 L756.82,619.15 L757.48,619.53 L758.13,619.90 L758.79,620.27 L759.44,620.64 L760.10,621.00 L760.76,621.37 L761.41,621.74 L762.07,622.11 L762.72,622.48 L763.38,622.85 L764.04,623.21 L764.69,623.58 L765.35,623.95 L766.00,624.31 L766.66,624.68 L767.32,625.04 L767.97,625.40 L768.63,625.76 L769.28,626.12 L769.94,626.48 L770.60,626.84 L771.25,627.20 L771.91,627.55 L772.56,627.91 L773.22,628.26 L773.88,628.62 L774.53,628.97 L775.19,629.32 L775.84,629.66 L776.50,630.01 L777.16,630.36 L777.81,630.70 L778.47,631.04 L779.12,631.38 L779.78,631.72 L780.44,632.06 L781.09,632.39 L781.75,632.73 L782.40,633.06 L783.06,633.39 L783.72,633.72 L784.37,634.04 L785.03,634.36 L785.68,634.69 L786.34,635.01 L787.00,635.32 L787.65,635.64 L788.31,635.95 L788.96,636.26 L789.62,636.57 L790.28,636.88 L790.93,637.19 L791.59,637.49 L792.24,637.79 L792.90,638.09 L793.56,638.38 L794.21,638.68 L794.87,638.97 L795.52,639.26 L796.18,639.54 L796.84,639.83 L797.49,640.11 L798.15,640.39 L798.80,640.66 L799.46,640.94 L800.12,641.21 L800.77,641.48 L801.43,641.74 L802.08,642.01 L802.74,642.27 L803.40,642.53 L804.05,642.79 L804.71,643.04 L805.36,643.29 L806.02,643.54 L806.68,643.79 L807.33,644.03 L807.99,644.27 L808.64,644.51 L809.30,644.75 L809.96,644.98 L810.61,645.21 L811.27,645.44 L811.92,645.67 L812.58,645.89 L813.24,646.11 L813.89,646.33 L814.55,646.55 L815.20,646.76 L815.86,646.97 L816.52,647.18 L817.17,647.38 L817.83,647.59 L818.48,647.79 L819.14,647.99 L819.80,648.18 L820.45,648.37 L821.11,648.57 L821.76,648.75 L822.42,648.94 L823.08,649.12 L823.73,649.30 L824.39,649.48 L825.04,649.66 L825.70,649.83 L826.36,650.00 L827.01,650.17 L827.67,650.34 L828.32,650.50 L828.98,650.67 L829.64,650.83 L830.29,650.98 L830.95,651.14 L831.60,651.29 L832.26,651.44 L832.92,651.59 L833.57,651.74 L834.23,651.88 L834.88,652.03 L835.54,652.17 L836.20,652.30 L836.85,652.44 L837.51,652.57 L838.16,652.70 L838.82,652.83 L839.48,652.96 L840.13,653.09 L840.79,653.21 L841.44,653.33 L842.10,653.45 L842.76,653.57 L843.41,653.69 L844.07,653.80 L844.72,653.91 L845.38,654.02 L846.04,654.13 L846.69,654.24 L847.35,654.34 L848.00,654.45 L848.66,654.55 L849.32,654.65 L849.97,654.75 L850.63,654.84 L851.28,654.94 L851.94,655.03 L852.60,655.12 L853.25,655.21 L853.91,655.30 L854.56,655.39 L855.22,655.47 L855.88,655.55 L856.53,655.64 L857.19,655.72 L857.84,655.80 L858.50,655.88 L859.16,655.95 L859.81,656.03 L860.47,656.10 L861.12,656.17 L861.78,656.25 L862.44,656.31 L863.09,656.38 L863.75,656.45 L864.40,656.52 L865.06,656.58" fill="none" stroke="#7D4E4E" stroke-width="2.7" stroke-linejoin="round"/>
</svg>
<path d="M496.9,373.1 L858.5,373.1 L858.5,664.3" fill="none" stroke="#555" stroke-width="1.3"/>
<path d="M496.9,372.5 L496.9,664.3 L859.1,664.3" fill="none" stroke="#111" stroke-width="1.9"/>
<g stroke="#111" stroke-width="1.6">
<path d="M490.9,657.9 L496.9,657.9"/>
<path d="M492.9,634.9 L496.9,634.9"/>
<path d="M490.9,611.8 L496.9,611.8"/>
<path d="M492.9,588.8 L496.9,588.8"/>
<path d="M490.9,565.7 L496.9,565.7"/>
<path d="M492.9,542.7 L496.9,542.7"/>
<path d="M490.9,519.7 L496.9,519.7"/>
<path d="M492.9,496.6 L496.9,496.6"/>
<path d="M490.9,473.6 L496.9,473.6"/>
<path d="M492.9,450.5 L496.9,450.5"/>
<path d="M490.9,427.5 L496.9,427.5"/>
<path d="M492.9,404.5 L496.9,404.5"/>
<path d="M490.9,381.4 L496.9,381.4"/>
<path d="M497.7,664.3 L497.7,668.8"/>
<path d="M530.5,664.3 L530.5,666.8"/>
<path d="M563.3,664.3 L563.3,668.8"/>
<path d="M596.1,664.3 L596.1,666.8"/>
<path d="M628.9,664.3 L628.9,668.8"/>
<path d="M661.7,664.3 L661.7,666.8"/>
<path d="M694.5,664.3 L694.5,668.8"/>
<path d="M727.3,664.3 L727.3,666.8"/>
<path d="M760.1,664.3 L760.1,668.8"/>
<path d="M792.9,664.3 L792.9,666.8"/>
<path d="M825.7,664.3 L825.7,668.8"/>
<path d="M858.5,664.3 L858.5,666.8"/>
</g>
<text x="486.4" y="661.5" font-size="16" text-anchor="end" fill="#000" font-weight="bold" >300</text>
<text x="486.4" y="615.4" font-size="16" text-anchor="end" fill="#000" font-weight="bold" >400</text>
<text x="486.4" y="569.3" font-size="16" text-anchor="end" fill="#000" font-weight="bold" >500</text>
<text x="486.4" y="523.3" font-size="16" text-anchor="end" fill="#000" font-weight="bold" >600</text>
<text x="486.4" y="477.2" font-size="16" text-anchor="end" fill="#000" font-weight="bold" >700</text>
<text x="486.4" y="431.1" font-size="16" text-anchor="end" fill="#000" font-weight="bold" >800</text>
<text x="486.4" y="385.0" font-size="16" text-anchor="end" fill="#000" font-weight="bold" >900</text>
<text x="497.7" y="685" font-size="16" text-anchor="middle" fill="#000" font-weight="bold" >0</text>
<text x="563.3" y="685" font-size="16" text-anchor="middle" fill="#000" font-weight="bold" >20</text>
<text x="628.9" y="685" font-size="16" text-anchor="middle" fill="#000" font-weight="bold" >40</text>
<text x="694.5" y="685" font-size="16" text-anchor="middle" fill="#000" font-weight="bold" >60</text>
<text x="760.1" y="685" font-size="16" text-anchor="middle" fill="#000" font-weight="bold" >80</text>
<text x="825.7" y="685" font-size="16" text-anchor="middle" fill="#000" font-weight="bold" >100</text>
<text x="677.5" y="722" font-size="21" text-anchor="middle" fill="#000" font-weight="bold" textLength="90" lengthAdjust="spacingAndGlyphs" >Time (ns)</text>
<text transform="translate(443.8,511.4) rotate(-90)" x="0" y="0" font-size="22" text-anchor="middle" font-weight="bold" textLength="155.8" lengthAdjust="spacingAndGlyphs">Temperature (K)</text>
<text x="419.8" y="370.2" font-size="25.5" text-anchor="start" fill="#000" font-weight="bold" textLength="30.7" lengthAdjust="spacingAndGlyphs" >(d)</text>
<text x="471.5" y="400" font-size="16.5" font-weight="bold" fill="#E41A1A">T<tspan font-size="11.5" dy="3.2">m</tspan></text>
<text x="474.5" y="596.3" font-size="16.5" fill="#3A5A9A">T<tspan font-size="13" dy="3.2">c</tspan></text>
<rect x="704.7" y="373.1" width="153.79999999999995" height="164.10000000000002" fill="#fff" stroke="#777" stroke-width="1"/>
<path d="M705.2,384.7 L744,384.7" stroke="#515151" stroke-width="3"/>
<text x="746.2" y="389.3" font-size="13.5" font-weight="bold" textLength="108.6" lengthAdjust="spacingAndGlyphs">59.5 mJ/cm<tspan dy="-5" font-size="8.5">2</tspan><tspan dy="5"> &amp; 20 ns</tspan></text>
<path d="M705.2,405.0 L744,405.0" stroke="#F14040" stroke-width="3"/>
<text x="746.2" y="409.6" font-size="13.5" font-weight="bold" textLength="108.6" lengthAdjust="spacingAndGlyphs">52.3 mJ/cm<tspan dy="-5" font-size="8.5">2</tspan><tspan dy="5"> &amp; 25 ns</tspan></text>
<path d="M705.2,425.2 L744,425.2" stroke="#1A6FDF" stroke-width="3"/>
<text x="746.2" y="429.8" font-size="13.5" font-weight="bold" textLength="108.6" lengthAdjust="spacingAndGlyphs">45.8 mJ/cm<tspan dy="-5" font-size="8.5">2</tspan><tspan dy="5"> &amp; 30 ns</tspan></text>
<path d="M705.2,445.5 L744,445.5" stroke="#37AD6B" stroke-width="3"/>
<text x="746.2" y="450.1" font-size="13.5" font-weight="bold" textLength="108.6" lengthAdjust="spacingAndGlyphs">41.9 mJ/cm<tspan dy="-5" font-size="8.5">2</tspan><tspan dy="5"> &amp; 35 ns</tspan></text>
<path d="M705.2,465.7 L744,465.7" stroke="#B177DE" stroke-width="3"/>
<text x="746.2" y="470.3" font-size="13.5" font-weight="bold" textLength="108.6" lengthAdjust="spacingAndGlyphs">37.1 mJ/cm<tspan dy="-5" font-size="8.5">2</tspan><tspan dy="5"> &amp; 40 ns</tspan></text>
<path d="M705.2,486.0 L744,486.0" stroke="#CC9900" stroke-width="3"/>
<text x="746.2" y="490.6" font-size="13.5" font-weight="bold" textLength="108.6" lengthAdjust="spacingAndGlyphs">34.5 mJ/cm<tspan dy="-5" font-size="8.5">2</tspan><tspan dy="5"> &amp; 45 ns</tspan></text>
<path d="M705.2,506.3 L744,506.3" stroke="#00CBCC" stroke-width="3"/>
<text x="746.2" y="510.9" font-size="13.5" font-weight="bold" textLength="108.6" lengthAdjust="spacingAndGlyphs">30.5 mJ/cm<tspan dy="-5" font-size="8.5">2</tspan><tspan dy="5"> &amp; 50 ns</tspan></text>
<path d="M705.2,526.5 L744,526.5" stroke="#7D4E4E" stroke-width="3"/>
<text x="746.2" y="531.1" font-size="13.5" font-weight="bold" textLength="108.6" lengthAdjust="spacingAndGlyphs">26.2 mJ/cm<tspan dy="-5" font-size="8.5">2</tspan><tspan dy="5"> &amp; 55 ns</tspan></text>
</svg></body></html>
